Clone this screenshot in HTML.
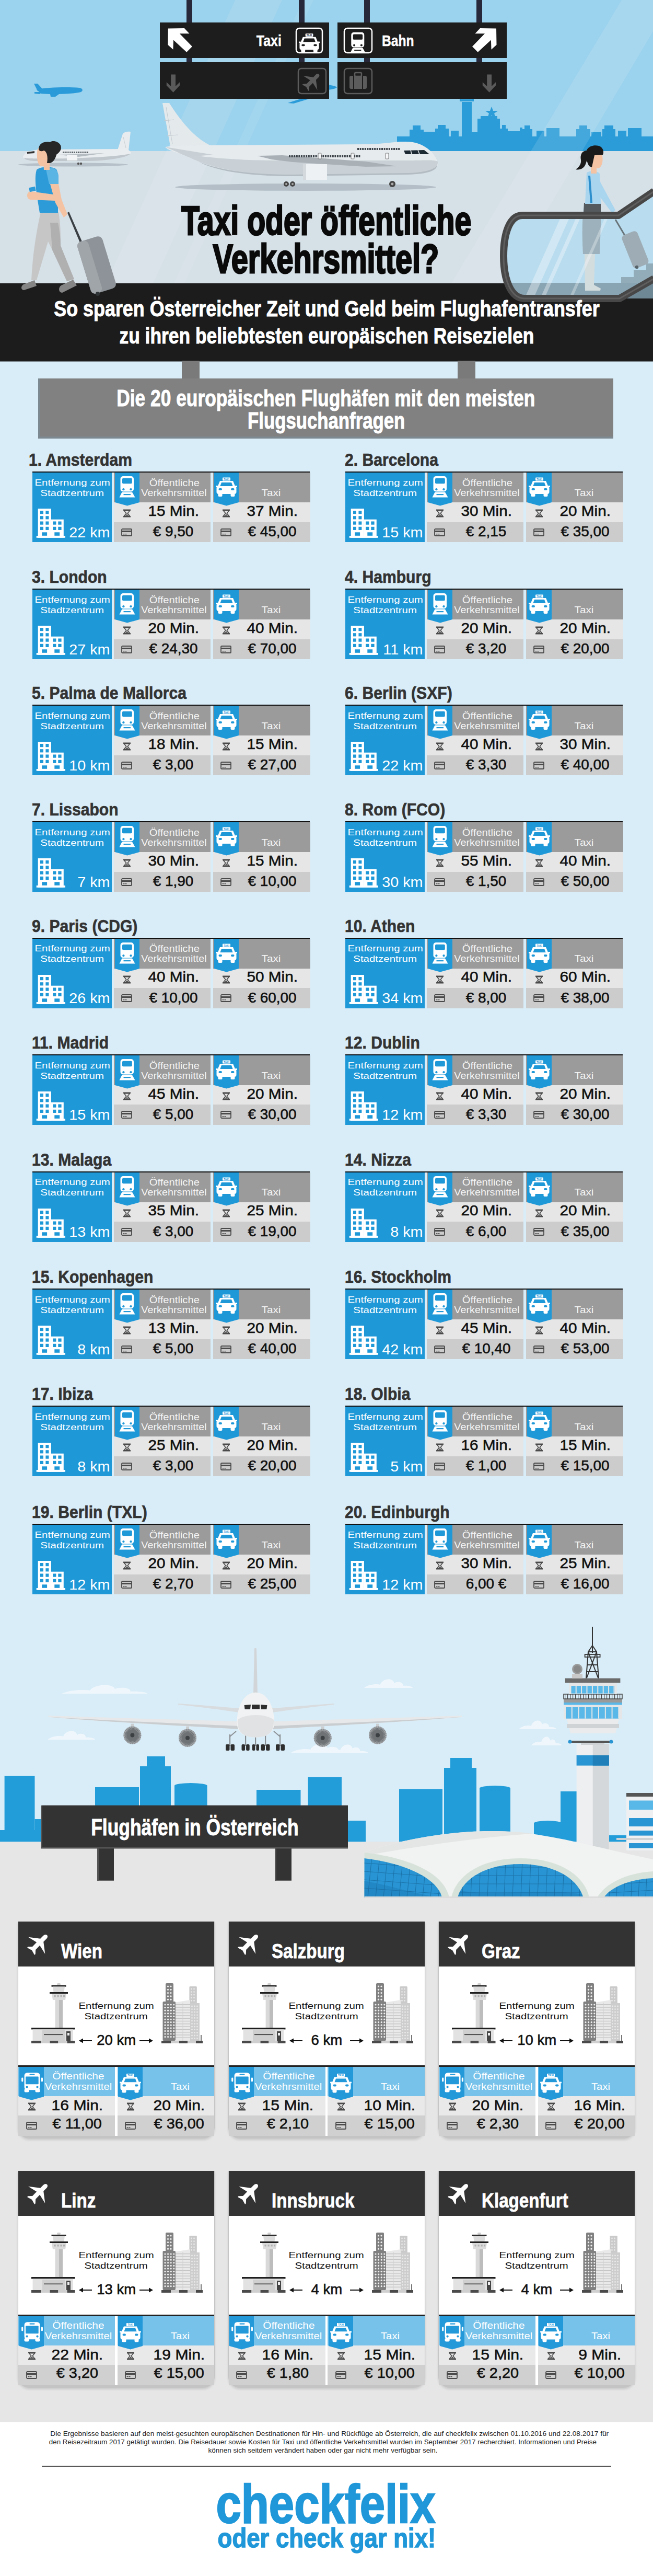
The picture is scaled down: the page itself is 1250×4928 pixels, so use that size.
<!DOCTYPE html><html lang='de'><head><meta charset='utf-8'><title>Taxi oder öffentliche Verkehrsmittel?</title><style>
html,body{margin:0;padding:0}
body{width:1250px;background:#fff;font-family:'Liberation Sans', Arial, Helvetica, sans-serif}
#pg{position:relative;width:1250px;height:4928px;overflow:hidden}
.t{position:absolute;white-space:nowrap;line-height:1}
.r{position:absolute}
.s{position:absolute;overflow:visible}
</style></head><body><div id='pg'>
<div class=r style="left:0.0px;top:0.0px;width:1250.0px;height:3530.0px;background:#d9edf8;"></div>
<div class=r style="left:0.0px;top:3524.0px;width:1250.0px;height:1100.0px;background:#e6e6e6;"></div>
<div class=r style="left:0.0px;top:4624.0px;width:1250.0px;height:304.0px;background:#ffffff;"></div>
<svg class=s style="left:0.0px;top:0.0px;" width="1250" height="690" viewBox="0 0 1250 690"><rect x='0' y='0' width='1250' height='290' fill='#9bd2ed'/><rect x='760' y='261' width='490' height='29' fill='#2b9cd8'/><rect x='784' y='248' width='27' height='13' fill='#2b9cd8'/><rect x='790' y='240' width='15' height='8' fill='#2b9cd8'/><rect x='811' y='252' width='22' height='9' fill='#2b9cd8'/><rect x='833' y='246' width='26' height='15' fill='#2b9cd8'/><rect x='838' y='239' width='15' height='7' fill='#2b9cd8'/><rect x='863' y='250' width='15' height='11' fill='#2b9cd8'/><rect x='884' y='195' width='19' height='66' fill='#2b9cd8'/><rect x='903' y='253' width='12' height='8' fill='#2b9cd8'/><rect x='914' y='227' width='43' height='34' fill='#2b9cd8'/><rect x='957' y='246' width='15' height='15' fill='#2b9cd8'/><rect x='961' y='239' width='7' height='7' fill='#2b9cd8'/><rect x='972' y='251' width='23' height='10' fill='#2b9cd8'/><rect x='995' y='244' width='5' height='17' fill='#2b9cd8'/><rect x='1000' y='247' width='19' height='14' fill='#2b9cd8'/><rect x='1004' y='240' width='11' height='7' fill='#2b9cd8'/><rect x='1027' y='250' width='15' height='11' fill='#2b9cd8'/><rect x='1046' y='245' width='25' height='16' fill='#2b9cd8'/><rect x='1103' y='247' width='27' height='14' fill='#2b9cd8'/><rect x='1109' y='240' width='15' height='7' fill='#2b9cd8'/><rect x='1132' y='253' width='19' height='8' fill='#2b9cd8'/><rect x='1153' y='247' width='25' height='14' fill='#2b9cd8'/><rect x='1157' y='240' width='17' height='7' fill='#2b9cd8'/><rect x='1183' y='250' width='16' height='11' fill='#2b9cd8'/><rect x='1202' y='245' width='26' height='16' fill='#2b9cd8'/><rect x='880' y='190' width='27' height='4' fill='#2b9cd8'/><rect x='880' y='186' width='3' height='6' fill='#2b9cd8'/><rect x='904' y='186' width='3' height='6' fill='#2b9cd8'/><polygon points='941,204 944,212 953,212 946,217 949,226 941,221 933,226 936,217 929,212 938,212' fill='#2b9cd8'/><rect x='920' y='222' width='32' height='6' fill='#2b9cd8'/><path d='M600 161 C620 161 638 162 645 167 C640 172 620 173 600 173 Z' fill='#2a9ad8'/><path d='M551 197 L585 186 L602 186 L562 198 Z' fill='#2a9ad8'/><rect x='0' y='289' width='1250' height='260' fill='#d6e0e7'/><polygon points='200,549 290,549 540,0 450,0' fill='#ffffff' opacity='0.10'/><polygon points='330,549 350,549 600,0 580,0' fill='#ffffff' opacity='0.08'/><polygon points='860,549 960,549 1250,60 1250,0 1190,0' fill='#ffffff' opacity='0.12'/><g fill='#2a9ad8'><path d='M70 171 C90 167 130 166 152 168 C158 169 160 173 155 176 C140 180 100 181 78 179 Z'/><path d='M65 160 L72 160 L83 172 L72 174 Z'/><path d='M95 175 L120 175 L106 185 L97 185 Z'/><path d='M66 176 L80 176 L76 180 L66 179 Z'/></g><ellipse cx='140' cy='315' rx='105' ry='3.5' fill='#b5c0c8'/><path d='M225 287 L235 256 C238 252 244 251 250 252 L246 288 Z' fill='#e8ecee'/><path d='M236 262 L241 283' stroke='#c9cfd3' stroke-width='1'/><path d='M44 300 C46 292 58 287 78 286 L236 285 C246 285 252 290 250 294 C246 300 220 303 180 304 L70 306 C54 306 44 304 44 300 Z' fill='#e9edf0'/><path d='M46 302 C60 305 200 304 250 294 C244 301 210 307 170 308 L72 308 C58 308 48 306 46 302 Z' fill='#c1c8cd'/><path d='M112 296 L200 293 L150 300 Z' fill='#b4bcc2'/><rect x='128' y='296' width='20' height='11' fill='#f2f4f5'/><path d='M52 291 L66 289 L66 293 L52 294 Z' fill='#333'/><circle cx='150' cy='313' r='2.2' fill='#555'/><circle cx='155' cy='313' r='2.2' fill='#555'/><rect x='120.0' y='290' width='2.2' height='2.5' fill='#4a5258'/><rect x='123.6' y='290' width='2.2' height='2.5' fill='#4a5258'/><rect x='127.2' y='290' width='2.2' height='2.5' fill='#4a5258'/><rect x='130.8' y='290' width='2.2' height='2.5' fill='#4a5258'/><rect x='134.4' y='290' width='2.2' height='2.5' fill='#4a5258'/><rect x='138.0' y='290' width='2.2' height='2.5' fill='#4a5258'/><rect x='141.6' y='290' width='2.2' height='2.5' fill='#4a5258'/><rect x='145.2' y='290' width='2.2' height='2.5' fill='#4a5258'/><rect x='148.8' y='290' width='2.2' height='2.5' fill='#4a5258'/><rect x='152.4' y='290' width='2.2' height='2.5' fill='#4a5258'/><rect x='156.0' y='290' width='2.2' height='2.5' fill='#4a5258'/><rect x='159.6' y='290' width='2.2' height='2.5' fill='#4a5258'/><rect x='163.2' y='290' width='2.2' height='2.5' fill='#4a5258'/><rect x='166.8' y='290' width='2.2' height='2.5' fill='#4a5258'/><ellipse cx='585' cy='358' rx='250' ry='7' fill='#b3bec6'/><path d='M311 197 L324 197 C345 230 370 262 402 278 L326 280 Z' fill='#e4e9ec'/><path d='M318 205 L330 275 M314 231 L333 229 M319 260 L340 258' stroke='#c4ccd1' stroke-width='1' fill='none'/><path d='M316 281 C330 279 360 278 400 278 L700 276 C740 276 760 268 790 272 C815 276 835 295 838 312 C839 325 820 332 780 333 L560 336 C470 336 400 320 360 300 C340 292 322 288 316 281 Z' fill='#e6ebee'/><path d='M340 292 C380 300 440 306 520 307 L780 307 C810 307 830 305 838 309 C839 325 820 332 780 333 L560 336 C470 336 400 320 360 300 Z' fill='#c9d1d6'/><path d='M380 309 C420 326 480 334 560 334 L780 331 C815 330 832 324 837 316 C836 326 820 333 780 334 L560 337 C470 337 410 326 380 309 Z' fill='#b3bcc2'/><path d='M316 281 L408 296 L360 300 Z' fill='#c9d0d5'/><path d='M492 298 L540 297 L700 309 L760 318 L700 319 L560 310 L520 305 Z' fill='#a9b1b7'/><rect x='580' y='314' width='46' height='30' fill='#eef1f3'/><rect x='580' y='314' width='6' height='30' fill='#d3d9dd'/><path d='M773 288 L812 287 L822 295 L776 295 Z' fill='#1e2a33'/><path d='M786 287 L788 295 M800 287 L803 295' stroke='#e6ebee' stroke-width='1.5'/><circle cx='548' cy='352' r='5' fill='#444'/><circle cx='560' cy='352' r='5' fill='#444'/><circle cx='751' cy='352' r='6' fill='#444'/><circle cx='548' cy='352' r='2' fill='#aaa'/><circle cx='560' cy='352' r='2' fill='#aaa'/><circle cx='751' cy='352' r='2.4' fill='#aaa'/><rect x='553.0' y='297' width='3' height='4' fill='#3a4248'/><rect x='557.6' y='297' width='3' height='4' fill='#3a4248'/><rect x='562.2' y='297' width='3' height='4' fill='#3a4248'/><rect x='566.8' y='297' width='3' height='4' fill='#3a4248'/><rect x='571.4' y='297' width='3' height='4' fill='#3a4248'/><rect x='576.0' y='297' width='3' height='4' fill='#3a4248'/><rect x='580.6' y='297' width='3' height='4' fill='#3a4248'/><rect x='585.2' y='297' width='3' height='4' fill='#3a4248'/><rect x='589.8' y='297' width='3' height='4' fill='#3a4248'/><rect x='594.4' y='297' width='3' height='4' fill='#3a4248'/><rect x='599.0' y='297' width='3' height='4' fill='#3a4248'/><rect x='603.6' y='297' width='3' height='4' fill='#3a4248'/><rect x='608.2' y='297' width='3' height='4' fill='#3a4248'/><rect x='612.8' y='297' width='3' height='4' fill='#3a4248'/><rect x='617.4' y='297' width='3' height='4' fill='#3a4248'/><rect x='622.0' y='297' width='3' height='4' fill='#3a4248'/><rect x='626.6' y='297' width='3' height='4' fill='#3a4248'/><rect x='631.2' y='297' width='3' height='4' fill='#3a4248'/><rect x='635.8' y='297' width='3' height='4' fill='#3a4248'/><rect x='640.4' y='297' width='3' height='4' fill='#3a4248'/><rect x='645.0' y='297' width='3' height='4' fill='#3a4248'/><rect x='649.6' y='297' width='3' height='4' fill='#3a4248'/><rect x='654.2' y='297' width='3' height='4' fill='#3a4248'/><rect x='658.8' y='297' width='3' height='4' fill='#3a4248'/><rect x='663.4' y='297' width='3' height='4' fill='#3a4248'/><rect x='668.0' y='297' width='3' height='4' fill='#3a4248'/><rect x='672.6' y='297' width='3' height='4' fill='#3a4248'/><rect x='677.2' y='297' width='3' height='4' fill='#3a4248'/><rect x='681.8' y='297' width='3' height='4' fill='#3a4248'/><rect x='686.4' y='297' width='3' height='4' fill='#3a4248'/><rect x='684.0' y='283' width='3' height='4' fill='#3a4248'/><rect x='688.6' y='283' width='3' height='4' fill='#3a4248'/><rect x='693.2' y='283' width='3' height='4' fill='#3a4248'/><rect x='697.8' y='283' width='3' height='4' fill='#3a4248'/><rect x='702.4' y='283' width='3' height='4' fill='#3a4248'/><rect x='707.0' y='283' width='3' height='4' fill='#3a4248'/><rect x='711.6' y='283' width='3' height='4' fill='#3a4248'/><rect x='716.2' y='283' width='3' height='4' fill='#3a4248'/><rect x='720.8' y='283' width='3' height='4' fill='#3a4248'/><rect x='725.4' y='283' width='3' height='4' fill='#3a4248'/><rect x='730.0' y='283' width='3' height='4' fill='#3a4248'/><rect x='734.6' y='283' width='3' height='4' fill='#3a4248'/><rect x='739.2' y='283' width='3' height='4' fill='#3a4248'/><rect x='743.8' y='283' width='3' height='4' fill='#3a4248'/><rect x='748.4' y='283' width='3' height='4' fill='#3a4248'/><rect x='753.0' y='283' width='3' height='4' fill='#3a4248'/><rect x='757.6' y='283' width='3' height='4' fill='#3a4248'/><rect x='762.2' y='283' width='3' height='4' fill='#3a4248'/><rect x='609' y='293' width='6' height='11' rx='1' fill='#f5f7f8' stroke='#555' stroke-width='0.8'/><rect x='672' y='293' width='6' height='11' rx='1' fill='#f5f7f8' stroke='#555' stroke-width='0.8'/><rect x='738' y='293' width='6' height='11' rx='1' fill='#f5f7f8' stroke='#555' stroke-width='0.8'/><rect x='357' y='0' width='11' height='121' fill='#27283a'/><rect x='572' y='0' width='11' height='121' fill='#27283a'/><rect x='697' y='0' width='11' height='121' fill='#27283a'/><rect x='912' y='0' width='11' height='121' fill='#27283a'/><rect x='306' y='43' width='324' height='68' fill='#1d1d1d'/><rect x='306' y='119' width='324' height='70' fill='#1d1d1d'/><rect x='646' y='43' width='324' height='68' fill='#1d1d1d'/><rect x='646' y='119' width='324' height='70' fill='#1d1d1d'/><polygon points='321.8,54.6 352.9,54.1 362.5,64.3 343.8,64.3 367.9,88.9 357.2,99.7 332.0,76.6 331.4,94.8 321.3,85.7' fill='#fff'/><polygon points='950.0,54.6 919.0,54.1 909.4,64.3 928.0,64.3 904.0,88.9 914.7,99.7 939.9,76.6 940.5,94.8 950.5,85.7' fill='#fff'/><polygon points='327.2,142.6 336.0,142.6 336.0,165.0 344.0,157.2 344.0,163.5 331.6,176.7 318.8,163.5 318.8,157.2 327.2,165.0' fill='#5a5a5a'/><polygon points='932.2,142.6 941.0,142.6 941.0,165.0 949.0,157.2 949.0,163.5 936.6,176.7 923.8,163.5 923.8,157.2 932.2,165.0' fill='#5a5a5a'/><rect x='567' y='54' width='50' height='47' rx='6' fill='none' stroke='#fff' stroke-width='2.5'/><g transform='translate(569 55) scale(0.98)'><rect x='16' y='9.5' width='15' height='6' rx='1' fill='#fff'/><text x='23.5' y='14.6' font-size='4.8' font-weight='700' text-anchor='middle' fill='#1d1d1d' font-family="Liberation Sans">TAXI</text><path d='M11 16 H36 L40.5 27 H6.5 Z' fill='#fff'/><path d='M14 19 H33 L35.6 26 H11.4 Z' fill='#1d1d1d'/><rect x='4.5' y='26' width='38' height='15' rx='4' fill='#fff'/><rect x='7.5' y='39' width='8' height='7' rx='2' fill='#fff'/><rect x='31.5' y='39' width='8' height='7' rx='2' fill='#fff'/><rect x='8.5' y='30' width='6.5' height='4' rx='2' fill='#1d1d1d'/><rect x='32' y='30' width='6.5' height='4' rx='2' fill='#1d1d1d'/><rect x='3' y='25' width='4' height='3' rx='1' fill='#fff'/><rect x='40' y='25' width='4' height='3' rx='1' fill='#fff'/></g><rect x='659' y='54' width='53' height='47' rx='6' fill='none' stroke='#fff' stroke-width='2.5'/><g transform='translate(662 55) scale(0.98)'><rect x='10.5' y='7' width='25.5' height='29.5' rx='5' fill='#fff'/><rect x='14' y='10.8' width='18.8' height='10.5' rx='2' fill='#1d1d1d'/><circle cx='16.4' cy='32.2' r='2.1' fill='#1d1d1d'/><circle cx='30.5' cy='32.2' r='2.1' fill='#1d1d1d'/><polygon points='13.5,37.5 33,37.5 38.5,47.5 8.5,47.5' fill='#fff'/><rect x='16.5' y='41' width='13.5' height='2.2' fill='#1d1d1d'/></g><rect x='571' y='131' width='53' height='48' rx='6' fill='none' stroke='#5c5c5c' stroke-width='2.5'/><g transform='translate(597.5 155) rotate(45) scale(0.8)'><path d='M0,-23 C3,-23 4.5,-20 4.5,-17 L4.5,-8.5 L24,6.4 L4.5,2 L4.5,14 L10.5,20.5 L10.5,23 L0,20 L-10.5,23 L-10.5,20.5 L-4.5,14 L-4.5,2 L-24,6.4 L-4.5,-8.5 L-4.5,-17 C-4.5,-20 -3,-23 0,-23 Z' fill='#5c5c5c'/></g><rect x='659' y='131' width='53' height='48' rx='6' fill='none' stroke='#5c5c5c' stroke-width='2.5'/><rect x='669' y='145' width='33' height='25' rx='3' fill='#5c5c5c'/><rect x='679' y='139' width='13' height='7' rx='2' fill='none' stroke='#5c5c5c' stroke-width='2.5'/><rect x='676' y='145' width='2' height='25' fill='#1d1d1d'/><rect x='693' y='145' width='2' height='25' fill='#1d1d1d'/><rect x='0' y='542' width='1250' height='149.5' fill='#1c1c1c'/><path d='M129 407 L132 405 L157 462 L153 464 Z' fill='#3a3f44'/><g transform='rotate(-17 185 507)'><rect x='160' y='455' width='50' height='104' rx='9' fill='#8d9398'/><rect x='160' y='455' width='22' height='104' rx='9' fill='#a0a5a9'/></g><circle cx='187' cy='562' r='4' fill='#2f3437'/><path d='M78 405 L112 405 C116 430 116 445 116 470 L140 534 L128 538 L100 478 L92 462 L70 536 L60 536 C62 500 66 460 78 405 Z' fill='#c6c6c6'/><path d='M96 426 L111 426 C114 440 116 455 116 470 L142 534 L128 538 L100 478 Z' fill='#b0b0b0'/><path d='M45 544 L66 536 L70 547 L46 555 C40 555 39 548 45 544 Z' fill='#858585'/><path d='M117 546 L140 535 L147 546 L119 560 C112 560 111 550 117 546 Z' fill='#858585'/><path d='M70 325 C78 318 100 318 108 324 C114 334 112 370 111 407 L76 407 C72 380 64 345 70 325 Z' fill='#2d9bd8'/><path d='M88 324 C100 318 110 322 112 336 L112 352 L94 352 Z' fill='#5ab4e4'/><path d='M96 352 L112 352 L118 382 L129 410 L122 416 L106 388 Z' fill='#f4c3a3'/><path d='M58 366 L102 372 L106 384 L58 382 C50 380 50 368 58 366 Z' fill='#f4c3a3'/><rect x='56' y='358' width='12' height='8' fill='#2d9bd8' transform='rotate(-12 62 362)'/><path d='M83 308 L95 308 L95 325 L84 325 Z' fill='#f4c3a3'/><path d='M71 292 C71 282 78 278 86 278 L94 300 C94 312 88 318 80 318 C74 318 70 308 71 292 Z' fill='#f4c3a3'/><path d='M74 286 C74 274 84 270 96 272 C100 268 112 270 116 278 C120 288 110 294 108 296 C106 304 102 310 96 312 L90 312 C92 300 90 290 84 288 C80 290 76 290 74 286 Z' fill='#262626'/><path d='M1250 366 L1184 412 L1000 412 C976 412 964 445 964 490 C964 535 978 571 1004 571 L1186 571 L1250 534 Z' fill='#b9dcee'/><path d='M968 541 L1250 541 L1250 571 L992 571 Z' fill='#6f8896'/><path d='M1189 541 L1189 530 L1213 530 L1213 517 L1237 517 L1237 504 L1250 504 L1250 541 Z' fill='#7d939f'/><path d='M1119 486 L1139 486 L1137 545 L1150 552 L1149 556 L1120 556 Z' fill='#e2ddd6'/><path d='M1118 388 L1150 388 L1150 430 L1148 486 L1116 486 C1114 450 1114 420 1118 388 Z' fill='#8e9aa2'/><path d='M1118 388 L1150 388 L1150 407 L1118 407 Z' fill='#555a5e'/><path d='M1123 331 C1128 326 1142 326 1148 332 L1150 390 L1120 390 Z' fill='#a9d5ef'/><path d='M1126 336 L1130 336 L1134 388 L1130 388 Z' fill='#2d8fcc'/><path d='M1134 338 C1140 336 1146 340 1150 350 L1178 402 L1172 408 L1142 368 Z' fill='#a9d5ef'/><path d='M1131 320 L1142 320 L1142 332 L1131 332 Z' fill='#f4c3a3'/><path d='M1131 294 L1152 294 C1155 304 1154 318 1146 322 L1132 322 Z' fill='#f4c3a3'/><path d='M1122 296 C1120 282 1134 276 1146 279 C1154 281 1157 290 1154 296 L1138 297 C1136 306 1134 314 1133 320 L1128 318 C1124 312 1122 304 1122 296 Z' fill='#1a1a1a'/><path d='M1124 288 C1114 288 1110 296 1112 306 C1113 314 1108 320 1102 324 C1110 326 1118 322 1121 314 C1124 306 1126 298 1126 292 Z' fill='#1a1a1a'/><path d='M1178 420 L1197 452' stroke='#3d3d3d' stroke-width='3'/><g transform='rotate(-22 1215 478)'><rect x='1200' y='444' width='32' height='68' rx='7' fill='#8e9397'/></g><circle cx='1219' cy='511' r='3.2' fill='#222'/><path d='M1250 366 L1184 412 L1000 412 C976 412 964 445 964 490 C964 535 978 571 1004 571 L1186 571 L1250 534 Z' fill='#b9dcee' opacity='0.35'/><polygon points='1005,569 1075,412 1092,412 1022,569' fill='#ffffff' opacity='0.35'/><polygon points='1035,569 1105,412 1113,412 1043,569' fill='#ffffff' opacity='0.35'/><polygon points='1090,569 1160,412 1166,412 1096,569' fill='#ffffff' opacity='0.3'/><path d='M1252 366 L1184 412 L1000 412 C976 412 964 445 964 490 C964 535 978 571 1004 571 L1186 571 L1252 533' fill='none' stroke='#474747' stroke-width='14' stroke-linejoin='round'/><path d='M1252 366 L1184 412 L1000 412 C976 412 964 445 964 490 C964 535 978 571 1004 571 L1186 571 L1252 533' fill='none' stroke='#5f5f5f' stroke-width='3' stroke-linejoin='round'/></svg>
<div class=t style="left:-2461.5px;width:3000px;text-align:right;top:62.6px;font-size:30px;font-weight:700;color:#fff;-webkit-text-stroke:0.5px #fff;"><span style="display:inline-block;transform:scaleX(0.83);transform-origin:right;">Taxi</span></div>
<div class=t style="left:731.0px;top:62.6px;font-size:30px;font-weight:700;color:#fff;-webkit-text-stroke:0.5px #fff;"><span style="display:inline-block;transform:scaleX(0.82);transform-origin:left;">Bahn</span></div>
<div class=t style="left:-875.5px;width:3000px;text-align:center;top:383.8px;font-size:77px;font-weight:700;color:#0a0a0a;-webkit-text-stroke:3px #0a0a0a;"><span style="display:inline-block;transform:scaleX(0.743);transform-origin:center;">Taxi oder öffentliche</span></div>
<div class=t style="left:-876.0px;width:3000px;text-align:center;top:457.3px;font-size:77px;font-weight:700;color:#0a0a0a;-webkit-text-stroke:3px #0a0a0a;"><span style="display:inline-block;transform:scaleX(0.749);transform-origin:center;">Verkehrsmittel?</span></div>
<div class=t style="left:-875.0px;width:3000px;text-align:center;top:570.4px;font-size:42px;font-weight:700;color:#fff;-webkit-text-stroke:1px #fff;"><span style="display:inline-block;transform:scaleX(0.854);transform-origin:center;">So sparen Österreicher Zeit und Geld beim Flughafentransfer</span></div>
<div class=t style="left:-875.0px;width:3000px;text-align:center;top:622.4px;font-size:42px;font-weight:700;color:#fff;-webkit-text-stroke:1px #fff;"><span style="display:inline-block;transform:scaleX(0.842);transform-origin:center;">zu ihren beliebtesten europäischen Reisezielen</span></div>
<div class=r style="left:348.0px;top:690.0px;width:34.0px;height:34.0px;background:#7a7a7a;"></div>
<div class=r style="left:876.0px;top:690.0px;width:34.0px;height:34.0px;background:#7a7a7a;"></div>
<div class=r style="left:73.0px;top:724.0px;width:1101.0px;height:115.0px;background:#7d8990;"></div>
<div class=r style="left:77.0px;top:724.0px;width:1097.0px;height:111.0px;background:#818181;"></div>
<div class=t style="left:-876.0px;width:3000px;text-align:center;top:739.8px;font-size:44px;font-weight:700;color:#fff;-webkit-text-stroke:1px #fff;"><span style="display:inline-block;transform:scaleX(0.803);transform-origin:center;">Die 20 europäischen Flughäfen mit den meisten</span></div>
<div class=t style="left:-875.0px;width:3000px;text-align:center;top:782.8px;font-size:44px;font-weight:700;color:#fff;-webkit-text-stroke:1px #fff;"><span style="display:inline-block;transform:scaleX(0.79);transform-origin:center;">Flugsuchanfragen</span></div>
<div class=t style="left:55.0px;top:862.2px;font-size:34px;font-weight:700;color:#333;-webkit-text-stroke:0.7px #333;"><span style="display:inline-block;transform:scaleX(0.885);transform-origin:left;">1. Amsterdam</span></div>
<div class=r style="left:62.0px;top:902.0px;width:531.0px;height:2.0px;background:#111;"></div>
<div class=r style="left:62.0px;top:904.0px;width:152.0px;height:133.0px;background:#1f98d8;"></div>
<div class=t style="left:-1361.5px;width:3000px;text-align:center;top:914.9px;font-size:17.2px;font-weight:400;color:#fff;"><span style="display:inline-block;transform:scaleX(1.19);transform-origin:center;">Entfernung zum</span></div>
<div class=t style="left:-1361.5px;width:3000px;text-align:center;top:934.9px;font-size:17.2px;font-weight:400;color:#fff;"><span style="display:inline-block;transform:scaleX(1.19);transform-origin:center;">Stadtzentrum</span></div>
<svg class=s style="left:62.0px;top:965.0px;" width="70" height="70" viewBox="0 0 70 70"><rect x='10.7' y='8' width='25.2' height='55.8' fill='#fff'/><rect x='35.9' y='28.7' width='23.9' height='35' fill='#fff'/><rect x='7.7' y='60' width='55.3' height='3.8' fill='#fff'/><rect x='15' y='12' width='6' height='6.2' fill='#1f98d8'/><rect x='25.4' y='12' width='6' height='6.2' fill='#1f98d8'/><rect x='15' y='22.2' width='6' height='6.2' fill='#1f98d8'/><rect x='25.4' y='22.2' width='6' height='6.2' fill='#1f98d8'/><rect x='15' y='32.5' width='6' height='6.2' fill='#1f98d8'/><rect x='25.4' y='32.5' width='6' height='6.2' fill='#1f98d8'/><rect x='15' y='42.8' width='6' height='6.2' fill='#1f98d8'/><rect x='25.4' y='42.8' width='6' height='6.2' fill='#1f98d8'/><rect x='39.1' y='32.5' width='6.3' height='6.2' fill='#1f98d8'/><rect x='49.3' y='32.5' width='6.3' height='6.2' fill='#1f98d8'/><rect x='39.1' y='42.8' width='6.3' height='6.2' fill='#1f98d8'/><rect x='49.3' y='42.8' width='6.3' height='6.2' fill='#1f98d8'/><rect x='18.2' y='53.3' width='9.9' height='6.5' fill='#1f98d8'/><rect x='42.3' y='53.3' width='9.9' height='6.5' fill='#1f98d8'/></svg>
<div class=t style="left:-2789.0px;width:3000px;text-align:right;top:1005.6px;font-size:27px;font-weight:400;color:#fff;"><span style="display:inline-block;transform:scaleX(1.066);transform-origin:right;">22 km</span></div>
<div class=r style="left:217.8px;top:904.0px;width:185.0px;height:57.0px;background:#9b9b9b;"></div>
<div class=r style="left:217.8px;top:961.0px;width:185.0px;height:37.5px;background:#e6e6e6;"></div>
<div class=r style="left:217.8px;top:998.5px;width:185.0px;height:38.5px;background:#cccccc;"></div>
<svg class=s style="left:219.8px;top:904.0px;" width="47" height="64" viewBox="0 0 47 64"><polygon points='0,0 47,0 47,57 23.5,63.6 0,57' fill='#1f98d8'/><rect x='10.5' y='7' width='25.5' height='29.5' rx='5' fill='#fff'/><rect x='14' y='10.8' width='18.8' height='10.5' rx='2' fill='#1f98d8'/><circle cx='16.4' cy='32.2' r='2.1' fill='#1f98d8'/><circle cx='30.5' cy='32.2' r='2.1' fill='#1f98d8'/><polygon points='13.5,37.5 33,37.5 38.5,47.5 8.5,47.5' fill='#fff'/><rect x='16.5' y='41' width='13.5' height='2.2' fill='#1f98d8'/></svg>
<div class=t style="left:-1166.5px;width:3000px;text-align:center;top:914.8px;font-size:18px;font-weight:400;color:#f4f4f4;"><span style="display:inline-block;transform:scaleX(1.12);transform-origin:center;">Öffentliche</span></div>
<div class=t style="left:-1166.5px;width:3000px;text-align:center;top:933.8px;font-size:18px;font-weight:400;color:#f4f4f4;"><span style="display:inline-block;transform:scaleX(1.1);transform-origin:center;">Verkehrsmittel</span></div>
<svg class=s style="left:235.3px;top:974.0px;" width="16" height="16" viewBox="0 0 16 16"><rect x='1' y='0.5' width='14' height='2.2' fill='#4a4a4a'/><rect x='1' y='13.3' width='14' height='2.2' fill='#4a4a4a'/><path d='M2.5 2.7 H13.5 L9.2 8 L13.5 13.3 H2.5 L6.8 8 Z' fill='none' stroke='#4a4a4a' stroke-width='1.6'/><path d='M5 12.4 L8 9.6 L11 12.4 Z' fill='#4a4a4a'/></svg>
<svg class=s style="left:232.3px;top:1010.5px;" width="21" height="15" viewBox="0 0 21 15"><rect x='1' y='1' width='19' height='13' rx='1.6' fill='none' stroke='#4a4a4a' stroke-width='1.8'/><rect x='1' y='4' width='19' height='3' fill='#4a4a4a'/><rect x='3.5' y='10' width='3' height='1.4' fill='#4a4a4a'/><rect x='7.5' y='10' width='3' height='1.4' fill='#4a4a4a'/></svg>
<div class=t style="left:-1168.0px;width:3000px;text-align:center;top:964.9px;font-size:27px;font-weight:400;color:#111;-webkit-text-stroke:0.6px #111;"><span style="display:inline-block;transform:scaleX(1.1);transform-origin:center;">15 Min.</span></div>
<div class=t style="left:-1168.0px;width:3000px;text-align:center;top:1004.1px;font-size:27px;font-weight:400;color:#111;-webkit-text-stroke:0.6px #111;"><span style="display:inline-block;transform:scaleX(1.034);transform-origin:center;">€ 9,50</span></div>
<div class=r style="left:407.5px;top:904.0px;width:186.0px;height:57.0px;background:#9b9b9b;"></div>
<div class=r style="left:407.5px;top:961.0px;width:186.0px;height:37.5px;background:#e6e6e6;"></div>
<div class=r style="left:407.5px;top:998.5px;width:186.0px;height:38.5px;background:#cccccc;"></div>
<svg class=s style="left:409.5px;top:904.0px;" width="47" height="64" viewBox="0 0 47 64"><polygon points='0,0 47,0 47,57 23.5,63.6 0,57' fill='#1f98d8'/><rect x='16' y='9.5' width='15' height='6' rx='1' fill='#fff'/><text x='23.5' y='14.6' font-size='4.8' font-weight='700' text-anchor='middle' fill='#1f98d8' font-family="Liberation Sans">TAXI</text><path d='M11 16 H36 L40.5 27 H6.5 Z' fill='#fff'/><path d='M14 19 H33 L35.6 26 H11.4 Z' fill='#1f98d8'/><rect x='4.5' y='26' width='38' height='15' rx='4' fill='#fff'/><rect x='7.5' y='39' width='8' height='7' rx='2' fill='#fff'/><rect x='31.5' y='39' width='8' height='7' rx='2' fill='#fff'/><rect x='8.5' y='30' width='6.5' height='4' rx='2' fill='#1f98d8'/><rect x='32' y='30' width='6.5' height='4' rx='2' fill='#1f98d8'/><rect x='3' y='25' width='4' height='3' rx='1' fill='#fff'/><rect x='40' y='25' width='4' height='3' rx='1' fill='#fff'/></svg>
<div class=t style="left:-980.5px;width:3000px;text-align:center;top:933.8px;font-size:18px;font-weight:400;color:#f4f4f4;"><span style="display:inline-block;transform:scaleX(1.15);transform-origin:center;">Taxi</span></div>
<svg class=s style="left:425.0px;top:974.0px;" width="16" height="16" viewBox="0 0 16 16"><rect x='1' y='0.5' width='14' height='2.2' fill='#4a4a4a'/><rect x='1' y='13.3' width='14' height='2.2' fill='#4a4a4a'/><path d='M2.5 2.7 H13.5 L9.2 8 L13.5 13.3 H2.5 L6.8 8 Z' fill='none' stroke='#4a4a4a' stroke-width='1.6'/><path d='M5 12.4 L8 9.6 L11 12.4 Z' fill='#4a4a4a'/></svg>
<svg class=s style="left:422.0px;top:1010.5px;" width="21" height="15" viewBox="0 0 21 15"><rect x='1' y='1' width='19' height='13' rx='1.6' fill='none' stroke='#4a4a4a' stroke-width='1.8'/><rect x='1' y='4' width='19' height='3' fill='#4a4a4a'/><rect x='3.5' y='10' width='3' height='1.4' fill='#4a4a4a'/><rect x='7.5' y='10' width='3' height='1.4' fill='#4a4a4a'/></svg>
<div class=t style="left:-979.0px;width:3000px;text-align:center;top:964.9px;font-size:27px;font-weight:400;color:#111;-webkit-text-stroke:0.6px #111;"><span style="display:inline-block;transform:scaleX(1.1);transform-origin:center;">37 Min.</span></div>
<div class=t style="left:-979.0px;width:3000px;text-align:center;top:1004.1px;font-size:27px;font-weight:400;color:#111;-webkit-text-stroke:0.6px #111;"><span style="display:inline-block;transform:scaleX(1.034);transform-origin:center;">€ 45,00</span></div>
<div class=t style="left:660.0px;top:862.2px;font-size:34px;font-weight:700;color:#333;-webkit-text-stroke:0.7px #333;"><span style="display:inline-block;transform:scaleX(0.885);transform-origin:left;">2. Barcelona</span></div>
<div class=r style="left:661.0px;top:902.0px;width:531.0px;height:2.0px;background:#111;"></div>
<div class=r style="left:661.0px;top:904.0px;width:152.0px;height:133.0px;background:#1f98d8;"></div>
<div class=t style="left:-762.5px;width:3000px;text-align:center;top:914.9px;font-size:17.2px;font-weight:400;color:#fff;"><span style="display:inline-block;transform:scaleX(1.19);transform-origin:center;">Entfernung zum</span></div>
<div class=t style="left:-762.5px;width:3000px;text-align:center;top:934.9px;font-size:17.2px;font-weight:400;color:#fff;"><span style="display:inline-block;transform:scaleX(1.19);transform-origin:center;">Stadtzentrum</span></div>
<svg class=s style="left:661.0px;top:965.0px;" width="70" height="70" viewBox="0 0 70 70"><rect x='10.7' y='8' width='25.2' height='55.8' fill='#fff'/><rect x='35.9' y='28.7' width='23.9' height='35' fill='#fff'/><rect x='7.7' y='60' width='55.3' height='3.8' fill='#fff'/><rect x='15' y='12' width='6' height='6.2' fill='#1f98d8'/><rect x='25.4' y='12' width='6' height='6.2' fill='#1f98d8'/><rect x='15' y='22.2' width='6' height='6.2' fill='#1f98d8'/><rect x='25.4' y='22.2' width='6' height='6.2' fill='#1f98d8'/><rect x='15' y='32.5' width='6' height='6.2' fill='#1f98d8'/><rect x='25.4' y='32.5' width='6' height='6.2' fill='#1f98d8'/><rect x='15' y='42.8' width='6' height='6.2' fill='#1f98d8'/><rect x='25.4' y='42.8' width='6' height='6.2' fill='#1f98d8'/><rect x='39.1' y='32.5' width='6.3' height='6.2' fill='#1f98d8'/><rect x='49.3' y='32.5' width='6.3' height='6.2' fill='#1f98d8'/><rect x='39.1' y='42.8' width='6.3' height='6.2' fill='#1f98d8'/><rect x='49.3' y='42.8' width='6.3' height='6.2' fill='#1f98d8'/><rect x='18.2' y='53.3' width='9.9' height='6.5' fill='#1f98d8'/><rect x='42.3' y='53.3' width='9.9' height='6.5' fill='#1f98d8'/></svg>
<div class=t style="left:-2190.0px;width:3000px;text-align:right;top:1005.6px;font-size:27px;font-weight:400;color:#fff;"><span style="display:inline-block;transform:scaleX(1.066);transform-origin:right;">15 km</span></div>
<div class=r style="left:816.8px;top:904.0px;width:185.0px;height:57.0px;background:#9b9b9b;"></div>
<div class=r style="left:816.8px;top:961.0px;width:185.0px;height:37.5px;background:#e6e6e6;"></div>
<div class=r style="left:816.8px;top:998.5px;width:185.0px;height:38.5px;background:#cccccc;"></div>
<svg class=s style="left:818.8px;top:904.0px;" width="47" height="64" viewBox="0 0 47 64"><polygon points='0,0 47,0 47,57 23.5,63.6 0,57' fill='#1f98d8'/><rect x='10.5' y='7' width='25.5' height='29.5' rx='5' fill='#fff'/><rect x='14' y='10.8' width='18.8' height='10.5' rx='2' fill='#1f98d8'/><circle cx='16.4' cy='32.2' r='2.1' fill='#1f98d8'/><circle cx='30.5' cy='32.2' r='2.1' fill='#1f98d8'/><polygon points='13.5,37.5 33,37.5 38.5,47.5 8.5,47.5' fill='#fff'/><rect x='16.5' y='41' width='13.5' height='2.2' fill='#1f98d8'/></svg>
<div class=t style="left:-567.5px;width:3000px;text-align:center;top:914.8px;font-size:18px;font-weight:400;color:#f4f4f4;"><span style="display:inline-block;transform:scaleX(1.12);transform-origin:center;">Öffentliche</span></div>
<div class=t style="left:-567.5px;width:3000px;text-align:center;top:933.8px;font-size:18px;font-weight:400;color:#f4f4f4;"><span style="display:inline-block;transform:scaleX(1.1);transform-origin:center;">Verkehrsmittel</span></div>
<svg class=s style="left:834.3px;top:974.0px;" width="16" height="16" viewBox="0 0 16 16"><rect x='1' y='0.5' width='14' height='2.2' fill='#4a4a4a'/><rect x='1' y='13.3' width='14' height='2.2' fill='#4a4a4a'/><path d='M2.5 2.7 H13.5 L9.2 8 L13.5 13.3 H2.5 L6.8 8 Z' fill='none' stroke='#4a4a4a' stroke-width='1.6'/><path d='M5 12.4 L8 9.6 L11 12.4 Z' fill='#4a4a4a'/></svg>
<svg class=s style="left:831.3px;top:1010.5px;" width="21" height="15" viewBox="0 0 21 15"><rect x='1' y='1' width='19' height='13' rx='1.6' fill='none' stroke='#4a4a4a' stroke-width='1.8'/><rect x='1' y='4' width='19' height='3' fill='#4a4a4a'/><rect x='3.5' y='10' width='3' height='1.4' fill='#4a4a4a'/><rect x='7.5' y='10' width='3' height='1.4' fill='#4a4a4a'/></svg>
<div class=t style="left:-569.0px;width:3000px;text-align:center;top:964.9px;font-size:27px;font-weight:400;color:#111;-webkit-text-stroke:0.6px #111;"><span style="display:inline-block;transform:scaleX(1.1);transform-origin:center;">30 Min.</span></div>
<div class=t style="left:-569.0px;width:3000px;text-align:center;top:1004.1px;font-size:27px;font-weight:400;color:#111;-webkit-text-stroke:0.6px #111;"><span style="display:inline-block;transform:scaleX(1.034);transform-origin:center;">€ 2,15</span></div>
<div class=r style="left:1006.5px;top:904.0px;width:186.0px;height:57.0px;background:#9b9b9b;"></div>
<div class=r style="left:1006.5px;top:961.0px;width:186.0px;height:37.5px;background:#e6e6e6;"></div>
<div class=r style="left:1006.5px;top:998.5px;width:186.0px;height:38.5px;background:#cccccc;"></div>
<svg class=s style="left:1008.5px;top:904.0px;" width="47" height="64" viewBox="0 0 47 64"><polygon points='0,0 47,0 47,57 23.5,63.6 0,57' fill='#1f98d8'/><rect x='16' y='9.5' width='15' height='6' rx='1' fill='#fff'/><text x='23.5' y='14.6' font-size='4.8' font-weight='700' text-anchor='middle' fill='#1f98d8' font-family="Liberation Sans">TAXI</text><path d='M11 16 H36 L40.5 27 H6.5 Z' fill='#fff'/><path d='M14 19 H33 L35.6 26 H11.4 Z' fill='#1f98d8'/><rect x='4.5' y='26' width='38' height='15' rx='4' fill='#fff'/><rect x='7.5' y='39' width='8' height='7' rx='2' fill='#fff'/><rect x='31.5' y='39' width='8' height='7' rx='2' fill='#fff'/><rect x='8.5' y='30' width='6.5' height='4' rx='2' fill='#1f98d8'/><rect x='32' y='30' width='6.5' height='4' rx='2' fill='#1f98d8'/><rect x='3' y='25' width='4' height='3' rx='1' fill='#fff'/><rect x='40' y='25' width='4' height='3' rx='1' fill='#fff'/></svg>
<div class=t style="left:-381.5px;width:3000px;text-align:center;top:933.8px;font-size:18px;font-weight:400;color:#f4f4f4;"><span style="display:inline-block;transform:scaleX(1.15);transform-origin:center;">Taxi</span></div>
<svg class=s style="left:1024.0px;top:974.0px;" width="16" height="16" viewBox="0 0 16 16"><rect x='1' y='0.5' width='14' height='2.2' fill='#4a4a4a'/><rect x='1' y='13.3' width='14' height='2.2' fill='#4a4a4a'/><path d='M2.5 2.7 H13.5 L9.2 8 L13.5 13.3 H2.5 L6.8 8 Z' fill='none' stroke='#4a4a4a' stroke-width='1.6'/><path d='M5 12.4 L8 9.6 L11 12.4 Z' fill='#4a4a4a'/></svg>
<svg class=s style="left:1021.0px;top:1010.5px;" width="21" height="15" viewBox="0 0 21 15"><rect x='1' y='1' width='19' height='13' rx='1.6' fill='none' stroke='#4a4a4a' stroke-width='1.8'/><rect x='1' y='4' width='19' height='3' fill='#4a4a4a'/><rect x='3.5' y='10' width='3' height='1.4' fill='#4a4a4a'/><rect x='7.5' y='10' width='3' height='1.4' fill='#4a4a4a'/></svg>
<div class=t style="left:-380.0px;width:3000px;text-align:center;top:964.9px;font-size:27px;font-weight:400;color:#111;-webkit-text-stroke:0.6px #111;"><span style="display:inline-block;transform:scaleX(1.1);transform-origin:center;">20 Min.</span></div>
<div class=t style="left:-380.0px;width:3000px;text-align:center;top:1004.1px;font-size:27px;font-weight:400;color:#111;-webkit-text-stroke:0.6px #111;"><span style="display:inline-block;transform:scaleX(1.034);transform-origin:center;">€ 35,00</span></div>
<div class=t style="left:61.0px;top:1086.2px;font-size:34px;font-weight:700;color:#333;-webkit-text-stroke:0.7px #333;"><span style="display:inline-block;transform:scaleX(0.885);transform-origin:left;">3. London</span></div>
<div class=r style="left:62.0px;top:1126.0px;width:531.0px;height:2.0px;background:#111;"></div>
<div class=r style="left:62.0px;top:1128.0px;width:152.0px;height:133.0px;background:#1f98d8;"></div>
<div class=t style="left:-1361.5px;width:3000px;text-align:center;top:1138.9px;font-size:17.2px;font-weight:400;color:#fff;"><span style="display:inline-block;transform:scaleX(1.19);transform-origin:center;">Entfernung zum</span></div>
<div class=t style="left:-1361.5px;width:3000px;text-align:center;top:1158.9px;font-size:17.2px;font-weight:400;color:#fff;"><span style="display:inline-block;transform:scaleX(1.19);transform-origin:center;">Stadtzentrum</span></div>
<svg class=s style="left:62.0px;top:1189.0px;" width="70" height="70" viewBox="0 0 70 70"><rect x='10.7' y='8' width='25.2' height='55.8' fill='#fff'/><rect x='35.9' y='28.7' width='23.9' height='35' fill='#fff'/><rect x='7.7' y='60' width='55.3' height='3.8' fill='#fff'/><rect x='15' y='12' width='6' height='6.2' fill='#1f98d8'/><rect x='25.4' y='12' width='6' height='6.2' fill='#1f98d8'/><rect x='15' y='22.2' width='6' height='6.2' fill='#1f98d8'/><rect x='25.4' y='22.2' width='6' height='6.2' fill='#1f98d8'/><rect x='15' y='32.5' width='6' height='6.2' fill='#1f98d8'/><rect x='25.4' y='32.5' width='6' height='6.2' fill='#1f98d8'/><rect x='15' y='42.8' width='6' height='6.2' fill='#1f98d8'/><rect x='25.4' y='42.8' width='6' height='6.2' fill='#1f98d8'/><rect x='39.1' y='32.5' width='6.3' height='6.2' fill='#1f98d8'/><rect x='49.3' y='32.5' width='6.3' height='6.2' fill='#1f98d8'/><rect x='39.1' y='42.8' width='6.3' height='6.2' fill='#1f98d8'/><rect x='49.3' y='42.8' width='6.3' height='6.2' fill='#1f98d8'/><rect x='18.2' y='53.3' width='9.9' height='6.5' fill='#1f98d8'/><rect x='42.3' y='53.3' width='9.9' height='6.5' fill='#1f98d8'/></svg>
<div class=t style="left:-2789.0px;width:3000px;text-align:right;top:1229.6px;font-size:27px;font-weight:400;color:#fff;"><span style="display:inline-block;transform:scaleX(1.066);transform-origin:right;">27 km</span></div>
<div class=r style="left:217.8px;top:1128.0px;width:185.0px;height:57.0px;background:#9b9b9b;"></div>
<div class=r style="left:217.8px;top:1185.0px;width:185.0px;height:37.5px;background:#e6e6e6;"></div>
<div class=r style="left:217.8px;top:1222.5px;width:185.0px;height:38.5px;background:#cccccc;"></div>
<svg class=s style="left:219.8px;top:1128.0px;" width="47" height="64" viewBox="0 0 47 64"><polygon points='0,0 47,0 47,57 23.5,63.6 0,57' fill='#1f98d8'/><rect x='10.5' y='7' width='25.5' height='29.5' rx='5' fill='#fff'/><rect x='14' y='10.8' width='18.8' height='10.5' rx='2' fill='#1f98d8'/><circle cx='16.4' cy='32.2' r='2.1' fill='#1f98d8'/><circle cx='30.5' cy='32.2' r='2.1' fill='#1f98d8'/><polygon points='13.5,37.5 33,37.5 38.5,47.5 8.5,47.5' fill='#fff'/><rect x='16.5' y='41' width='13.5' height='2.2' fill='#1f98d8'/></svg>
<div class=t style="left:-1166.5px;width:3000px;text-align:center;top:1138.8px;font-size:18px;font-weight:400;color:#f4f4f4;"><span style="display:inline-block;transform:scaleX(1.12);transform-origin:center;">Öffentliche</span></div>
<div class=t style="left:-1166.5px;width:3000px;text-align:center;top:1157.8px;font-size:18px;font-weight:400;color:#f4f4f4;"><span style="display:inline-block;transform:scaleX(1.1);transform-origin:center;">Verkehrsmittel</span></div>
<svg class=s style="left:235.3px;top:1198.0px;" width="16" height="16" viewBox="0 0 16 16"><rect x='1' y='0.5' width='14' height='2.2' fill='#4a4a4a'/><rect x='1' y='13.3' width='14' height='2.2' fill='#4a4a4a'/><path d='M2.5 2.7 H13.5 L9.2 8 L13.5 13.3 H2.5 L6.8 8 Z' fill='none' stroke='#4a4a4a' stroke-width='1.6'/><path d='M5 12.4 L8 9.6 L11 12.4 Z' fill='#4a4a4a'/></svg>
<svg class=s style="left:232.3px;top:1234.5px;" width="21" height="15" viewBox="0 0 21 15"><rect x='1' y='1' width='19' height='13' rx='1.6' fill='none' stroke='#4a4a4a' stroke-width='1.8'/><rect x='1' y='4' width='19' height='3' fill='#4a4a4a'/><rect x='3.5' y='10' width='3' height='1.4' fill='#4a4a4a'/><rect x='7.5' y='10' width='3' height='1.4' fill='#4a4a4a'/></svg>
<div class=t style="left:-1168.0px;width:3000px;text-align:center;top:1188.9px;font-size:27px;font-weight:400;color:#111;-webkit-text-stroke:0.6px #111;"><span style="display:inline-block;transform:scaleX(1.1);transform-origin:center;">20 Min.</span></div>
<div class=t style="left:-1168.0px;width:3000px;text-align:center;top:1228.1px;font-size:27px;font-weight:400;color:#111;-webkit-text-stroke:0.6px #111;"><span style="display:inline-block;transform:scaleX(1.034);transform-origin:center;">€ 24,30</span></div>
<div class=r style="left:407.5px;top:1128.0px;width:186.0px;height:57.0px;background:#9b9b9b;"></div>
<div class=r style="left:407.5px;top:1185.0px;width:186.0px;height:37.5px;background:#e6e6e6;"></div>
<div class=r style="left:407.5px;top:1222.5px;width:186.0px;height:38.5px;background:#cccccc;"></div>
<svg class=s style="left:409.5px;top:1128.0px;" width="47" height="64" viewBox="0 0 47 64"><polygon points='0,0 47,0 47,57 23.5,63.6 0,57' fill='#1f98d8'/><rect x='16' y='9.5' width='15' height='6' rx='1' fill='#fff'/><text x='23.5' y='14.6' font-size='4.8' font-weight='700' text-anchor='middle' fill='#1f98d8' font-family="Liberation Sans">TAXI</text><path d='M11 16 H36 L40.5 27 H6.5 Z' fill='#fff'/><path d='M14 19 H33 L35.6 26 H11.4 Z' fill='#1f98d8'/><rect x='4.5' y='26' width='38' height='15' rx='4' fill='#fff'/><rect x='7.5' y='39' width='8' height='7' rx='2' fill='#fff'/><rect x='31.5' y='39' width='8' height='7' rx='2' fill='#fff'/><rect x='8.5' y='30' width='6.5' height='4' rx='2' fill='#1f98d8'/><rect x='32' y='30' width='6.5' height='4' rx='2' fill='#1f98d8'/><rect x='3' y='25' width='4' height='3' rx='1' fill='#fff'/><rect x='40' y='25' width='4' height='3' rx='1' fill='#fff'/></svg>
<div class=t style="left:-980.5px;width:3000px;text-align:center;top:1157.8px;font-size:18px;font-weight:400;color:#f4f4f4;"><span style="display:inline-block;transform:scaleX(1.15);transform-origin:center;">Taxi</span></div>
<svg class=s style="left:425.0px;top:1198.0px;" width="16" height="16" viewBox="0 0 16 16"><rect x='1' y='0.5' width='14' height='2.2' fill='#4a4a4a'/><rect x='1' y='13.3' width='14' height='2.2' fill='#4a4a4a'/><path d='M2.5 2.7 H13.5 L9.2 8 L13.5 13.3 H2.5 L6.8 8 Z' fill='none' stroke='#4a4a4a' stroke-width='1.6'/><path d='M5 12.4 L8 9.6 L11 12.4 Z' fill='#4a4a4a'/></svg>
<svg class=s style="left:422.0px;top:1234.5px;" width="21" height="15" viewBox="0 0 21 15"><rect x='1' y='1' width='19' height='13' rx='1.6' fill='none' stroke='#4a4a4a' stroke-width='1.8'/><rect x='1' y='4' width='19' height='3' fill='#4a4a4a'/><rect x='3.5' y='10' width='3' height='1.4' fill='#4a4a4a'/><rect x='7.5' y='10' width='3' height='1.4' fill='#4a4a4a'/></svg>
<div class=t style="left:-979.0px;width:3000px;text-align:center;top:1188.9px;font-size:27px;font-weight:400;color:#111;-webkit-text-stroke:0.6px #111;"><span style="display:inline-block;transform:scaleX(1.1);transform-origin:center;">40 Min.</span></div>
<div class=t style="left:-979.0px;width:3000px;text-align:center;top:1228.1px;font-size:27px;font-weight:400;color:#111;-webkit-text-stroke:0.6px #111;"><span style="display:inline-block;transform:scaleX(1.034);transform-origin:center;">€ 70,00</span></div>
<div class=t style="left:660.0px;top:1086.2px;font-size:34px;font-weight:700;color:#333;-webkit-text-stroke:0.7px #333;"><span style="display:inline-block;transform:scaleX(0.885);transform-origin:left;">4. Hamburg</span></div>
<div class=r style="left:661.0px;top:1126.0px;width:531.0px;height:2.0px;background:#111;"></div>
<div class=r style="left:661.0px;top:1128.0px;width:152.0px;height:133.0px;background:#1f98d8;"></div>
<div class=t style="left:-762.5px;width:3000px;text-align:center;top:1138.9px;font-size:17.2px;font-weight:400;color:#fff;"><span style="display:inline-block;transform:scaleX(1.19);transform-origin:center;">Entfernung zum</span></div>
<div class=t style="left:-762.5px;width:3000px;text-align:center;top:1158.9px;font-size:17.2px;font-weight:400;color:#fff;"><span style="display:inline-block;transform:scaleX(1.19);transform-origin:center;">Stadtzentrum</span></div>
<svg class=s style="left:661.0px;top:1189.0px;" width="70" height="70" viewBox="0 0 70 70"><rect x='10.7' y='8' width='25.2' height='55.8' fill='#fff'/><rect x='35.9' y='28.7' width='23.9' height='35' fill='#fff'/><rect x='7.7' y='60' width='55.3' height='3.8' fill='#fff'/><rect x='15' y='12' width='6' height='6.2' fill='#1f98d8'/><rect x='25.4' y='12' width='6' height='6.2' fill='#1f98d8'/><rect x='15' y='22.2' width='6' height='6.2' fill='#1f98d8'/><rect x='25.4' y='22.2' width='6' height='6.2' fill='#1f98d8'/><rect x='15' y='32.5' width='6' height='6.2' fill='#1f98d8'/><rect x='25.4' y='32.5' width='6' height='6.2' fill='#1f98d8'/><rect x='15' y='42.8' width='6' height='6.2' fill='#1f98d8'/><rect x='25.4' y='42.8' width='6' height='6.2' fill='#1f98d8'/><rect x='39.1' y='32.5' width='6.3' height='6.2' fill='#1f98d8'/><rect x='49.3' y='32.5' width='6.3' height='6.2' fill='#1f98d8'/><rect x='39.1' y='42.8' width='6.3' height='6.2' fill='#1f98d8'/><rect x='49.3' y='42.8' width='6.3' height='6.2' fill='#1f98d8'/><rect x='18.2' y='53.3' width='9.9' height='6.5' fill='#1f98d8'/><rect x='42.3' y='53.3' width='9.9' height='6.5' fill='#1f98d8'/></svg>
<div class=t style="left:-2190.0px;width:3000px;text-align:right;top:1229.6px;font-size:27px;font-weight:400;color:#fff;"><span style="display:inline-block;transform:scaleX(1.066);transform-origin:right;">11 km</span></div>
<div class=r style="left:816.8px;top:1128.0px;width:185.0px;height:57.0px;background:#9b9b9b;"></div>
<div class=r style="left:816.8px;top:1185.0px;width:185.0px;height:37.5px;background:#e6e6e6;"></div>
<div class=r style="left:816.8px;top:1222.5px;width:185.0px;height:38.5px;background:#cccccc;"></div>
<svg class=s style="left:818.8px;top:1128.0px;" width="47" height="64" viewBox="0 0 47 64"><polygon points='0,0 47,0 47,57 23.5,63.6 0,57' fill='#1f98d8'/><rect x='10.5' y='7' width='25.5' height='29.5' rx='5' fill='#fff'/><rect x='14' y='10.8' width='18.8' height='10.5' rx='2' fill='#1f98d8'/><circle cx='16.4' cy='32.2' r='2.1' fill='#1f98d8'/><circle cx='30.5' cy='32.2' r='2.1' fill='#1f98d8'/><polygon points='13.5,37.5 33,37.5 38.5,47.5 8.5,47.5' fill='#fff'/><rect x='16.5' y='41' width='13.5' height='2.2' fill='#1f98d8'/></svg>
<div class=t style="left:-567.5px;width:3000px;text-align:center;top:1138.8px;font-size:18px;font-weight:400;color:#f4f4f4;"><span style="display:inline-block;transform:scaleX(1.12);transform-origin:center;">Öffentliche</span></div>
<div class=t style="left:-567.5px;width:3000px;text-align:center;top:1157.8px;font-size:18px;font-weight:400;color:#f4f4f4;"><span style="display:inline-block;transform:scaleX(1.1);transform-origin:center;">Verkehrsmittel</span></div>
<svg class=s style="left:834.3px;top:1198.0px;" width="16" height="16" viewBox="0 0 16 16"><rect x='1' y='0.5' width='14' height='2.2' fill='#4a4a4a'/><rect x='1' y='13.3' width='14' height='2.2' fill='#4a4a4a'/><path d='M2.5 2.7 H13.5 L9.2 8 L13.5 13.3 H2.5 L6.8 8 Z' fill='none' stroke='#4a4a4a' stroke-width='1.6'/><path d='M5 12.4 L8 9.6 L11 12.4 Z' fill='#4a4a4a'/></svg>
<svg class=s style="left:831.3px;top:1234.5px;" width="21" height="15" viewBox="0 0 21 15"><rect x='1' y='1' width='19' height='13' rx='1.6' fill='none' stroke='#4a4a4a' stroke-width='1.8'/><rect x='1' y='4' width='19' height='3' fill='#4a4a4a'/><rect x='3.5' y='10' width='3' height='1.4' fill='#4a4a4a'/><rect x='7.5' y='10' width='3' height='1.4' fill='#4a4a4a'/></svg>
<div class=t style="left:-569.0px;width:3000px;text-align:center;top:1188.9px;font-size:27px;font-weight:400;color:#111;-webkit-text-stroke:0.6px #111;"><span style="display:inline-block;transform:scaleX(1.1);transform-origin:center;">20 Min.</span></div>
<div class=t style="left:-569.0px;width:3000px;text-align:center;top:1228.1px;font-size:27px;font-weight:400;color:#111;-webkit-text-stroke:0.6px #111;"><span style="display:inline-block;transform:scaleX(1.034);transform-origin:center;">€ 3,20</span></div>
<div class=r style="left:1006.5px;top:1128.0px;width:186.0px;height:57.0px;background:#9b9b9b;"></div>
<div class=r style="left:1006.5px;top:1185.0px;width:186.0px;height:37.5px;background:#e6e6e6;"></div>
<div class=r style="left:1006.5px;top:1222.5px;width:186.0px;height:38.5px;background:#cccccc;"></div>
<svg class=s style="left:1008.5px;top:1128.0px;" width="47" height="64" viewBox="0 0 47 64"><polygon points='0,0 47,0 47,57 23.5,63.6 0,57' fill='#1f98d8'/><rect x='16' y='9.5' width='15' height='6' rx='1' fill='#fff'/><text x='23.5' y='14.6' font-size='4.8' font-weight='700' text-anchor='middle' fill='#1f98d8' font-family="Liberation Sans">TAXI</text><path d='M11 16 H36 L40.5 27 H6.5 Z' fill='#fff'/><path d='M14 19 H33 L35.6 26 H11.4 Z' fill='#1f98d8'/><rect x='4.5' y='26' width='38' height='15' rx='4' fill='#fff'/><rect x='7.5' y='39' width='8' height='7' rx='2' fill='#fff'/><rect x='31.5' y='39' width='8' height='7' rx='2' fill='#fff'/><rect x='8.5' y='30' width='6.5' height='4' rx='2' fill='#1f98d8'/><rect x='32' y='30' width='6.5' height='4' rx='2' fill='#1f98d8'/><rect x='3' y='25' width='4' height='3' rx='1' fill='#fff'/><rect x='40' y='25' width='4' height='3' rx='1' fill='#fff'/></svg>
<div class=t style="left:-381.5px;width:3000px;text-align:center;top:1157.8px;font-size:18px;font-weight:400;color:#f4f4f4;"><span style="display:inline-block;transform:scaleX(1.15);transform-origin:center;">Taxi</span></div>
<svg class=s style="left:1024.0px;top:1198.0px;" width="16" height="16" viewBox="0 0 16 16"><rect x='1' y='0.5' width='14' height='2.2' fill='#4a4a4a'/><rect x='1' y='13.3' width='14' height='2.2' fill='#4a4a4a'/><path d='M2.5 2.7 H13.5 L9.2 8 L13.5 13.3 H2.5 L6.8 8 Z' fill='none' stroke='#4a4a4a' stroke-width='1.6'/><path d='M5 12.4 L8 9.6 L11 12.4 Z' fill='#4a4a4a'/></svg>
<svg class=s style="left:1021.0px;top:1234.5px;" width="21" height="15" viewBox="0 0 21 15"><rect x='1' y='1' width='19' height='13' rx='1.6' fill='none' stroke='#4a4a4a' stroke-width='1.8'/><rect x='1' y='4' width='19' height='3' fill='#4a4a4a'/><rect x='3.5' y='10' width='3' height='1.4' fill='#4a4a4a'/><rect x='7.5' y='10' width='3' height='1.4' fill='#4a4a4a'/></svg>
<div class=t style="left:-380.0px;width:3000px;text-align:center;top:1188.9px;font-size:27px;font-weight:400;color:#111;-webkit-text-stroke:0.6px #111;"><span style="display:inline-block;transform:scaleX(1.1);transform-origin:center;">20 Min.</span></div>
<div class=t style="left:-380.0px;width:3000px;text-align:center;top:1228.1px;font-size:27px;font-weight:400;color:#111;-webkit-text-stroke:0.6px #111;"><span style="display:inline-block;transform:scaleX(1.034);transform-origin:center;">€ 20,00</span></div>
<div class=t style="left:61.0px;top:1308.2px;font-size:34px;font-weight:700;color:#333;-webkit-text-stroke:0.7px #333;"><span style="display:inline-block;transform:scaleX(0.885);transform-origin:left;">5. Palma de Mallorca</span></div>
<div class=r style="left:62.0px;top:1348.0px;width:531.0px;height:2.0px;background:#111;"></div>
<div class=r style="left:62.0px;top:1350.0px;width:152.0px;height:133.0px;background:#1f98d8;"></div>
<div class=t style="left:-1361.5px;width:3000px;text-align:center;top:1360.9px;font-size:17.2px;font-weight:400;color:#fff;"><span style="display:inline-block;transform:scaleX(1.19);transform-origin:center;">Entfernung zum</span></div>
<div class=t style="left:-1361.5px;width:3000px;text-align:center;top:1380.9px;font-size:17.2px;font-weight:400;color:#fff;"><span style="display:inline-block;transform:scaleX(1.19);transform-origin:center;">Stadtzentrum</span></div>
<svg class=s style="left:62.0px;top:1411.0px;" width="70" height="70" viewBox="0 0 70 70"><rect x='10.7' y='8' width='25.2' height='55.8' fill='#fff'/><rect x='35.9' y='28.7' width='23.9' height='35' fill='#fff'/><rect x='7.7' y='60' width='55.3' height='3.8' fill='#fff'/><rect x='15' y='12' width='6' height='6.2' fill='#1f98d8'/><rect x='25.4' y='12' width='6' height='6.2' fill='#1f98d8'/><rect x='15' y='22.2' width='6' height='6.2' fill='#1f98d8'/><rect x='25.4' y='22.2' width='6' height='6.2' fill='#1f98d8'/><rect x='15' y='32.5' width='6' height='6.2' fill='#1f98d8'/><rect x='25.4' y='32.5' width='6' height='6.2' fill='#1f98d8'/><rect x='15' y='42.8' width='6' height='6.2' fill='#1f98d8'/><rect x='25.4' y='42.8' width='6' height='6.2' fill='#1f98d8'/><rect x='39.1' y='32.5' width='6.3' height='6.2' fill='#1f98d8'/><rect x='49.3' y='32.5' width='6.3' height='6.2' fill='#1f98d8'/><rect x='39.1' y='42.8' width='6.3' height='6.2' fill='#1f98d8'/><rect x='49.3' y='42.8' width='6.3' height='6.2' fill='#1f98d8'/><rect x='18.2' y='53.3' width='9.9' height='6.5' fill='#1f98d8'/><rect x='42.3' y='53.3' width='9.9' height='6.5' fill='#1f98d8'/></svg>
<div class=t style="left:-2789.0px;width:3000px;text-align:right;top:1451.6px;font-size:27px;font-weight:400;color:#fff;"><span style="display:inline-block;transform:scaleX(1.066);transform-origin:right;">10 km</span></div>
<div class=r style="left:217.8px;top:1350.0px;width:185.0px;height:57.0px;background:#9b9b9b;"></div>
<div class=r style="left:217.8px;top:1407.0px;width:185.0px;height:37.5px;background:#e6e6e6;"></div>
<div class=r style="left:217.8px;top:1444.5px;width:185.0px;height:38.5px;background:#cccccc;"></div>
<svg class=s style="left:219.8px;top:1350.0px;" width="47" height="64" viewBox="0 0 47 64"><polygon points='0,0 47,0 47,57 23.5,63.6 0,57' fill='#1f98d8'/><rect x='10.5' y='7' width='25.5' height='29.5' rx='5' fill='#fff'/><rect x='14' y='10.8' width='18.8' height='10.5' rx='2' fill='#1f98d8'/><circle cx='16.4' cy='32.2' r='2.1' fill='#1f98d8'/><circle cx='30.5' cy='32.2' r='2.1' fill='#1f98d8'/><polygon points='13.5,37.5 33,37.5 38.5,47.5 8.5,47.5' fill='#fff'/><rect x='16.5' y='41' width='13.5' height='2.2' fill='#1f98d8'/></svg>
<div class=t style="left:-1166.5px;width:3000px;text-align:center;top:1360.8px;font-size:18px;font-weight:400;color:#f4f4f4;"><span style="display:inline-block;transform:scaleX(1.12);transform-origin:center;">Öffentliche</span></div>
<div class=t style="left:-1166.5px;width:3000px;text-align:center;top:1379.8px;font-size:18px;font-weight:400;color:#f4f4f4;"><span style="display:inline-block;transform:scaleX(1.1);transform-origin:center;">Verkehrsmittel</span></div>
<svg class=s style="left:235.3px;top:1420.0px;" width="16" height="16" viewBox="0 0 16 16"><rect x='1' y='0.5' width='14' height='2.2' fill='#4a4a4a'/><rect x='1' y='13.3' width='14' height='2.2' fill='#4a4a4a'/><path d='M2.5 2.7 H13.5 L9.2 8 L13.5 13.3 H2.5 L6.8 8 Z' fill='none' stroke='#4a4a4a' stroke-width='1.6'/><path d='M5 12.4 L8 9.6 L11 12.4 Z' fill='#4a4a4a'/></svg>
<svg class=s style="left:232.3px;top:1456.5px;" width="21" height="15" viewBox="0 0 21 15"><rect x='1' y='1' width='19' height='13' rx='1.6' fill='none' stroke='#4a4a4a' stroke-width='1.8'/><rect x='1' y='4' width='19' height='3' fill='#4a4a4a'/><rect x='3.5' y='10' width='3' height='1.4' fill='#4a4a4a'/><rect x='7.5' y='10' width='3' height='1.4' fill='#4a4a4a'/></svg>
<div class=t style="left:-1168.0px;width:3000px;text-align:center;top:1410.9px;font-size:27px;font-weight:400;color:#111;-webkit-text-stroke:0.6px #111;"><span style="display:inline-block;transform:scaleX(1.1);transform-origin:center;">18 Min.</span></div>
<div class=t style="left:-1168.0px;width:3000px;text-align:center;top:1450.1px;font-size:27px;font-weight:400;color:#111;-webkit-text-stroke:0.6px #111;"><span style="display:inline-block;transform:scaleX(1.034);transform-origin:center;">€ 3,00</span></div>
<div class=r style="left:407.5px;top:1350.0px;width:186.0px;height:57.0px;background:#9b9b9b;"></div>
<div class=r style="left:407.5px;top:1407.0px;width:186.0px;height:37.5px;background:#e6e6e6;"></div>
<div class=r style="left:407.5px;top:1444.5px;width:186.0px;height:38.5px;background:#cccccc;"></div>
<svg class=s style="left:409.5px;top:1350.0px;" width="47" height="64" viewBox="0 0 47 64"><polygon points='0,0 47,0 47,57 23.5,63.6 0,57' fill='#1f98d8'/><rect x='16' y='9.5' width='15' height='6' rx='1' fill='#fff'/><text x='23.5' y='14.6' font-size='4.8' font-weight='700' text-anchor='middle' fill='#1f98d8' font-family="Liberation Sans">TAXI</text><path d='M11 16 H36 L40.5 27 H6.5 Z' fill='#fff'/><path d='M14 19 H33 L35.6 26 H11.4 Z' fill='#1f98d8'/><rect x='4.5' y='26' width='38' height='15' rx='4' fill='#fff'/><rect x='7.5' y='39' width='8' height='7' rx='2' fill='#fff'/><rect x='31.5' y='39' width='8' height='7' rx='2' fill='#fff'/><rect x='8.5' y='30' width='6.5' height='4' rx='2' fill='#1f98d8'/><rect x='32' y='30' width='6.5' height='4' rx='2' fill='#1f98d8'/><rect x='3' y='25' width='4' height='3' rx='1' fill='#fff'/><rect x='40' y='25' width='4' height='3' rx='1' fill='#fff'/></svg>
<div class=t style="left:-980.5px;width:3000px;text-align:center;top:1379.8px;font-size:18px;font-weight:400;color:#f4f4f4;"><span style="display:inline-block;transform:scaleX(1.15);transform-origin:center;">Taxi</span></div>
<svg class=s style="left:425.0px;top:1420.0px;" width="16" height="16" viewBox="0 0 16 16"><rect x='1' y='0.5' width='14' height='2.2' fill='#4a4a4a'/><rect x='1' y='13.3' width='14' height='2.2' fill='#4a4a4a'/><path d='M2.5 2.7 H13.5 L9.2 8 L13.5 13.3 H2.5 L6.8 8 Z' fill='none' stroke='#4a4a4a' stroke-width='1.6'/><path d='M5 12.4 L8 9.6 L11 12.4 Z' fill='#4a4a4a'/></svg>
<svg class=s style="left:422.0px;top:1456.5px;" width="21" height="15" viewBox="0 0 21 15"><rect x='1' y='1' width='19' height='13' rx='1.6' fill='none' stroke='#4a4a4a' stroke-width='1.8'/><rect x='1' y='4' width='19' height='3' fill='#4a4a4a'/><rect x='3.5' y='10' width='3' height='1.4' fill='#4a4a4a'/><rect x='7.5' y='10' width='3' height='1.4' fill='#4a4a4a'/></svg>
<div class=t style="left:-979.0px;width:3000px;text-align:center;top:1410.9px;font-size:27px;font-weight:400;color:#111;-webkit-text-stroke:0.6px #111;"><span style="display:inline-block;transform:scaleX(1.1);transform-origin:center;">15 Min.</span></div>
<div class=t style="left:-979.0px;width:3000px;text-align:center;top:1450.1px;font-size:27px;font-weight:400;color:#111;-webkit-text-stroke:0.6px #111;"><span style="display:inline-block;transform:scaleX(1.034);transform-origin:center;">€ 27,00</span></div>
<div class=t style="left:660.0px;top:1308.2px;font-size:34px;font-weight:700;color:#333;-webkit-text-stroke:0.7px #333;"><span style="display:inline-block;transform:scaleX(0.885);transform-origin:left;">6. Berlin (SXF)</span></div>
<div class=r style="left:661.0px;top:1348.0px;width:531.0px;height:2.0px;background:#111;"></div>
<div class=r style="left:661.0px;top:1350.0px;width:152.0px;height:133.0px;background:#1f98d8;"></div>
<div class=t style="left:-762.5px;width:3000px;text-align:center;top:1360.9px;font-size:17.2px;font-weight:400;color:#fff;"><span style="display:inline-block;transform:scaleX(1.19);transform-origin:center;">Entfernung zum</span></div>
<div class=t style="left:-762.5px;width:3000px;text-align:center;top:1380.9px;font-size:17.2px;font-weight:400;color:#fff;"><span style="display:inline-block;transform:scaleX(1.19);transform-origin:center;">Stadtzentrum</span></div>
<svg class=s style="left:661.0px;top:1411.0px;" width="70" height="70" viewBox="0 0 70 70"><rect x='10.7' y='8' width='25.2' height='55.8' fill='#fff'/><rect x='35.9' y='28.7' width='23.9' height='35' fill='#fff'/><rect x='7.7' y='60' width='55.3' height='3.8' fill='#fff'/><rect x='15' y='12' width='6' height='6.2' fill='#1f98d8'/><rect x='25.4' y='12' width='6' height='6.2' fill='#1f98d8'/><rect x='15' y='22.2' width='6' height='6.2' fill='#1f98d8'/><rect x='25.4' y='22.2' width='6' height='6.2' fill='#1f98d8'/><rect x='15' y='32.5' width='6' height='6.2' fill='#1f98d8'/><rect x='25.4' y='32.5' width='6' height='6.2' fill='#1f98d8'/><rect x='15' y='42.8' width='6' height='6.2' fill='#1f98d8'/><rect x='25.4' y='42.8' width='6' height='6.2' fill='#1f98d8'/><rect x='39.1' y='32.5' width='6.3' height='6.2' fill='#1f98d8'/><rect x='49.3' y='32.5' width='6.3' height='6.2' fill='#1f98d8'/><rect x='39.1' y='42.8' width='6.3' height='6.2' fill='#1f98d8'/><rect x='49.3' y='42.8' width='6.3' height='6.2' fill='#1f98d8'/><rect x='18.2' y='53.3' width='9.9' height='6.5' fill='#1f98d8'/><rect x='42.3' y='53.3' width='9.9' height='6.5' fill='#1f98d8'/></svg>
<div class=t style="left:-2190.0px;width:3000px;text-align:right;top:1451.6px;font-size:27px;font-weight:400;color:#fff;"><span style="display:inline-block;transform:scaleX(1.066);transform-origin:right;">22 km</span></div>
<div class=r style="left:816.8px;top:1350.0px;width:185.0px;height:57.0px;background:#9b9b9b;"></div>
<div class=r style="left:816.8px;top:1407.0px;width:185.0px;height:37.5px;background:#e6e6e6;"></div>
<div class=r style="left:816.8px;top:1444.5px;width:185.0px;height:38.5px;background:#cccccc;"></div>
<svg class=s style="left:818.8px;top:1350.0px;" width="47" height="64" viewBox="0 0 47 64"><polygon points='0,0 47,0 47,57 23.5,63.6 0,57' fill='#1f98d8'/><rect x='10.5' y='7' width='25.5' height='29.5' rx='5' fill='#fff'/><rect x='14' y='10.8' width='18.8' height='10.5' rx='2' fill='#1f98d8'/><circle cx='16.4' cy='32.2' r='2.1' fill='#1f98d8'/><circle cx='30.5' cy='32.2' r='2.1' fill='#1f98d8'/><polygon points='13.5,37.5 33,37.5 38.5,47.5 8.5,47.5' fill='#fff'/><rect x='16.5' y='41' width='13.5' height='2.2' fill='#1f98d8'/></svg>
<div class=t style="left:-567.5px;width:3000px;text-align:center;top:1360.8px;font-size:18px;font-weight:400;color:#f4f4f4;"><span style="display:inline-block;transform:scaleX(1.12);transform-origin:center;">Öffentliche</span></div>
<div class=t style="left:-567.5px;width:3000px;text-align:center;top:1379.8px;font-size:18px;font-weight:400;color:#f4f4f4;"><span style="display:inline-block;transform:scaleX(1.1);transform-origin:center;">Verkehrsmittel</span></div>
<svg class=s style="left:834.3px;top:1420.0px;" width="16" height="16" viewBox="0 0 16 16"><rect x='1' y='0.5' width='14' height='2.2' fill='#4a4a4a'/><rect x='1' y='13.3' width='14' height='2.2' fill='#4a4a4a'/><path d='M2.5 2.7 H13.5 L9.2 8 L13.5 13.3 H2.5 L6.8 8 Z' fill='none' stroke='#4a4a4a' stroke-width='1.6'/><path d='M5 12.4 L8 9.6 L11 12.4 Z' fill='#4a4a4a'/></svg>
<svg class=s style="left:831.3px;top:1456.5px;" width="21" height="15" viewBox="0 0 21 15"><rect x='1' y='1' width='19' height='13' rx='1.6' fill='none' stroke='#4a4a4a' stroke-width='1.8'/><rect x='1' y='4' width='19' height='3' fill='#4a4a4a'/><rect x='3.5' y='10' width='3' height='1.4' fill='#4a4a4a'/><rect x='7.5' y='10' width='3' height='1.4' fill='#4a4a4a'/></svg>
<div class=t style="left:-569.0px;width:3000px;text-align:center;top:1410.9px;font-size:27px;font-weight:400;color:#111;-webkit-text-stroke:0.6px #111;"><span style="display:inline-block;transform:scaleX(1.1);transform-origin:center;">40 Min.</span></div>
<div class=t style="left:-569.0px;width:3000px;text-align:center;top:1450.1px;font-size:27px;font-weight:400;color:#111;-webkit-text-stroke:0.6px #111;"><span style="display:inline-block;transform:scaleX(1.034);transform-origin:center;">€ 3,30</span></div>
<div class=r style="left:1006.5px;top:1350.0px;width:186.0px;height:57.0px;background:#9b9b9b;"></div>
<div class=r style="left:1006.5px;top:1407.0px;width:186.0px;height:37.5px;background:#e6e6e6;"></div>
<div class=r style="left:1006.5px;top:1444.5px;width:186.0px;height:38.5px;background:#cccccc;"></div>
<svg class=s style="left:1008.5px;top:1350.0px;" width="47" height="64" viewBox="0 0 47 64"><polygon points='0,0 47,0 47,57 23.5,63.6 0,57' fill='#1f98d8'/><rect x='16' y='9.5' width='15' height='6' rx='1' fill='#fff'/><text x='23.5' y='14.6' font-size='4.8' font-weight='700' text-anchor='middle' fill='#1f98d8' font-family="Liberation Sans">TAXI</text><path d='M11 16 H36 L40.5 27 H6.5 Z' fill='#fff'/><path d='M14 19 H33 L35.6 26 H11.4 Z' fill='#1f98d8'/><rect x='4.5' y='26' width='38' height='15' rx='4' fill='#fff'/><rect x='7.5' y='39' width='8' height='7' rx='2' fill='#fff'/><rect x='31.5' y='39' width='8' height='7' rx='2' fill='#fff'/><rect x='8.5' y='30' width='6.5' height='4' rx='2' fill='#1f98d8'/><rect x='32' y='30' width='6.5' height='4' rx='2' fill='#1f98d8'/><rect x='3' y='25' width='4' height='3' rx='1' fill='#fff'/><rect x='40' y='25' width='4' height='3' rx='1' fill='#fff'/></svg>
<div class=t style="left:-381.5px;width:3000px;text-align:center;top:1379.8px;font-size:18px;font-weight:400;color:#f4f4f4;"><span style="display:inline-block;transform:scaleX(1.15);transform-origin:center;">Taxi</span></div>
<svg class=s style="left:1024.0px;top:1420.0px;" width="16" height="16" viewBox="0 0 16 16"><rect x='1' y='0.5' width='14' height='2.2' fill='#4a4a4a'/><rect x='1' y='13.3' width='14' height='2.2' fill='#4a4a4a'/><path d='M2.5 2.7 H13.5 L9.2 8 L13.5 13.3 H2.5 L6.8 8 Z' fill='none' stroke='#4a4a4a' stroke-width='1.6'/><path d='M5 12.4 L8 9.6 L11 12.4 Z' fill='#4a4a4a'/></svg>
<svg class=s style="left:1021.0px;top:1456.5px;" width="21" height="15" viewBox="0 0 21 15"><rect x='1' y='1' width='19' height='13' rx='1.6' fill='none' stroke='#4a4a4a' stroke-width='1.8'/><rect x='1' y='4' width='19' height='3' fill='#4a4a4a'/><rect x='3.5' y='10' width='3' height='1.4' fill='#4a4a4a'/><rect x='7.5' y='10' width='3' height='1.4' fill='#4a4a4a'/></svg>
<div class=t style="left:-380.0px;width:3000px;text-align:center;top:1410.9px;font-size:27px;font-weight:400;color:#111;-webkit-text-stroke:0.6px #111;"><span style="display:inline-block;transform:scaleX(1.1);transform-origin:center;">30 Min.</span></div>
<div class=t style="left:-380.0px;width:3000px;text-align:center;top:1450.1px;font-size:27px;font-weight:400;color:#111;-webkit-text-stroke:0.6px #111;"><span style="display:inline-block;transform:scaleX(1.034);transform-origin:center;">€ 40,00</span></div>
<div class=t style="left:61.0px;top:1531.2px;font-size:34px;font-weight:700;color:#333;-webkit-text-stroke:0.7px #333;"><span style="display:inline-block;transform:scaleX(0.885);transform-origin:left;">7. Lissabon</span></div>
<div class=r style="left:62.0px;top:1571.0px;width:531.0px;height:2.0px;background:#111;"></div>
<div class=r style="left:62.0px;top:1573.0px;width:152.0px;height:133.0px;background:#1f98d8;"></div>
<div class=t style="left:-1361.5px;width:3000px;text-align:center;top:1583.9px;font-size:17.2px;font-weight:400;color:#fff;"><span style="display:inline-block;transform:scaleX(1.19);transform-origin:center;">Entfernung zum</span></div>
<div class=t style="left:-1361.5px;width:3000px;text-align:center;top:1603.9px;font-size:17.2px;font-weight:400;color:#fff;"><span style="display:inline-block;transform:scaleX(1.19);transform-origin:center;">Stadtzentrum</span></div>
<svg class=s style="left:62.0px;top:1634.0px;" width="70" height="70" viewBox="0 0 70 70"><rect x='10.7' y='8' width='25.2' height='55.8' fill='#fff'/><rect x='35.9' y='28.7' width='23.9' height='35' fill='#fff'/><rect x='7.7' y='60' width='55.3' height='3.8' fill='#fff'/><rect x='15' y='12' width='6' height='6.2' fill='#1f98d8'/><rect x='25.4' y='12' width='6' height='6.2' fill='#1f98d8'/><rect x='15' y='22.2' width='6' height='6.2' fill='#1f98d8'/><rect x='25.4' y='22.2' width='6' height='6.2' fill='#1f98d8'/><rect x='15' y='32.5' width='6' height='6.2' fill='#1f98d8'/><rect x='25.4' y='32.5' width='6' height='6.2' fill='#1f98d8'/><rect x='15' y='42.8' width='6' height='6.2' fill='#1f98d8'/><rect x='25.4' y='42.8' width='6' height='6.2' fill='#1f98d8'/><rect x='39.1' y='32.5' width='6.3' height='6.2' fill='#1f98d8'/><rect x='49.3' y='32.5' width='6.3' height='6.2' fill='#1f98d8'/><rect x='39.1' y='42.8' width='6.3' height='6.2' fill='#1f98d8'/><rect x='49.3' y='42.8' width='6.3' height='6.2' fill='#1f98d8'/><rect x='18.2' y='53.3' width='9.9' height='6.5' fill='#1f98d8'/><rect x='42.3' y='53.3' width='9.9' height='6.5' fill='#1f98d8'/></svg>
<div class=t style="left:-2789.0px;width:3000px;text-align:right;top:1674.6px;font-size:27px;font-weight:400;color:#fff;"><span style="display:inline-block;transform:scaleX(1.066);transform-origin:right;">7 km</span></div>
<div class=r style="left:217.8px;top:1573.0px;width:185.0px;height:57.0px;background:#9b9b9b;"></div>
<div class=r style="left:217.8px;top:1630.0px;width:185.0px;height:37.5px;background:#e6e6e6;"></div>
<div class=r style="left:217.8px;top:1667.5px;width:185.0px;height:38.5px;background:#cccccc;"></div>
<svg class=s style="left:219.8px;top:1573.0px;" width="47" height="64" viewBox="0 0 47 64"><polygon points='0,0 47,0 47,57 23.5,63.6 0,57' fill='#1f98d8'/><rect x='10.5' y='7' width='25.5' height='29.5' rx='5' fill='#fff'/><rect x='14' y='10.8' width='18.8' height='10.5' rx='2' fill='#1f98d8'/><circle cx='16.4' cy='32.2' r='2.1' fill='#1f98d8'/><circle cx='30.5' cy='32.2' r='2.1' fill='#1f98d8'/><polygon points='13.5,37.5 33,37.5 38.5,47.5 8.5,47.5' fill='#fff'/><rect x='16.5' y='41' width='13.5' height='2.2' fill='#1f98d8'/></svg>
<div class=t style="left:-1166.5px;width:3000px;text-align:center;top:1583.8px;font-size:18px;font-weight:400;color:#f4f4f4;"><span style="display:inline-block;transform:scaleX(1.12);transform-origin:center;">Öffentliche</span></div>
<div class=t style="left:-1166.5px;width:3000px;text-align:center;top:1602.8px;font-size:18px;font-weight:400;color:#f4f4f4;"><span style="display:inline-block;transform:scaleX(1.1);transform-origin:center;">Verkehrsmittel</span></div>
<svg class=s style="left:235.3px;top:1643.0px;" width="16" height="16" viewBox="0 0 16 16"><rect x='1' y='0.5' width='14' height='2.2' fill='#4a4a4a'/><rect x='1' y='13.3' width='14' height='2.2' fill='#4a4a4a'/><path d='M2.5 2.7 H13.5 L9.2 8 L13.5 13.3 H2.5 L6.8 8 Z' fill='none' stroke='#4a4a4a' stroke-width='1.6'/><path d='M5 12.4 L8 9.6 L11 12.4 Z' fill='#4a4a4a'/></svg>
<svg class=s style="left:232.3px;top:1679.5px;" width="21" height="15" viewBox="0 0 21 15"><rect x='1' y='1' width='19' height='13' rx='1.6' fill='none' stroke='#4a4a4a' stroke-width='1.8'/><rect x='1' y='4' width='19' height='3' fill='#4a4a4a'/><rect x='3.5' y='10' width='3' height='1.4' fill='#4a4a4a'/><rect x='7.5' y='10' width='3' height='1.4' fill='#4a4a4a'/></svg>
<div class=t style="left:-1168.0px;width:3000px;text-align:center;top:1633.9px;font-size:27px;font-weight:400;color:#111;-webkit-text-stroke:0.6px #111;"><span style="display:inline-block;transform:scaleX(1.1);transform-origin:center;">30 Min.</span></div>
<div class=t style="left:-1168.0px;width:3000px;text-align:center;top:1673.1px;font-size:27px;font-weight:400;color:#111;-webkit-text-stroke:0.6px #111;"><span style="display:inline-block;transform:scaleX(1.034);transform-origin:center;">€ 1,90</span></div>
<div class=r style="left:407.5px;top:1573.0px;width:186.0px;height:57.0px;background:#9b9b9b;"></div>
<div class=r style="left:407.5px;top:1630.0px;width:186.0px;height:37.5px;background:#e6e6e6;"></div>
<div class=r style="left:407.5px;top:1667.5px;width:186.0px;height:38.5px;background:#cccccc;"></div>
<svg class=s style="left:409.5px;top:1573.0px;" width="47" height="64" viewBox="0 0 47 64"><polygon points='0,0 47,0 47,57 23.5,63.6 0,57' fill='#1f98d8'/><rect x='16' y='9.5' width='15' height='6' rx='1' fill='#fff'/><text x='23.5' y='14.6' font-size='4.8' font-weight='700' text-anchor='middle' fill='#1f98d8' font-family="Liberation Sans">TAXI</text><path d='M11 16 H36 L40.5 27 H6.5 Z' fill='#fff'/><path d='M14 19 H33 L35.6 26 H11.4 Z' fill='#1f98d8'/><rect x='4.5' y='26' width='38' height='15' rx='4' fill='#fff'/><rect x='7.5' y='39' width='8' height='7' rx='2' fill='#fff'/><rect x='31.5' y='39' width='8' height='7' rx='2' fill='#fff'/><rect x='8.5' y='30' width='6.5' height='4' rx='2' fill='#1f98d8'/><rect x='32' y='30' width='6.5' height='4' rx='2' fill='#1f98d8'/><rect x='3' y='25' width='4' height='3' rx='1' fill='#fff'/><rect x='40' y='25' width='4' height='3' rx='1' fill='#fff'/></svg>
<div class=t style="left:-980.5px;width:3000px;text-align:center;top:1602.8px;font-size:18px;font-weight:400;color:#f4f4f4;"><span style="display:inline-block;transform:scaleX(1.15);transform-origin:center;">Taxi</span></div>
<svg class=s style="left:425.0px;top:1643.0px;" width="16" height="16" viewBox="0 0 16 16"><rect x='1' y='0.5' width='14' height='2.2' fill='#4a4a4a'/><rect x='1' y='13.3' width='14' height='2.2' fill='#4a4a4a'/><path d='M2.5 2.7 H13.5 L9.2 8 L13.5 13.3 H2.5 L6.8 8 Z' fill='none' stroke='#4a4a4a' stroke-width='1.6'/><path d='M5 12.4 L8 9.6 L11 12.4 Z' fill='#4a4a4a'/></svg>
<svg class=s style="left:422.0px;top:1679.5px;" width="21" height="15" viewBox="0 0 21 15"><rect x='1' y='1' width='19' height='13' rx='1.6' fill='none' stroke='#4a4a4a' stroke-width='1.8'/><rect x='1' y='4' width='19' height='3' fill='#4a4a4a'/><rect x='3.5' y='10' width='3' height='1.4' fill='#4a4a4a'/><rect x='7.5' y='10' width='3' height='1.4' fill='#4a4a4a'/></svg>
<div class=t style="left:-979.0px;width:3000px;text-align:center;top:1633.9px;font-size:27px;font-weight:400;color:#111;-webkit-text-stroke:0.6px #111;"><span style="display:inline-block;transform:scaleX(1.1);transform-origin:center;">15 Min.</span></div>
<div class=t style="left:-979.0px;width:3000px;text-align:center;top:1673.1px;font-size:27px;font-weight:400;color:#111;-webkit-text-stroke:0.6px #111;"><span style="display:inline-block;transform:scaleX(1.034);transform-origin:center;">€ 10,00</span></div>
<div class=t style="left:660.0px;top:1531.2px;font-size:34px;font-weight:700;color:#333;-webkit-text-stroke:0.7px #333;"><span style="display:inline-block;transform:scaleX(0.885);transform-origin:left;">8. Rom (FCO)</span></div>
<div class=r style="left:661.0px;top:1571.0px;width:531.0px;height:2.0px;background:#111;"></div>
<div class=r style="left:661.0px;top:1573.0px;width:152.0px;height:133.0px;background:#1f98d8;"></div>
<div class=t style="left:-762.5px;width:3000px;text-align:center;top:1583.9px;font-size:17.2px;font-weight:400;color:#fff;"><span style="display:inline-block;transform:scaleX(1.19);transform-origin:center;">Entfernung zum</span></div>
<div class=t style="left:-762.5px;width:3000px;text-align:center;top:1603.9px;font-size:17.2px;font-weight:400;color:#fff;"><span style="display:inline-block;transform:scaleX(1.19);transform-origin:center;">Stadtzentrum</span></div>
<svg class=s style="left:661.0px;top:1634.0px;" width="70" height="70" viewBox="0 0 70 70"><rect x='10.7' y='8' width='25.2' height='55.8' fill='#fff'/><rect x='35.9' y='28.7' width='23.9' height='35' fill='#fff'/><rect x='7.7' y='60' width='55.3' height='3.8' fill='#fff'/><rect x='15' y='12' width='6' height='6.2' fill='#1f98d8'/><rect x='25.4' y='12' width='6' height='6.2' fill='#1f98d8'/><rect x='15' y='22.2' width='6' height='6.2' fill='#1f98d8'/><rect x='25.4' y='22.2' width='6' height='6.2' fill='#1f98d8'/><rect x='15' y='32.5' width='6' height='6.2' fill='#1f98d8'/><rect x='25.4' y='32.5' width='6' height='6.2' fill='#1f98d8'/><rect x='15' y='42.8' width='6' height='6.2' fill='#1f98d8'/><rect x='25.4' y='42.8' width='6' height='6.2' fill='#1f98d8'/><rect x='39.1' y='32.5' width='6.3' height='6.2' fill='#1f98d8'/><rect x='49.3' y='32.5' width='6.3' height='6.2' fill='#1f98d8'/><rect x='39.1' y='42.8' width='6.3' height='6.2' fill='#1f98d8'/><rect x='49.3' y='42.8' width='6.3' height='6.2' fill='#1f98d8'/><rect x='18.2' y='53.3' width='9.9' height='6.5' fill='#1f98d8'/><rect x='42.3' y='53.3' width='9.9' height='6.5' fill='#1f98d8'/></svg>
<div class=t style="left:-2190.0px;width:3000px;text-align:right;top:1674.6px;font-size:27px;font-weight:400;color:#fff;"><span style="display:inline-block;transform:scaleX(1.066);transform-origin:right;">30 km</span></div>
<div class=r style="left:816.8px;top:1573.0px;width:185.0px;height:57.0px;background:#9b9b9b;"></div>
<div class=r style="left:816.8px;top:1630.0px;width:185.0px;height:37.5px;background:#e6e6e6;"></div>
<div class=r style="left:816.8px;top:1667.5px;width:185.0px;height:38.5px;background:#cccccc;"></div>
<svg class=s style="left:818.8px;top:1573.0px;" width="47" height="64" viewBox="0 0 47 64"><polygon points='0,0 47,0 47,57 23.5,63.6 0,57' fill='#1f98d8'/><rect x='10.5' y='7' width='25.5' height='29.5' rx='5' fill='#fff'/><rect x='14' y='10.8' width='18.8' height='10.5' rx='2' fill='#1f98d8'/><circle cx='16.4' cy='32.2' r='2.1' fill='#1f98d8'/><circle cx='30.5' cy='32.2' r='2.1' fill='#1f98d8'/><polygon points='13.5,37.5 33,37.5 38.5,47.5 8.5,47.5' fill='#fff'/><rect x='16.5' y='41' width='13.5' height='2.2' fill='#1f98d8'/></svg>
<div class=t style="left:-567.5px;width:3000px;text-align:center;top:1583.8px;font-size:18px;font-weight:400;color:#f4f4f4;"><span style="display:inline-block;transform:scaleX(1.12);transform-origin:center;">Öffentliche</span></div>
<div class=t style="left:-567.5px;width:3000px;text-align:center;top:1602.8px;font-size:18px;font-weight:400;color:#f4f4f4;"><span style="display:inline-block;transform:scaleX(1.1);transform-origin:center;">Verkehrsmittel</span></div>
<svg class=s style="left:834.3px;top:1643.0px;" width="16" height="16" viewBox="0 0 16 16"><rect x='1' y='0.5' width='14' height='2.2' fill='#4a4a4a'/><rect x='1' y='13.3' width='14' height='2.2' fill='#4a4a4a'/><path d='M2.5 2.7 H13.5 L9.2 8 L13.5 13.3 H2.5 L6.8 8 Z' fill='none' stroke='#4a4a4a' stroke-width='1.6'/><path d='M5 12.4 L8 9.6 L11 12.4 Z' fill='#4a4a4a'/></svg>
<svg class=s style="left:831.3px;top:1679.5px;" width="21" height="15" viewBox="0 0 21 15"><rect x='1' y='1' width='19' height='13' rx='1.6' fill='none' stroke='#4a4a4a' stroke-width='1.8'/><rect x='1' y='4' width='19' height='3' fill='#4a4a4a'/><rect x='3.5' y='10' width='3' height='1.4' fill='#4a4a4a'/><rect x='7.5' y='10' width='3' height='1.4' fill='#4a4a4a'/></svg>
<div class=t style="left:-569.0px;width:3000px;text-align:center;top:1633.9px;font-size:27px;font-weight:400;color:#111;-webkit-text-stroke:0.6px #111;"><span style="display:inline-block;transform:scaleX(1.1);transform-origin:center;">55 Min.</span></div>
<div class=t style="left:-569.0px;width:3000px;text-align:center;top:1673.1px;font-size:27px;font-weight:400;color:#111;-webkit-text-stroke:0.6px #111;"><span style="display:inline-block;transform:scaleX(1.034);transform-origin:center;">€ 1,50</span></div>
<div class=r style="left:1006.5px;top:1573.0px;width:186.0px;height:57.0px;background:#9b9b9b;"></div>
<div class=r style="left:1006.5px;top:1630.0px;width:186.0px;height:37.5px;background:#e6e6e6;"></div>
<div class=r style="left:1006.5px;top:1667.5px;width:186.0px;height:38.5px;background:#cccccc;"></div>
<svg class=s style="left:1008.5px;top:1573.0px;" width="47" height="64" viewBox="0 0 47 64"><polygon points='0,0 47,0 47,57 23.5,63.6 0,57' fill='#1f98d8'/><rect x='16' y='9.5' width='15' height='6' rx='1' fill='#fff'/><text x='23.5' y='14.6' font-size='4.8' font-weight='700' text-anchor='middle' fill='#1f98d8' font-family="Liberation Sans">TAXI</text><path d='M11 16 H36 L40.5 27 H6.5 Z' fill='#fff'/><path d='M14 19 H33 L35.6 26 H11.4 Z' fill='#1f98d8'/><rect x='4.5' y='26' width='38' height='15' rx='4' fill='#fff'/><rect x='7.5' y='39' width='8' height='7' rx='2' fill='#fff'/><rect x='31.5' y='39' width='8' height='7' rx='2' fill='#fff'/><rect x='8.5' y='30' width='6.5' height='4' rx='2' fill='#1f98d8'/><rect x='32' y='30' width='6.5' height='4' rx='2' fill='#1f98d8'/><rect x='3' y='25' width='4' height='3' rx='1' fill='#fff'/><rect x='40' y='25' width='4' height='3' rx='1' fill='#fff'/></svg>
<div class=t style="left:-381.5px;width:3000px;text-align:center;top:1602.8px;font-size:18px;font-weight:400;color:#f4f4f4;"><span style="display:inline-block;transform:scaleX(1.15);transform-origin:center;">Taxi</span></div>
<svg class=s style="left:1024.0px;top:1643.0px;" width="16" height="16" viewBox="0 0 16 16"><rect x='1' y='0.5' width='14' height='2.2' fill='#4a4a4a'/><rect x='1' y='13.3' width='14' height='2.2' fill='#4a4a4a'/><path d='M2.5 2.7 H13.5 L9.2 8 L13.5 13.3 H2.5 L6.8 8 Z' fill='none' stroke='#4a4a4a' stroke-width='1.6'/><path d='M5 12.4 L8 9.6 L11 12.4 Z' fill='#4a4a4a'/></svg>
<svg class=s style="left:1021.0px;top:1679.5px;" width="21" height="15" viewBox="0 0 21 15"><rect x='1' y='1' width='19' height='13' rx='1.6' fill='none' stroke='#4a4a4a' stroke-width='1.8'/><rect x='1' y='4' width='19' height='3' fill='#4a4a4a'/><rect x='3.5' y='10' width='3' height='1.4' fill='#4a4a4a'/><rect x='7.5' y='10' width='3' height='1.4' fill='#4a4a4a'/></svg>
<div class=t style="left:-380.0px;width:3000px;text-align:center;top:1633.9px;font-size:27px;font-weight:400;color:#111;-webkit-text-stroke:0.6px #111;"><span style="display:inline-block;transform:scaleX(1.1);transform-origin:center;">40 Min.</span></div>
<div class=t style="left:-380.0px;width:3000px;text-align:center;top:1673.1px;font-size:27px;font-weight:400;color:#111;-webkit-text-stroke:0.6px #111;"><span style="display:inline-block;transform:scaleX(1.034);transform-origin:center;">€ 50,00</span></div>
<div class=t style="left:61.0px;top:1753.7px;font-size:34px;font-weight:700;color:#333;-webkit-text-stroke:0.7px #333;"><span style="display:inline-block;transform:scaleX(0.885);transform-origin:left;">9. Paris (CDG)</span></div>
<div class=r style="left:62.0px;top:1793.5px;width:531.0px;height:2.0px;background:#111;"></div>
<div class=r style="left:62.0px;top:1795.5px;width:152.0px;height:133.0px;background:#1f98d8;"></div>
<div class=t style="left:-1361.5px;width:3000px;text-align:center;top:1806.4px;font-size:17.2px;font-weight:400;color:#fff;"><span style="display:inline-block;transform:scaleX(1.19);transform-origin:center;">Entfernung zum</span></div>
<div class=t style="left:-1361.5px;width:3000px;text-align:center;top:1826.4px;font-size:17.2px;font-weight:400;color:#fff;"><span style="display:inline-block;transform:scaleX(1.19);transform-origin:center;">Stadtzentrum</span></div>
<svg class=s style="left:62.0px;top:1856.5px;" width="70" height="70" viewBox="0 0 70 70"><rect x='10.7' y='8' width='25.2' height='55.8' fill='#fff'/><rect x='35.9' y='28.7' width='23.9' height='35' fill='#fff'/><rect x='7.7' y='60' width='55.3' height='3.8' fill='#fff'/><rect x='15' y='12' width='6' height='6.2' fill='#1f98d8'/><rect x='25.4' y='12' width='6' height='6.2' fill='#1f98d8'/><rect x='15' y='22.2' width='6' height='6.2' fill='#1f98d8'/><rect x='25.4' y='22.2' width='6' height='6.2' fill='#1f98d8'/><rect x='15' y='32.5' width='6' height='6.2' fill='#1f98d8'/><rect x='25.4' y='32.5' width='6' height='6.2' fill='#1f98d8'/><rect x='15' y='42.8' width='6' height='6.2' fill='#1f98d8'/><rect x='25.4' y='42.8' width='6' height='6.2' fill='#1f98d8'/><rect x='39.1' y='32.5' width='6.3' height='6.2' fill='#1f98d8'/><rect x='49.3' y='32.5' width='6.3' height='6.2' fill='#1f98d8'/><rect x='39.1' y='42.8' width='6.3' height='6.2' fill='#1f98d8'/><rect x='49.3' y='42.8' width='6.3' height='6.2' fill='#1f98d8'/><rect x='18.2' y='53.3' width='9.9' height='6.5' fill='#1f98d8'/><rect x='42.3' y='53.3' width='9.9' height='6.5' fill='#1f98d8'/></svg>
<div class=t style="left:-2789.0px;width:3000px;text-align:right;top:1897.1px;font-size:27px;font-weight:400;color:#fff;"><span style="display:inline-block;transform:scaleX(1.066);transform-origin:right;">26 km</span></div>
<div class=r style="left:217.8px;top:1795.5px;width:185.0px;height:57.0px;background:#9b9b9b;"></div>
<div class=r style="left:217.8px;top:1852.5px;width:185.0px;height:37.5px;background:#e6e6e6;"></div>
<div class=r style="left:217.8px;top:1890.0px;width:185.0px;height:38.5px;background:#cccccc;"></div>
<svg class=s style="left:219.8px;top:1795.5px;" width="47" height="64" viewBox="0 0 47 64"><polygon points='0,0 47,0 47,57 23.5,63.6 0,57' fill='#1f98d8'/><rect x='10.5' y='7' width='25.5' height='29.5' rx='5' fill='#fff'/><rect x='14' y='10.8' width='18.8' height='10.5' rx='2' fill='#1f98d8'/><circle cx='16.4' cy='32.2' r='2.1' fill='#1f98d8'/><circle cx='30.5' cy='32.2' r='2.1' fill='#1f98d8'/><polygon points='13.5,37.5 33,37.5 38.5,47.5 8.5,47.5' fill='#fff'/><rect x='16.5' y='41' width='13.5' height='2.2' fill='#1f98d8'/></svg>
<div class=t style="left:-1166.5px;width:3000px;text-align:center;top:1806.3px;font-size:18px;font-weight:400;color:#f4f4f4;"><span style="display:inline-block;transform:scaleX(1.12);transform-origin:center;">Öffentliche</span></div>
<div class=t style="left:-1166.5px;width:3000px;text-align:center;top:1825.3px;font-size:18px;font-weight:400;color:#f4f4f4;"><span style="display:inline-block;transform:scaleX(1.1);transform-origin:center;">Verkehrsmittel</span></div>
<svg class=s style="left:235.3px;top:1865.5px;" width="16" height="16" viewBox="0 0 16 16"><rect x='1' y='0.5' width='14' height='2.2' fill='#4a4a4a'/><rect x='1' y='13.3' width='14' height='2.2' fill='#4a4a4a'/><path d='M2.5 2.7 H13.5 L9.2 8 L13.5 13.3 H2.5 L6.8 8 Z' fill='none' stroke='#4a4a4a' stroke-width='1.6'/><path d='M5 12.4 L8 9.6 L11 12.4 Z' fill='#4a4a4a'/></svg>
<svg class=s style="left:232.3px;top:1902.0px;" width="21" height="15" viewBox="0 0 21 15"><rect x='1' y='1' width='19' height='13' rx='1.6' fill='none' stroke='#4a4a4a' stroke-width='1.8'/><rect x='1' y='4' width='19' height='3' fill='#4a4a4a'/><rect x='3.5' y='10' width='3' height='1.4' fill='#4a4a4a'/><rect x='7.5' y='10' width='3' height='1.4' fill='#4a4a4a'/></svg>
<div class=t style="left:-1168.0px;width:3000px;text-align:center;top:1856.4px;font-size:27px;font-weight:400;color:#111;-webkit-text-stroke:0.6px #111;"><span style="display:inline-block;transform:scaleX(1.1);transform-origin:center;">40 Min.</span></div>
<div class=t style="left:-1168.0px;width:3000px;text-align:center;top:1895.6px;font-size:27px;font-weight:400;color:#111;-webkit-text-stroke:0.6px #111;"><span style="display:inline-block;transform:scaleX(1.034);transform-origin:center;">€ 10,00</span></div>
<div class=r style="left:407.5px;top:1795.5px;width:186.0px;height:57.0px;background:#9b9b9b;"></div>
<div class=r style="left:407.5px;top:1852.5px;width:186.0px;height:37.5px;background:#e6e6e6;"></div>
<div class=r style="left:407.5px;top:1890.0px;width:186.0px;height:38.5px;background:#cccccc;"></div>
<svg class=s style="left:409.5px;top:1795.5px;" width="47" height="64" viewBox="0 0 47 64"><polygon points='0,0 47,0 47,57 23.5,63.6 0,57' fill='#1f98d8'/><rect x='16' y='9.5' width='15' height='6' rx='1' fill='#fff'/><text x='23.5' y='14.6' font-size='4.8' font-weight='700' text-anchor='middle' fill='#1f98d8' font-family="Liberation Sans">TAXI</text><path d='M11 16 H36 L40.5 27 H6.5 Z' fill='#fff'/><path d='M14 19 H33 L35.6 26 H11.4 Z' fill='#1f98d8'/><rect x='4.5' y='26' width='38' height='15' rx='4' fill='#fff'/><rect x='7.5' y='39' width='8' height='7' rx='2' fill='#fff'/><rect x='31.5' y='39' width='8' height='7' rx='2' fill='#fff'/><rect x='8.5' y='30' width='6.5' height='4' rx='2' fill='#1f98d8'/><rect x='32' y='30' width='6.5' height='4' rx='2' fill='#1f98d8'/><rect x='3' y='25' width='4' height='3' rx='1' fill='#fff'/><rect x='40' y='25' width='4' height='3' rx='1' fill='#fff'/></svg>
<div class=t style="left:-980.5px;width:3000px;text-align:center;top:1825.3px;font-size:18px;font-weight:400;color:#f4f4f4;"><span style="display:inline-block;transform:scaleX(1.15);transform-origin:center;">Taxi</span></div>
<svg class=s style="left:425.0px;top:1865.5px;" width="16" height="16" viewBox="0 0 16 16"><rect x='1' y='0.5' width='14' height='2.2' fill='#4a4a4a'/><rect x='1' y='13.3' width='14' height='2.2' fill='#4a4a4a'/><path d='M2.5 2.7 H13.5 L9.2 8 L13.5 13.3 H2.5 L6.8 8 Z' fill='none' stroke='#4a4a4a' stroke-width='1.6'/><path d='M5 12.4 L8 9.6 L11 12.4 Z' fill='#4a4a4a'/></svg>
<svg class=s style="left:422.0px;top:1902.0px;" width="21" height="15" viewBox="0 0 21 15"><rect x='1' y='1' width='19' height='13' rx='1.6' fill='none' stroke='#4a4a4a' stroke-width='1.8'/><rect x='1' y='4' width='19' height='3' fill='#4a4a4a'/><rect x='3.5' y='10' width='3' height='1.4' fill='#4a4a4a'/><rect x='7.5' y='10' width='3' height='1.4' fill='#4a4a4a'/></svg>
<div class=t style="left:-979.0px;width:3000px;text-align:center;top:1856.4px;font-size:27px;font-weight:400;color:#111;-webkit-text-stroke:0.6px #111;"><span style="display:inline-block;transform:scaleX(1.1);transform-origin:center;">50 Min.</span></div>
<div class=t style="left:-979.0px;width:3000px;text-align:center;top:1895.6px;font-size:27px;font-weight:400;color:#111;-webkit-text-stroke:0.6px #111;"><span style="display:inline-block;transform:scaleX(1.034);transform-origin:center;">€ 60,00</span></div>
<div class=t style="left:660.0px;top:1753.7px;font-size:34px;font-weight:700;color:#333;-webkit-text-stroke:0.7px #333;"><span style="display:inline-block;transform:scaleX(0.885);transform-origin:left;">10. Athen</span></div>
<div class=r style="left:661.0px;top:1793.5px;width:531.0px;height:2.0px;background:#111;"></div>
<div class=r style="left:661.0px;top:1795.5px;width:152.0px;height:133.0px;background:#1f98d8;"></div>
<div class=t style="left:-762.5px;width:3000px;text-align:center;top:1806.4px;font-size:17.2px;font-weight:400;color:#fff;"><span style="display:inline-block;transform:scaleX(1.19);transform-origin:center;">Entfernung zum</span></div>
<div class=t style="left:-762.5px;width:3000px;text-align:center;top:1826.4px;font-size:17.2px;font-weight:400;color:#fff;"><span style="display:inline-block;transform:scaleX(1.19);transform-origin:center;">Stadtzentrum</span></div>
<svg class=s style="left:661.0px;top:1856.5px;" width="70" height="70" viewBox="0 0 70 70"><rect x='10.7' y='8' width='25.2' height='55.8' fill='#fff'/><rect x='35.9' y='28.7' width='23.9' height='35' fill='#fff'/><rect x='7.7' y='60' width='55.3' height='3.8' fill='#fff'/><rect x='15' y='12' width='6' height='6.2' fill='#1f98d8'/><rect x='25.4' y='12' width='6' height='6.2' fill='#1f98d8'/><rect x='15' y='22.2' width='6' height='6.2' fill='#1f98d8'/><rect x='25.4' y='22.2' width='6' height='6.2' fill='#1f98d8'/><rect x='15' y='32.5' width='6' height='6.2' fill='#1f98d8'/><rect x='25.4' y='32.5' width='6' height='6.2' fill='#1f98d8'/><rect x='15' y='42.8' width='6' height='6.2' fill='#1f98d8'/><rect x='25.4' y='42.8' width='6' height='6.2' fill='#1f98d8'/><rect x='39.1' y='32.5' width='6.3' height='6.2' fill='#1f98d8'/><rect x='49.3' y='32.5' width='6.3' height='6.2' fill='#1f98d8'/><rect x='39.1' y='42.8' width='6.3' height='6.2' fill='#1f98d8'/><rect x='49.3' y='42.8' width='6.3' height='6.2' fill='#1f98d8'/><rect x='18.2' y='53.3' width='9.9' height='6.5' fill='#1f98d8'/><rect x='42.3' y='53.3' width='9.9' height='6.5' fill='#1f98d8'/></svg>
<div class=t style="left:-2190.0px;width:3000px;text-align:right;top:1897.1px;font-size:27px;font-weight:400;color:#fff;"><span style="display:inline-block;transform:scaleX(1.066);transform-origin:right;">34 km</span></div>
<div class=r style="left:816.8px;top:1795.5px;width:185.0px;height:57.0px;background:#9b9b9b;"></div>
<div class=r style="left:816.8px;top:1852.5px;width:185.0px;height:37.5px;background:#e6e6e6;"></div>
<div class=r style="left:816.8px;top:1890.0px;width:185.0px;height:38.5px;background:#cccccc;"></div>
<svg class=s style="left:818.8px;top:1795.5px;" width="47" height="64" viewBox="0 0 47 64"><polygon points='0,0 47,0 47,57 23.5,63.6 0,57' fill='#1f98d8'/><rect x='10.5' y='7' width='25.5' height='29.5' rx='5' fill='#fff'/><rect x='14' y='10.8' width='18.8' height='10.5' rx='2' fill='#1f98d8'/><circle cx='16.4' cy='32.2' r='2.1' fill='#1f98d8'/><circle cx='30.5' cy='32.2' r='2.1' fill='#1f98d8'/><polygon points='13.5,37.5 33,37.5 38.5,47.5 8.5,47.5' fill='#fff'/><rect x='16.5' y='41' width='13.5' height='2.2' fill='#1f98d8'/></svg>
<div class=t style="left:-567.5px;width:3000px;text-align:center;top:1806.3px;font-size:18px;font-weight:400;color:#f4f4f4;"><span style="display:inline-block;transform:scaleX(1.12);transform-origin:center;">Öffentliche</span></div>
<div class=t style="left:-567.5px;width:3000px;text-align:center;top:1825.3px;font-size:18px;font-weight:400;color:#f4f4f4;"><span style="display:inline-block;transform:scaleX(1.1);transform-origin:center;">Verkehrsmittel</span></div>
<svg class=s style="left:834.3px;top:1865.5px;" width="16" height="16" viewBox="0 0 16 16"><rect x='1' y='0.5' width='14' height='2.2' fill='#4a4a4a'/><rect x='1' y='13.3' width='14' height='2.2' fill='#4a4a4a'/><path d='M2.5 2.7 H13.5 L9.2 8 L13.5 13.3 H2.5 L6.8 8 Z' fill='none' stroke='#4a4a4a' stroke-width='1.6'/><path d='M5 12.4 L8 9.6 L11 12.4 Z' fill='#4a4a4a'/></svg>
<svg class=s style="left:831.3px;top:1902.0px;" width="21" height="15" viewBox="0 0 21 15"><rect x='1' y='1' width='19' height='13' rx='1.6' fill='none' stroke='#4a4a4a' stroke-width='1.8'/><rect x='1' y='4' width='19' height='3' fill='#4a4a4a'/><rect x='3.5' y='10' width='3' height='1.4' fill='#4a4a4a'/><rect x='7.5' y='10' width='3' height='1.4' fill='#4a4a4a'/></svg>
<div class=t style="left:-569.0px;width:3000px;text-align:center;top:1856.4px;font-size:27px;font-weight:400;color:#111;-webkit-text-stroke:0.6px #111;"><span style="display:inline-block;transform:scaleX(1.1);transform-origin:center;">40 Min.</span></div>
<div class=t style="left:-569.0px;width:3000px;text-align:center;top:1895.6px;font-size:27px;font-weight:400;color:#111;-webkit-text-stroke:0.6px #111;"><span style="display:inline-block;transform:scaleX(1.034);transform-origin:center;">€ 8,00</span></div>
<div class=r style="left:1006.5px;top:1795.5px;width:186.0px;height:57.0px;background:#9b9b9b;"></div>
<div class=r style="left:1006.5px;top:1852.5px;width:186.0px;height:37.5px;background:#e6e6e6;"></div>
<div class=r style="left:1006.5px;top:1890.0px;width:186.0px;height:38.5px;background:#cccccc;"></div>
<svg class=s style="left:1008.5px;top:1795.5px;" width="47" height="64" viewBox="0 0 47 64"><polygon points='0,0 47,0 47,57 23.5,63.6 0,57' fill='#1f98d8'/><rect x='16' y='9.5' width='15' height='6' rx='1' fill='#fff'/><text x='23.5' y='14.6' font-size='4.8' font-weight='700' text-anchor='middle' fill='#1f98d8' font-family="Liberation Sans">TAXI</text><path d='M11 16 H36 L40.5 27 H6.5 Z' fill='#fff'/><path d='M14 19 H33 L35.6 26 H11.4 Z' fill='#1f98d8'/><rect x='4.5' y='26' width='38' height='15' rx='4' fill='#fff'/><rect x='7.5' y='39' width='8' height='7' rx='2' fill='#fff'/><rect x='31.5' y='39' width='8' height='7' rx='2' fill='#fff'/><rect x='8.5' y='30' width='6.5' height='4' rx='2' fill='#1f98d8'/><rect x='32' y='30' width='6.5' height='4' rx='2' fill='#1f98d8'/><rect x='3' y='25' width='4' height='3' rx='1' fill='#fff'/><rect x='40' y='25' width='4' height='3' rx='1' fill='#fff'/></svg>
<div class=t style="left:-381.5px;width:3000px;text-align:center;top:1825.3px;font-size:18px;font-weight:400;color:#f4f4f4;"><span style="display:inline-block;transform:scaleX(1.15);transform-origin:center;">Taxi</span></div>
<svg class=s style="left:1024.0px;top:1865.5px;" width="16" height="16" viewBox="0 0 16 16"><rect x='1' y='0.5' width='14' height='2.2' fill='#4a4a4a'/><rect x='1' y='13.3' width='14' height='2.2' fill='#4a4a4a'/><path d='M2.5 2.7 H13.5 L9.2 8 L13.5 13.3 H2.5 L6.8 8 Z' fill='none' stroke='#4a4a4a' stroke-width='1.6'/><path d='M5 12.4 L8 9.6 L11 12.4 Z' fill='#4a4a4a'/></svg>
<svg class=s style="left:1021.0px;top:1902.0px;" width="21" height="15" viewBox="0 0 21 15"><rect x='1' y='1' width='19' height='13' rx='1.6' fill='none' stroke='#4a4a4a' stroke-width='1.8'/><rect x='1' y='4' width='19' height='3' fill='#4a4a4a'/><rect x='3.5' y='10' width='3' height='1.4' fill='#4a4a4a'/><rect x='7.5' y='10' width='3' height='1.4' fill='#4a4a4a'/></svg>
<div class=t style="left:-380.0px;width:3000px;text-align:center;top:1856.4px;font-size:27px;font-weight:400;color:#111;-webkit-text-stroke:0.6px #111;"><span style="display:inline-block;transform:scaleX(1.1);transform-origin:center;">60 Min.</span></div>
<div class=t style="left:-380.0px;width:3000px;text-align:center;top:1895.6px;font-size:27px;font-weight:400;color:#111;-webkit-text-stroke:0.6px #111;"><span style="display:inline-block;transform:scaleX(1.034);transform-origin:center;">€ 38,00</span></div>
<div class=t style="left:61.0px;top:1976.9px;font-size:34px;font-weight:700;color:#333;-webkit-text-stroke:0.7px #333;"><span style="display:inline-block;transform:scaleX(0.885);transform-origin:left;">11. Madrid</span></div>
<div class=r style="left:62.0px;top:2016.7px;width:531.0px;height:2.0px;background:#111;"></div>
<div class=r style="left:62.0px;top:2018.7px;width:152.0px;height:133.0px;background:#1f98d8;"></div>
<div class=t style="left:-1361.5px;width:3000px;text-align:center;top:2029.6px;font-size:17.2px;font-weight:400;color:#fff;"><span style="display:inline-block;transform:scaleX(1.19);transform-origin:center;">Entfernung zum</span></div>
<div class=t style="left:-1361.5px;width:3000px;text-align:center;top:2049.6px;font-size:17.2px;font-weight:400;color:#fff;"><span style="display:inline-block;transform:scaleX(1.19);transform-origin:center;">Stadtzentrum</span></div>
<svg class=s style="left:62.0px;top:2079.7px;" width="70" height="70" viewBox="0 0 70 70"><rect x='10.7' y='8' width='25.2' height='55.8' fill='#fff'/><rect x='35.9' y='28.7' width='23.9' height='35' fill='#fff'/><rect x='7.7' y='60' width='55.3' height='3.8' fill='#fff'/><rect x='15' y='12' width='6' height='6.2' fill='#1f98d8'/><rect x='25.4' y='12' width='6' height='6.2' fill='#1f98d8'/><rect x='15' y='22.2' width='6' height='6.2' fill='#1f98d8'/><rect x='25.4' y='22.2' width='6' height='6.2' fill='#1f98d8'/><rect x='15' y='32.5' width='6' height='6.2' fill='#1f98d8'/><rect x='25.4' y='32.5' width='6' height='6.2' fill='#1f98d8'/><rect x='15' y='42.8' width='6' height='6.2' fill='#1f98d8'/><rect x='25.4' y='42.8' width='6' height='6.2' fill='#1f98d8'/><rect x='39.1' y='32.5' width='6.3' height='6.2' fill='#1f98d8'/><rect x='49.3' y='32.5' width='6.3' height='6.2' fill='#1f98d8'/><rect x='39.1' y='42.8' width='6.3' height='6.2' fill='#1f98d8'/><rect x='49.3' y='42.8' width='6.3' height='6.2' fill='#1f98d8'/><rect x='18.2' y='53.3' width='9.9' height='6.5' fill='#1f98d8'/><rect x='42.3' y='53.3' width='9.9' height='6.5' fill='#1f98d8'/></svg>
<div class=t style="left:-2789.0px;width:3000px;text-align:right;top:2120.3px;font-size:27px;font-weight:400;color:#fff;"><span style="display:inline-block;transform:scaleX(1.066);transform-origin:right;">15 km</span></div>
<div class=r style="left:217.8px;top:2018.7px;width:185.0px;height:57.0px;background:#9b9b9b;"></div>
<div class=r style="left:217.8px;top:2075.7px;width:185.0px;height:37.5px;background:#e6e6e6;"></div>
<div class=r style="left:217.8px;top:2113.2px;width:185.0px;height:38.5px;background:#cccccc;"></div>
<svg class=s style="left:219.8px;top:2018.7px;" width="47" height="64" viewBox="0 0 47 64"><polygon points='0,0 47,0 47,57 23.5,63.6 0,57' fill='#1f98d8'/><rect x='10.5' y='7' width='25.5' height='29.5' rx='5' fill='#fff'/><rect x='14' y='10.8' width='18.8' height='10.5' rx='2' fill='#1f98d8'/><circle cx='16.4' cy='32.2' r='2.1' fill='#1f98d8'/><circle cx='30.5' cy='32.2' r='2.1' fill='#1f98d8'/><polygon points='13.5,37.5 33,37.5 38.5,47.5 8.5,47.5' fill='#fff'/><rect x='16.5' y='41' width='13.5' height='2.2' fill='#1f98d8'/></svg>
<div class=t style="left:-1166.5px;width:3000px;text-align:center;top:2029.5px;font-size:18px;font-weight:400;color:#f4f4f4;"><span style="display:inline-block;transform:scaleX(1.12);transform-origin:center;">Öffentliche</span></div>
<div class=t style="left:-1166.5px;width:3000px;text-align:center;top:2048.5px;font-size:18px;font-weight:400;color:#f4f4f4;"><span style="display:inline-block;transform:scaleX(1.1);transform-origin:center;">Verkehrsmittel</span></div>
<svg class=s style="left:235.3px;top:2088.7px;" width="16" height="16" viewBox="0 0 16 16"><rect x='1' y='0.5' width='14' height='2.2' fill='#4a4a4a'/><rect x='1' y='13.3' width='14' height='2.2' fill='#4a4a4a'/><path d='M2.5 2.7 H13.5 L9.2 8 L13.5 13.3 H2.5 L6.8 8 Z' fill='none' stroke='#4a4a4a' stroke-width='1.6'/><path d='M5 12.4 L8 9.6 L11 12.4 Z' fill='#4a4a4a'/></svg>
<svg class=s style="left:232.3px;top:2125.2px;" width="21" height="15" viewBox="0 0 21 15"><rect x='1' y='1' width='19' height='13' rx='1.6' fill='none' stroke='#4a4a4a' stroke-width='1.8'/><rect x='1' y='4' width='19' height='3' fill='#4a4a4a'/><rect x='3.5' y='10' width='3' height='1.4' fill='#4a4a4a'/><rect x='7.5' y='10' width='3' height='1.4' fill='#4a4a4a'/></svg>
<div class=t style="left:-1168.0px;width:3000px;text-align:center;top:2079.6px;font-size:27px;font-weight:400;color:#111;-webkit-text-stroke:0.6px #111;"><span style="display:inline-block;transform:scaleX(1.1);transform-origin:center;">45 Min.</span></div>
<div class=t style="left:-1168.0px;width:3000px;text-align:center;top:2118.8px;font-size:27px;font-weight:400;color:#111;-webkit-text-stroke:0.6px #111;"><span style="display:inline-block;transform:scaleX(1.034);transform-origin:center;">€ 5,00</span></div>
<div class=r style="left:407.5px;top:2018.7px;width:186.0px;height:57.0px;background:#9b9b9b;"></div>
<div class=r style="left:407.5px;top:2075.7px;width:186.0px;height:37.5px;background:#e6e6e6;"></div>
<div class=r style="left:407.5px;top:2113.2px;width:186.0px;height:38.5px;background:#cccccc;"></div>
<svg class=s style="left:409.5px;top:2018.7px;" width="47" height="64" viewBox="0 0 47 64"><polygon points='0,0 47,0 47,57 23.5,63.6 0,57' fill='#1f98d8'/><rect x='16' y='9.5' width='15' height='6' rx='1' fill='#fff'/><text x='23.5' y='14.6' font-size='4.8' font-weight='700' text-anchor='middle' fill='#1f98d8' font-family="Liberation Sans">TAXI</text><path d='M11 16 H36 L40.5 27 H6.5 Z' fill='#fff'/><path d='M14 19 H33 L35.6 26 H11.4 Z' fill='#1f98d8'/><rect x='4.5' y='26' width='38' height='15' rx='4' fill='#fff'/><rect x='7.5' y='39' width='8' height='7' rx='2' fill='#fff'/><rect x='31.5' y='39' width='8' height='7' rx='2' fill='#fff'/><rect x='8.5' y='30' width='6.5' height='4' rx='2' fill='#1f98d8'/><rect x='32' y='30' width='6.5' height='4' rx='2' fill='#1f98d8'/><rect x='3' y='25' width='4' height='3' rx='1' fill='#fff'/><rect x='40' y='25' width='4' height='3' rx='1' fill='#fff'/></svg>
<div class=t style="left:-980.5px;width:3000px;text-align:center;top:2048.5px;font-size:18px;font-weight:400;color:#f4f4f4;"><span style="display:inline-block;transform:scaleX(1.15);transform-origin:center;">Taxi</span></div>
<svg class=s style="left:425.0px;top:2088.7px;" width="16" height="16" viewBox="0 0 16 16"><rect x='1' y='0.5' width='14' height='2.2' fill='#4a4a4a'/><rect x='1' y='13.3' width='14' height='2.2' fill='#4a4a4a'/><path d='M2.5 2.7 H13.5 L9.2 8 L13.5 13.3 H2.5 L6.8 8 Z' fill='none' stroke='#4a4a4a' stroke-width='1.6'/><path d='M5 12.4 L8 9.6 L11 12.4 Z' fill='#4a4a4a'/></svg>
<svg class=s style="left:422.0px;top:2125.2px;" width="21" height="15" viewBox="0 0 21 15"><rect x='1' y='1' width='19' height='13' rx='1.6' fill='none' stroke='#4a4a4a' stroke-width='1.8'/><rect x='1' y='4' width='19' height='3' fill='#4a4a4a'/><rect x='3.5' y='10' width='3' height='1.4' fill='#4a4a4a'/><rect x='7.5' y='10' width='3' height='1.4' fill='#4a4a4a'/></svg>
<div class=t style="left:-979.0px;width:3000px;text-align:center;top:2079.6px;font-size:27px;font-weight:400;color:#111;-webkit-text-stroke:0.6px #111;"><span style="display:inline-block;transform:scaleX(1.1);transform-origin:center;">20 Min.</span></div>
<div class=t style="left:-979.0px;width:3000px;text-align:center;top:2118.8px;font-size:27px;font-weight:400;color:#111;-webkit-text-stroke:0.6px #111;"><span style="display:inline-block;transform:scaleX(1.034);transform-origin:center;">€ 30,00</span></div>
<div class=t style="left:660.0px;top:1976.9px;font-size:34px;font-weight:700;color:#333;-webkit-text-stroke:0.7px #333;"><span style="display:inline-block;transform:scaleX(0.885);transform-origin:left;">12. Dublin</span></div>
<div class=r style="left:661.0px;top:2016.7px;width:531.0px;height:2.0px;background:#111;"></div>
<div class=r style="left:661.0px;top:2018.7px;width:152.0px;height:133.0px;background:#1f98d8;"></div>
<div class=t style="left:-762.5px;width:3000px;text-align:center;top:2029.6px;font-size:17.2px;font-weight:400;color:#fff;"><span style="display:inline-block;transform:scaleX(1.19);transform-origin:center;">Entfernung zum</span></div>
<div class=t style="left:-762.5px;width:3000px;text-align:center;top:2049.6px;font-size:17.2px;font-weight:400;color:#fff;"><span style="display:inline-block;transform:scaleX(1.19);transform-origin:center;">Stadtzentrum</span></div>
<svg class=s style="left:661.0px;top:2079.7px;" width="70" height="70" viewBox="0 0 70 70"><rect x='10.7' y='8' width='25.2' height='55.8' fill='#fff'/><rect x='35.9' y='28.7' width='23.9' height='35' fill='#fff'/><rect x='7.7' y='60' width='55.3' height='3.8' fill='#fff'/><rect x='15' y='12' width='6' height='6.2' fill='#1f98d8'/><rect x='25.4' y='12' width='6' height='6.2' fill='#1f98d8'/><rect x='15' y='22.2' width='6' height='6.2' fill='#1f98d8'/><rect x='25.4' y='22.2' width='6' height='6.2' fill='#1f98d8'/><rect x='15' y='32.5' width='6' height='6.2' fill='#1f98d8'/><rect x='25.4' y='32.5' width='6' height='6.2' fill='#1f98d8'/><rect x='15' y='42.8' width='6' height='6.2' fill='#1f98d8'/><rect x='25.4' y='42.8' width='6' height='6.2' fill='#1f98d8'/><rect x='39.1' y='32.5' width='6.3' height='6.2' fill='#1f98d8'/><rect x='49.3' y='32.5' width='6.3' height='6.2' fill='#1f98d8'/><rect x='39.1' y='42.8' width='6.3' height='6.2' fill='#1f98d8'/><rect x='49.3' y='42.8' width='6.3' height='6.2' fill='#1f98d8'/><rect x='18.2' y='53.3' width='9.9' height='6.5' fill='#1f98d8'/><rect x='42.3' y='53.3' width='9.9' height='6.5' fill='#1f98d8'/></svg>
<div class=t style="left:-2190.0px;width:3000px;text-align:right;top:2120.3px;font-size:27px;font-weight:400;color:#fff;"><span style="display:inline-block;transform:scaleX(1.066);transform-origin:right;">12 km</span></div>
<div class=r style="left:816.8px;top:2018.7px;width:185.0px;height:57.0px;background:#9b9b9b;"></div>
<div class=r style="left:816.8px;top:2075.7px;width:185.0px;height:37.5px;background:#e6e6e6;"></div>
<div class=r style="left:816.8px;top:2113.2px;width:185.0px;height:38.5px;background:#cccccc;"></div>
<svg class=s style="left:818.8px;top:2018.7px;" width="47" height="64" viewBox="0 0 47 64"><polygon points='0,0 47,0 47,57 23.5,63.6 0,57' fill='#1f98d8'/><rect x='10.5' y='7' width='25.5' height='29.5' rx='5' fill='#fff'/><rect x='14' y='10.8' width='18.8' height='10.5' rx='2' fill='#1f98d8'/><circle cx='16.4' cy='32.2' r='2.1' fill='#1f98d8'/><circle cx='30.5' cy='32.2' r='2.1' fill='#1f98d8'/><polygon points='13.5,37.5 33,37.5 38.5,47.5 8.5,47.5' fill='#fff'/><rect x='16.5' y='41' width='13.5' height='2.2' fill='#1f98d8'/></svg>
<div class=t style="left:-567.5px;width:3000px;text-align:center;top:2029.5px;font-size:18px;font-weight:400;color:#f4f4f4;"><span style="display:inline-block;transform:scaleX(1.12);transform-origin:center;">Öffentliche</span></div>
<div class=t style="left:-567.5px;width:3000px;text-align:center;top:2048.5px;font-size:18px;font-weight:400;color:#f4f4f4;"><span style="display:inline-block;transform:scaleX(1.1);transform-origin:center;">Verkehrsmittel</span></div>
<svg class=s style="left:834.3px;top:2088.7px;" width="16" height="16" viewBox="0 0 16 16"><rect x='1' y='0.5' width='14' height='2.2' fill='#4a4a4a'/><rect x='1' y='13.3' width='14' height='2.2' fill='#4a4a4a'/><path d='M2.5 2.7 H13.5 L9.2 8 L13.5 13.3 H2.5 L6.8 8 Z' fill='none' stroke='#4a4a4a' stroke-width='1.6'/><path d='M5 12.4 L8 9.6 L11 12.4 Z' fill='#4a4a4a'/></svg>
<svg class=s style="left:831.3px;top:2125.2px;" width="21" height="15" viewBox="0 0 21 15"><rect x='1' y='1' width='19' height='13' rx='1.6' fill='none' stroke='#4a4a4a' stroke-width='1.8'/><rect x='1' y='4' width='19' height='3' fill='#4a4a4a'/><rect x='3.5' y='10' width='3' height='1.4' fill='#4a4a4a'/><rect x='7.5' y='10' width='3' height='1.4' fill='#4a4a4a'/></svg>
<div class=t style="left:-569.0px;width:3000px;text-align:center;top:2079.6px;font-size:27px;font-weight:400;color:#111;-webkit-text-stroke:0.6px #111;"><span style="display:inline-block;transform:scaleX(1.1);transform-origin:center;">40 Min.</span></div>
<div class=t style="left:-569.0px;width:3000px;text-align:center;top:2118.8px;font-size:27px;font-weight:400;color:#111;-webkit-text-stroke:0.6px #111;"><span style="display:inline-block;transform:scaleX(1.034);transform-origin:center;">€ 3,30</span></div>
<div class=r style="left:1006.5px;top:2018.7px;width:186.0px;height:57.0px;background:#9b9b9b;"></div>
<div class=r style="left:1006.5px;top:2075.7px;width:186.0px;height:37.5px;background:#e6e6e6;"></div>
<div class=r style="left:1006.5px;top:2113.2px;width:186.0px;height:38.5px;background:#cccccc;"></div>
<svg class=s style="left:1008.5px;top:2018.7px;" width="47" height="64" viewBox="0 0 47 64"><polygon points='0,0 47,0 47,57 23.5,63.6 0,57' fill='#1f98d8'/><rect x='16' y='9.5' width='15' height='6' rx='1' fill='#fff'/><text x='23.5' y='14.6' font-size='4.8' font-weight='700' text-anchor='middle' fill='#1f98d8' font-family="Liberation Sans">TAXI</text><path d='M11 16 H36 L40.5 27 H6.5 Z' fill='#fff'/><path d='M14 19 H33 L35.6 26 H11.4 Z' fill='#1f98d8'/><rect x='4.5' y='26' width='38' height='15' rx='4' fill='#fff'/><rect x='7.5' y='39' width='8' height='7' rx='2' fill='#fff'/><rect x='31.5' y='39' width='8' height='7' rx='2' fill='#fff'/><rect x='8.5' y='30' width='6.5' height='4' rx='2' fill='#1f98d8'/><rect x='32' y='30' width='6.5' height='4' rx='2' fill='#1f98d8'/><rect x='3' y='25' width='4' height='3' rx='1' fill='#fff'/><rect x='40' y='25' width='4' height='3' rx='1' fill='#fff'/></svg>
<div class=t style="left:-381.5px;width:3000px;text-align:center;top:2048.5px;font-size:18px;font-weight:400;color:#f4f4f4;"><span style="display:inline-block;transform:scaleX(1.15);transform-origin:center;">Taxi</span></div>
<svg class=s style="left:1024.0px;top:2088.7px;" width="16" height="16" viewBox="0 0 16 16"><rect x='1' y='0.5' width='14' height='2.2' fill='#4a4a4a'/><rect x='1' y='13.3' width='14' height='2.2' fill='#4a4a4a'/><path d='M2.5 2.7 H13.5 L9.2 8 L13.5 13.3 H2.5 L6.8 8 Z' fill='none' stroke='#4a4a4a' stroke-width='1.6'/><path d='M5 12.4 L8 9.6 L11 12.4 Z' fill='#4a4a4a'/></svg>
<svg class=s style="left:1021.0px;top:2125.2px;" width="21" height="15" viewBox="0 0 21 15"><rect x='1' y='1' width='19' height='13' rx='1.6' fill='none' stroke='#4a4a4a' stroke-width='1.8'/><rect x='1' y='4' width='19' height='3' fill='#4a4a4a'/><rect x='3.5' y='10' width='3' height='1.4' fill='#4a4a4a'/><rect x='7.5' y='10' width='3' height='1.4' fill='#4a4a4a'/></svg>
<div class=t style="left:-380.0px;width:3000px;text-align:center;top:2079.6px;font-size:27px;font-weight:400;color:#111;-webkit-text-stroke:0.6px #111;"><span style="display:inline-block;transform:scaleX(1.1);transform-origin:center;">20 Min.</span></div>
<div class=t style="left:-380.0px;width:3000px;text-align:center;top:2118.8px;font-size:27px;font-weight:400;color:#111;-webkit-text-stroke:0.6px #111;"><span style="display:inline-block;transform:scaleX(1.034);transform-origin:center;">€ 30,00</span></div>
<div class=t style="left:61.0px;top:2200.7px;font-size:34px;font-weight:700;color:#333;-webkit-text-stroke:0.7px #333;"><span style="display:inline-block;transform:scaleX(0.885);transform-origin:left;">13. Malaga</span></div>
<div class=r style="left:62.0px;top:2240.5px;width:531.0px;height:2.0px;background:#111;"></div>
<div class=r style="left:62.0px;top:2242.5px;width:152.0px;height:133.0px;background:#1f98d8;"></div>
<div class=t style="left:-1361.5px;width:3000px;text-align:center;top:2253.4px;font-size:17.2px;font-weight:400;color:#fff;"><span style="display:inline-block;transform:scaleX(1.19);transform-origin:center;">Entfernung zum</span></div>
<div class=t style="left:-1361.5px;width:3000px;text-align:center;top:2273.4px;font-size:17.2px;font-weight:400;color:#fff;"><span style="display:inline-block;transform:scaleX(1.19);transform-origin:center;">Stadtzentrum</span></div>
<svg class=s style="left:62.0px;top:2303.5px;" width="70" height="70" viewBox="0 0 70 70"><rect x='10.7' y='8' width='25.2' height='55.8' fill='#fff'/><rect x='35.9' y='28.7' width='23.9' height='35' fill='#fff'/><rect x='7.7' y='60' width='55.3' height='3.8' fill='#fff'/><rect x='15' y='12' width='6' height='6.2' fill='#1f98d8'/><rect x='25.4' y='12' width='6' height='6.2' fill='#1f98d8'/><rect x='15' y='22.2' width='6' height='6.2' fill='#1f98d8'/><rect x='25.4' y='22.2' width='6' height='6.2' fill='#1f98d8'/><rect x='15' y='32.5' width='6' height='6.2' fill='#1f98d8'/><rect x='25.4' y='32.5' width='6' height='6.2' fill='#1f98d8'/><rect x='15' y='42.8' width='6' height='6.2' fill='#1f98d8'/><rect x='25.4' y='42.8' width='6' height='6.2' fill='#1f98d8'/><rect x='39.1' y='32.5' width='6.3' height='6.2' fill='#1f98d8'/><rect x='49.3' y='32.5' width='6.3' height='6.2' fill='#1f98d8'/><rect x='39.1' y='42.8' width='6.3' height='6.2' fill='#1f98d8'/><rect x='49.3' y='42.8' width='6.3' height='6.2' fill='#1f98d8'/><rect x='18.2' y='53.3' width='9.9' height='6.5' fill='#1f98d8'/><rect x='42.3' y='53.3' width='9.9' height='6.5' fill='#1f98d8'/></svg>
<div class=t style="left:-2789.0px;width:3000px;text-align:right;top:2344.1px;font-size:27px;font-weight:400;color:#fff;"><span style="display:inline-block;transform:scaleX(1.066);transform-origin:right;">13 km</span></div>
<div class=r style="left:217.8px;top:2242.5px;width:185.0px;height:57.0px;background:#9b9b9b;"></div>
<div class=r style="left:217.8px;top:2299.5px;width:185.0px;height:37.5px;background:#e6e6e6;"></div>
<div class=r style="left:217.8px;top:2337.0px;width:185.0px;height:38.5px;background:#cccccc;"></div>
<svg class=s style="left:219.8px;top:2242.5px;" width="47" height="64" viewBox="0 0 47 64"><polygon points='0,0 47,0 47,57 23.5,63.6 0,57' fill='#1f98d8'/><rect x='10.5' y='7' width='25.5' height='29.5' rx='5' fill='#fff'/><rect x='14' y='10.8' width='18.8' height='10.5' rx='2' fill='#1f98d8'/><circle cx='16.4' cy='32.2' r='2.1' fill='#1f98d8'/><circle cx='30.5' cy='32.2' r='2.1' fill='#1f98d8'/><polygon points='13.5,37.5 33,37.5 38.5,47.5 8.5,47.5' fill='#fff'/><rect x='16.5' y='41' width='13.5' height='2.2' fill='#1f98d8'/></svg>
<div class=t style="left:-1166.5px;width:3000px;text-align:center;top:2253.3px;font-size:18px;font-weight:400;color:#f4f4f4;"><span style="display:inline-block;transform:scaleX(1.12);transform-origin:center;">Öffentliche</span></div>
<div class=t style="left:-1166.5px;width:3000px;text-align:center;top:2272.3px;font-size:18px;font-weight:400;color:#f4f4f4;"><span style="display:inline-block;transform:scaleX(1.1);transform-origin:center;">Verkehrsmittel</span></div>
<svg class=s style="left:235.3px;top:2312.5px;" width="16" height="16" viewBox="0 0 16 16"><rect x='1' y='0.5' width='14' height='2.2' fill='#4a4a4a'/><rect x='1' y='13.3' width='14' height='2.2' fill='#4a4a4a'/><path d='M2.5 2.7 H13.5 L9.2 8 L13.5 13.3 H2.5 L6.8 8 Z' fill='none' stroke='#4a4a4a' stroke-width='1.6'/><path d='M5 12.4 L8 9.6 L11 12.4 Z' fill='#4a4a4a'/></svg>
<svg class=s style="left:232.3px;top:2349.0px;" width="21" height="15" viewBox="0 0 21 15"><rect x='1' y='1' width='19' height='13' rx='1.6' fill='none' stroke='#4a4a4a' stroke-width='1.8'/><rect x='1' y='4' width='19' height='3' fill='#4a4a4a'/><rect x='3.5' y='10' width='3' height='1.4' fill='#4a4a4a'/><rect x='7.5' y='10' width='3' height='1.4' fill='#4a4a4a'/></svg>
<div class=t style="left:-1168.0px;width:3000px;text-align:center;top:2303.4px;font-size:27px;font-weight:400;color:#111;-webkit-text-stroke:0.6px #111;"><span style="display:inline-block;transform:scaleX(1.1);transform-origin:center;">35 Min.</span></div>
<div class=t style="left:-1168.0px;width:3000px;text-align:center;top:2342.6px;font-size:27px;font-weight:400;color:#111;-webkit-text-stroke:0.6px #111;"><span style="display:inline-block;transform:scaleX(1.034);transform-origin:center;">€ 3,00</span></div>
<div class=r style="left:407.5px;top:2242.5px;width:186.0px;height:57.0px;background:#9b9b9b;"></div>
<div class=r style="left:407.5px;top:2299.5px;width:186.0px;height:37.5px;background:#e6e6e6;"></div>
<div class=r style="left:407.5px;top:2337.0px;width:186.0px;height:38.5px;background:#cccccc;"></div>
<svg class=s style="left:409.5px;top:2242.5px;" width="47" height="64" viewBox="0 0 47 64"><polygon points='0,0 47,0 47,57 23.5,63.6 0,57' fill='#1f98d8'/><rect x='16' y='9.5' width='15' height='6' rx='1' fill='#fff'/><text x='23.5' y='14.6' font-size='4.8' font-weight='700' text-anchor='middle' fill='#1f98d8' font-family="Liberation Sans">TAXI</text><path d='M11 16 H36 L40.5 27 H6.5 Z' fill='#fff'/><path d='M14 19 H33 L35.6 26 H11.4 Z' fill='#1f98d8'/><rect x='4.5' y='26' width='38' height='15' rx='4' fill='#fff'/><rect x='7.5' y='39' width='8' height='7' rx='2' fill='#fff'/><rect x='31.5' y='39' width='8' height='7' rx='2' fill='#fff'/><rect x='8.5' y='30' width='6.5' height='4' rx='2' fill='#1f98d8'/><rect x='32' y='30' width='6.5' height='4' rx='2' fill='#1f98d8'/><rect x='3' y='25' width='4' height='3' rx='1' fill='#fff'/><rect x='40' y='25' width='4' height='3' rx='1' fill='#fff'/></svg>
<div class=t style="left:-980.5px;width:3000px;text-align:center;top:2272.3px;font-size:18px;font-weight:400;color:#f4f4f4;"><span style="display:inline-block;transform:scaleX(1.15);transform-origin:center;">Taxi</span></div>
<svg class=s style="left:425.0px;top:2312.5px;" width="16" height="16" viewBox="0 0 16 16"><rect x='1' y='0.5' width='14' height='2.2' fill='#4a4a4a'/><rect x='1' y='13.3' width='14' height='2.2' fill='#4a4a4a'/><path d='M2.5 2.7 H13.5 L9.2 8 L13.5 13.3 H2.5 L6.8 8 Z' fill='none' stroke='#4a4a4a' stroke-width='1.6'/><path d='M5 12.4 L8 9.6 L11 12.4 Z' fill='#4a4a4a'/></svg>
<svg class=s style="left:422.0px;top:2349.0px;" width="21" height="15" viewBox="0 0 21 15"><rect x='1' y='1' width='19' height='13' rx='1.6' fill='none' stroke='#4a4a4a' stroke-width='1.8'/><rect x='1' y='4' width='19' height='3' fill='#4a4a4a'/><rect x='3.5' y='10' width='3' height='1.4' fill='#4a4a4a'/><rect x='7.5' y='10' width='3' height='1.4' fill='#4a4a4a'/></svg>
<div class=t style="left:-979.0px;width:3000px;text-align:center;top:2303.4px;font-size:27px;font-weight:400;color:#111;-webkit-text-stroke:0.6px #111;"><span style="display:inline-block;transform:scaleX(1.1);transform-origin:center;">25 Min.</span></div>
<div class=t style="left:-979.0px;width:3000px;text-align:center;top:2342.6px;font-size:27px;font-weight:400;color:#111;-webkit-text-stroke:0.6px #111;"><span style="display:inline-block;transform:scaleX(1.034);transform-origin:center;">€ 19,00</span></div>
<div class=t style="left:660.0px;top:2200.7px;font-size:34px;font-weight:700;color:#333;-webkit-text-stroke:0.7px #333;"><span style="display:inline-block;transform:scaleX(0.885);transform-origin:left;">14. Nizza</span></div>
<div class=r style="left:661.0px;top:2240.5px;width:531.0px;height:2.0px;background:#111;"></div>
<div class=r style="left:661.0px;top:2242.5px;width:152.0px;height:133.0px;background:#1f98d8;"></div>
<div class=t style="left:-762.5px;width:3000px;text-align:center;top:2253.4px;font-size:17.2px;font-weight:400;color:#fff;"><span style="display:inline-block;transform:scaleX(1.19);transform-origin:center;">Entfernung zum</span></div>
<div class=t style="left:-762.5px;width:3000px;text-align:center;top:2273.4px;font-size:17.2px;font-weight:400;color:#fff;"><span style="display:inline-block;transform:scaleX(1.19);transform-origin:center;">Stadtzentrum</span></div>
<svg class=s style="left:661.0px;top:2303.5px;" width="70" height="70" viewBox="0 0 70 70"><rect x='10.7' y='8' width='25.2' height='55.8' fill='#fff'/><rect x='35.9' y='28.7' width='23.9' height='35' fill='#fff'/><rect x='7.7' y='60' width='55.3' height='3.8' fill='#fff'/><rect x='15' y='12' width='6' height='6.2' fill='#1f98d8'/><rect x='25.4' y='12' width='6' height='6.2' fill='#1f98d8'/><rect x='15' y='22.2' width='6' height='6.2' fill='#1f98d8'/><rect x='25.4' y='22.2' width='6' height='6.2' fill='#1f98d8'/><rect x='15' y='32.5' width='6' height='6.2' fill='#1f98d8'/><rect x='25.4' y='32.5' width='6' height='6.2' fill='#1f98d8'/><rect x='15' y='42.8' width='6' height='6.2' fill='#1f98d8'/><rect x='25.4' y='42.8' width='6' height='6.2' fill='#1f98d8'/><rect x='39.1' y='32.5' width='6.3' height='6.2' fill='#1f98d8'/><rect x='49.3' y='32.5' width='6.3' height='6.2' fill='#1f98d8'/><rect x='39.1' y='42.8' width='6.3' height='6.2' fill='#1f98d8'/><rect x='49.3' y='42.8' width='6.3' height='6.2' fill='#1f98d8'/><rect x='18.2' y='53.3' width='9.9' height='6.5' fill='#1f98d8'/><rect x='42.3' y='53.3' width='9.9' height='6.5' fill='#1f98d8'/></svg>
<div class=t style="left:-2190.0px;width:3000px;text-align:right;top:2344.1px;font-size:27px;font-weight:400;color:#fff;"><span style="display:inline-block;transform:scaleX(1.066);transform-origin:right;">8 km</span></div>
<div class=r style="left:816.8px;top:2242.5px;width:185.0px;height:57.0px;background:#9b9b9b;"></div>
<div class=r style="left:816.8px;top:2299.5px;width:185.0px;height:37.5px;background:#e6e6e6;"></div>
<div class=r style="left:816.8px;top:2337.0px;width:185.0px;height:38.5px;background:#cccccc;"></div>
<svg class=s style="left:818.8px;top:2242.5px;" width="47" height="64" viewBox="0 0 47 64"><polygon points='0,0 47,0 47,57 23.5,63.6 0,57' fill='#1f98d8'/><rect x='10.5' y='7' width='25.5' height='29.5' rx='5' fill='#fff'/><rect x='14' y='10.8' width='18.8' height='10.5' rx='2' fill='#1f98d8'/><circle cx='16.4' cy='32.2' r='2.1' fill='#1f98d8'/><circle cx='30.5' cy='32.2' r='2.1' fill='#1f98d8'/><polygon points='13.5,37.5 33,37.5 38.5,47.5 8.5,47.5' fill='#fff'/><rect x='16.5' y='41' width='13.5' height='2.2' fill='#1f98d8'/></svg>
<div class=t style="left:-567.5px;width:3000px;text-align:center;top:2253.3px;font-size:18px;font-weight:400;color:#f4f4f4;"><span style="display:inline-block;transform:scaleX(1.12);transform-origin:center;">Öffentliche</span></div>
<div class=t style="left:-567.5px;width:3000px;text-align:center;top:2272.3px;font-size:18px;font-weight:400;color:#f4f4f4;"><span style="display:inline-block;transform:scaleX(1.1);transform-origin:center;">Verkehrsmittel</span></div>
<svg class=s style="left:834.3px;top:2312.5px;" width="16" height="16" viewBox="0 0 16 16"><rect x='1' y='0.5' width='14' height='2.2' fill='#4a4a4a'/><rect x='1' y='13.3' width='14' height='2.2' fill='#4a4a4a'/><path d='M2.5 2.7 H13.5 L9.2 8 L13.5 13.3 H2.5 L6.8 8 Z' fill='none' stroke='#4a4a4a' stroke-width='1.6'/><path d='M5 12.4 L8 9.6 L11 12.4 Z' fill='#4a4a4a'/></svg>
<svg class=s style="left:831.3px;top:2349.0px;" width="21" height="15" viewBox="0 0 21 15"><rect x='1' y='1' width='19' height='13' rx='1.6' fill='none' stroke='#4a4a4a' stroke-width='1.8'/><rect x='1' y='4' width='19' height='3' fill='#4a4a4a'/><rect x='3.5' y='10' width='3' height='1.4' fill='#4a4a4a'/><rect x='7.5' y='10' width='3' height='1.4' fill='#4a4a4a'/></svg>
<div class=t style="left:-569.0px;width:3000px;text-align:center;top:2303.4px;font-size:27px;font-weight:400;color:#111;-webkit-text-stroke:0.6px #111;"><span style="display:inline-block;transform:scaleX(1.1);transform-origin:center;">20 Min.</span></div>
<div class=t style="left:-569.0px;width:3000px;text-align:center;top:2342.6px;font-size:27px;font-weight:400;color:#111;-webkit-text-stroke:0.6px #111;"><span style="display:inline-block;transform:scaleX(1.034);transform-origin:center;">€ 6,00</span></div>
<div class=r style="left:1006.5px;top:2242.5px;width:186.0px;height:57.0px;background:#9b9b9b;"></div>
<div class=r style="left:1006.5px;top:2299.5px;width:186.0px;height:37.5px;background:#e6e6e6;"></div>
<div class=r style="left:1006.5px;top:2337.0px;width:186.0px;height:38.5px;background:#cccccc;"></div>
<svg class=s style="left:1008.5px;top:2242.5px;" width="47" height="64" viewBox="0 0 47 64"><polygon points='0,0 47,0 47,57 23.5,63.6 0,57' fill='#1f98d8'/><rect x='16' y='9.5' width='15' height='6' rx='1' fill='#fff'/><text x='23.5' y='14.6' font-size='4.8' font-weight='700' text-anchor='middle' fill='#1f98d8' font-family="Liberation Sans">TAXI</text><path d='M11 16 H36 L40.5 27 H6.5 Z' fill='#fff'/><path d='M14 19 H33 L35.6 26 H11.4 Z' fill='#1f98d8'/><rect x='4.5' y='26' width='38' height='15' rx='4' fill='#fff'/><rect x='7.5' y='39' width='8' height='7' rx='2' fill='#fff'/><rect x='31.5' y='39' width='8' height='7' rx='2' fill='#fff'/><rect x='8.5' y='30' width='6.5' height='4' rx='2' fill='#1f98d8'/><rect x='32' y='30' width='6.5' height='4' rx='2' fill='#1f98d8'/><rect x='3' y='25' width='4' height='3' rx='1' fill='#fff'/><rect x='40' y='25' width='4' height='3' rx='1' fill='#fff'/></svg>
<div class=t style="left:-381.5px;width:3000px;text-align:center;top:2272.3px;font-size:18px;font-weight:400;color:#f4f4f4;"><span style="display:inline-block;transform:scaleX(1.15);transform-origin:center;">Taxi</span></div>
<svg class=s style="left:1024.0px;top:2312.5px;" width="16" height="16" viewBox="0 0 16 16"><rect x='1' y='0.5' width='14' height='2.2' fill='#4a4a4a'/><rect x='1' y='13.3' width='14' height='2.2' fill='#4a4a4a'/><path d='M2.5 2.7 H13.5 L9.2 8 L13.5 13.3 H2.5 L6.8 8 Z' fill='none' stroke='#4a4a4a' stroke-width='1.6'/><path d='M5 12.4 L8 9.6 L11 12.4 Z' fill='#4a4a4a'/></svg>
<svg class=s style="left:1021.0px;top:2349.0px;" width="21" height="15" viewBox="0 0 21 15"><rect x='1' y='1' width='19' height='13' rx='1.6' fill='none' stroke='#4a4a4a' stroke-width='1.8'/><rect x='1' y='4' width='19' height='3' fill='#4a4a4a'/><rect x='3.5' y='10' width='3' height='1.4' fill='#4a4a4a'/><rect x='7.5' y='10' width='3' height='1.4' fill='#4a4a4a'/></svg>
<div class=t style="left:-380.0px;width:3000px;text-align:center;top:2303.4px;font-size:27px;font-weight:400;color:#111;-webkit-text-stroke:0.6px #111;"><span style="display:inline-block;transform:scaleX(1.1);transform-origin:center;">20 Min.</span></div>
<div class=t style="left:-380.0px;width:3000px;text-align:center;top:2342.6px;font-size:27px;font-weight:400;color:#111;-webkit-text-stroke:0.6px #111;"><span style="display:inline-block;transform:scaleX(1.034);transform-origin:center;">€ 35,00</span></div>
<div class=t style="left:61.0px;top:2425.4px;font-size:34px;font-weight:700;color:#333;-webkit-text-stroke:0.7px #333;"><span style="display:inline-block;transform:scaleX(0.885);transform-origin:left;">15. Kopenhagen</span></div>
<div class=r style="left:62.0px;top:2465.2px;width:531.0px;height:2.0px;background:#111;"></div>
<div class=r style="left:62.0px;top:2467.2px;width:152.0px;height:133.0px;background:#1f98d8;"></div>
<div class=t style="left:-1361.5px;width:3000px;text-align:center;top:2478.1px;font-size:17.2px;font-weight:400;color:#fff;"><span style="display:inline-block;transform:scaleX(1.19);transform-origin:center;">Entfernung zum</span></div>
<div class=t style="left:-1361.5px;width:3000px;text-align:center;top:2498.1px;font-size:17.2px;font-weight:400;color:#fff;"><span style="display:inline-block;transform:scaleX(1.19);transform-origin:center;">Stadtzentrum</span></div>
<svg class=s style="left:62.0px;top:2528.2px;" width="70" height="70" viewBox="0 0 70 70"><rect x='10.7' y='8' width='25.2' height='55.8' fill='#fff'/><rect x='35.9' y='28.7' width='23.9' height='35' fill='#fff'/><rect x='7.7' y='60' width='55.3' height='3.8' fill='#fff'/><rect x='15' y='12' width='6' height='6.2' fill='#1f98d8'/><rect x='25.4' y='12' width='6' height='6.2' fill='#1f98d8'/><rect x='15' y='22.2' width='6' height='6.2' fill='#1f98d8'/><rect x='25.4' y='22.2' width='6' height='6.2' fill='#1f98d8'/><rect x='15' y='32.5' width='6' height='6.2' fill='#1f98d8'/><rect x='25.4' y='32.5' width='6' height='6.2' fill='#1f98d8'/><rect x='15' y='42.8' width='6' height='6.2' fill='#1f98d8'/><rect x='25.4' y='42.8' width='6' height='6.2' fill='#1f98d8'/><rect x='39.1' y='32.5' width='6.3' height='6.2' fill='#1f98d8'/><rect x='49.3' y='32.5' width='6.3' height='6.2' fill='#1f98d8'/><rect x='39.1' y='42.8' width='6.3' height='6.2' fill='#1f98d8'/><rect x='49.3' y='42.8' width='6.3' height='6.2' fill='#1f98d8'/><rect x='18.2' y='53.3' width='9.9' height='6.5' fill='#1f98d8'/><rect x='42.3' y='53.3' width='9.9' height='6.5' fill='#1f98d8'/></svg>
<div class=t style="left:-2789.0px;width:3000px;text-align:right;top:2568.8px;font-size:27px;font-weight:400;color:#fff;"><span style="display:inline-block;transform:scaleX(1.066);transform-origin:right;">8 km</span></div>
<div class=r style="left:217.8px;top:2467.2px;width:185.0px;height:57.0px;background:#9b9b9b;"></div>
<div class=r style="left:217.8px;top:2524.2px;width:185.0px;height:37.5px;background:#e6e6e6;"></div>
<div class=r style="left:217.8px;top:2561.7px;width:185.0px;height:38.5px;background:#cccccc;"></div>
<svg class=s style="left:219.8px;top:2467.2px;" width="47" height="64" viewBox="0 0 47 64"><polygon points='0,0 47,0 47,57 23.5,63.6 0,57' fill='#1f98d8'/><rect x='10.5' y='7' width='25.5' height='29.5' rx='5' fill='#fff'/><rect x='14' y='10.8' width='18.8' height='10.5' rx='2' fill='#1f98d8'/><circle cx='16.4' cy='32.2' r='2.1' fill='#1f98d8'/><circle cx='30.5' cy='32.2' r='2.1' fill='#1f98d8'/><polygon points='13.5,37.5 33,37.5 38.5,47.5 8.5,47.5' fill='#fff'/><rect x='16.5' y='41' width='13.5' height='2.2' fill='#1f98d8'/></svg>
<div class=t style="left:-1166.5px;width:3000px;text-align:center;top:2478.0px;font-size:18px;font-weight:400;color:#f4f4f4;"><span style="display:inline-block;transform:scaleX(1.12);transform-origin:center;">Öffentliche</span></div>
<div class=t style="left:-1166.5px;width:3000px;text-align:center;top:2497.0px;font-size:18px;font-weight:400;color:#f4f4f4;"><span style="display:inline-block;transform:scaleX(1.1);transform-origin:center;">Verkehrsmittel</span></div>
<svg class=s style="left:235.3px;top:2537.2px;" width="16" height="16" viewBox="0 0 16 16"><rect x='1' y='0.5' width='14' height='2.2' fill='#4a4a4a'/><rect x='1' y='13.3' width='14' height='2.2' fill='#4a4a4a'/><path d='M2.5 2.7 H13.5 L9.2 8 L13.5 13.3 H2.5 L6.8 8 Z' fill='none' stroke='#4a4a4a' stroke-width='1.6'/><path d='M5 12.4 L8 9.6 L11 12.4 Z' fill='#4a4a4a'/></svg>
<svg class=s style="left:232.3px;top:2573.7px;" width="21" height="15" viewBox="0 0 21 15"><rect x='1' y='1' width='19' height='13' rx='1.6' fill='none' stroke='#4a4a4a' stroke-width='1.8'/><rect x='1' y='4' width='19' height='3' fill='#4a4a4a'/><rect x='3.5' y='10' width='3' height='1.4' fill='#4a4a4a'/><rect x='7.5' y='10' width='3' height='1.4' fill='#4a4a4a'/></svg>
<div class=t style="left:-1168.0px;width:3000px;text-align:center;top:2528.1px;font-size:27px;font-weight:400;color:#111;-webkit-text-stroke:0.6px #111;"><span style="display:inline-block;transform:scaleX(1.1);transform-origin:center;">13 Min.</span></div>
<div class=t style="left:-1168.0px;width:3000px;text-align:center;top:2567.3px;font-size:27px;font-weight:400;color:#111;-webkit-text-stroke:0.6px #111;"><span style="display:inline-block;transform:scaleX(1.034);transform-origin:center;">€ 5,00</span></div>
<div class=r style="left:407.5px;top:2467.2px;width:186.0px;height:57.0px;background:#9b9b9b;"></div>
<div class=r style="left:407.5px;top:2524.2px;width:186.0px;height:37.5px;background:#e6e6e6;"></div>
<div class=r style="left:407.5px;top:2561.7px;width:186.0px;height:38.5px;background:#cccccc;"></div>
<svg class=s style="left:409.5px;top:2467.2px;" width="47" height="64" viewBox="0 0 47 64"><polygon points='0,0 47,0 47,57 23.5,63.6 0,57' fill='#1f98d8'/><rect x='16' y='9.5' width='15' height='6' rx='1' fill='#fff'/><text x='23.5' y='14.6' font-size='4.8' font-weight='700' text-anchor='middle' fill='#1f98d8' font-family="Liberation Sans">TAXI</text><path d='M11 16 H36 L40.5 27 H6.5 Z' fill='#fff'/><path d='M14 19 H33 L35.6 26 H11.4 Z' fill='#1f98d8'/><rect x='4.5' y='26' width='38' height='15' rx='4' fill='#fff'/><rect x='7.5' y='39' width='8' height='7' rx='2' fill='#fff'/><rect x='31.5' y='39' width='8' height='7' rx='2' fill='#fff'/><rect x='8.5' y='30' width='6.5' height='4' rx='2' fill='#1f98d8'/><rect x='32' y='30' width='6.5' height='4' rx='2' fill='#1f98d8'/><rect x='3' y='25' width='4' height='3' rx='1' fill='#fff'/><rect x='40' y='25' width='4' height='3' rx='1' fill='#fff'/></svg>
<div class=t style="left:-980.5px;width:3000px;text-align:center;top:2497.0px;font-size:18px;font-weight:400;color:#f4f4f4;"><span style="display:inline-block;transform:scaleX(1.15);transform-origin:center;">Taxi</span></div>
<svg class=s style="left:425.0px;top:2537.2px;" width="16" height="16" viewBox="0 0 16 16"><rect x='1' y='0.5' width='14' height='2.2' fill='#4a4a4a'/><rect x='1' y='13.3' width='14' height='2.2' fill='#4a4a4a'/><path d='M2.5 2.7 H13.5 L9.2 8 L13.5 13.3 H2.5 L6.8 8 Z' fill='none' stroke='#4a4a4a' stroke-width='1.6'/><path d='M5 12.4 L8 9.6 L11 12.4 Z' fill='#4a4a4a'/></svg>
<svg class=s style="left:422.0px;top:2573.7px;" width="21" height="15" viewBox="0 0 21 15"><rect x='1' y='1' width='19' height='13' rx='1.6' fill='none' stroke='#4a4a4a' stroke-width='1.8'/><rect x='1' y='4' width='19' height='3' fill='#4a4a4a'/><rect x='3.5' y='10' width='3' height='1.4' fill='#4a4a4a'/><rect x='7.5' y='10' width='3' height='1.4' fill='#4a4a4a'/></svg>
<div class=t style="left:-979.0px;width:3000px;text-align:center;top:2528.1px;font-size:27px;font-weight:400;color:#111;-webkit-text-stroke:0.6px #111;"><span style="display:inline-block;transform:scaleX(1.1);transform-origin:center;">20 Min.</span></div>
<div class=t style="left:-979.0px;width:3000px;text-align:center;top:2567.3px;font-size:27px;font-weight:400;color:#111;-webkit-text-stroke:0.6px #111;"><span style="display:inline-block;transform:scaleX(1.034);transform-origin:center;">€ 40,00</span></div>
<div class=t style="left:660.0px;top:2425.4px;font-size:34px;font-weight:700;color:#333;-webkit-text-stroke:0.7px #333;"><span style="display:inline-block;transform:scaleX(0.885);transform-origin:left;">16. Stockholm</span></div>
<div class=r style="left:661.0px;top:2465.2px;width:531.0px;height:2.0px;background:#111;"></div>
<div class=r style="left:661.0px;top:2467.2px;width:152.0px;height:133.0px;background:#1f98d8;"></div>
<div class=t style="left:-762.5px;width:3000px;text-align:center;top:2478.1px;font-size:17.2px;font-weight:400;color:#fff;"><span style="display:inline-block;transform:scaleX(1.19);transform-origin:center;">Entfernung zum</span></div>
<div class=t style="left:-762.5px;width:3000px;text-align:center;top:2498.1px;font-size:17.2px;font-weight:400;color:#fff;"><span style="display:inline-block;transform:scaleX(1.19);transform-origin:center;">Stadtzentrum</span></div>
<svg class=s style="left:661.0px;top:2528.2px;" width="70" height="70" viewBox="0 0 70 70"><rect x='10.7' y='8' width='25.2' height='55.8' fill='#fff'/><rect x='35.9' y='28.7' width='23.9' height='35' fill='#fff'/><rect x='7.7' y='60' width='55.3' height='3.8' fill='#fff'/><rect x='15' y='12' width='6' height='6.2' fill='#1f98d8'/><rect x='25.4' y='12' width='6' height='6.2' fill='#1f98d8'/><rect x='15' y='22.2' width='6' height='6.2' fill='#1f98d8'/><rect x='25.4' y='22.2' width='6' height='6.2' fill='#1f98d8'/><rect x='15' y='32.5' width='6' height='6.2' fill='#1f98d8'/><rect x='25.4' y='32.5' width='6' height='6.2' fill='#1f98d8'/><rect x='15' y='42.8' width='6' height='6.2' fill='#1f98d8'/><rect x='25.4' y='42.8' width='6' height='6.2' fill='#1f98d8'/><rect x='39.1' y='32.5' width='6.3' height='6.2' fill='#1f98d8'/><rect x='49.3' y='32.5' width='6.3' height='6.2' fill='#1f98d8'/><rect x='39.1' y='42.8' width='6.3' height='6.2' fill='#1f98d8'/><rect x='49.3' y='42.8' width='6.3' height='6.2' fill='#1f98d8'/><rect x='18.2' y='53.3' width='9.9' height='6.5' fill='#1f98d8'/><rect x='42.3' y='53.3' width='9.9' height='6.5' fill='#1f98d8'/></svg>
<div class=t style="left:-2190.0px;width:3000px;text-align:right;top:2568.8px;font-size:27px;font-weight:400;color:#fff;"><span style="display:inline-block;transform:scaleX(1.066);transform-origin:right;">42 km</span></div>
<div class=r style="left:816.8px;top:2467.2px;width:185.0px;height:57.0px;background:#9b9b9b;"></div>
<div class=r style="left:816.8px;top:2524.2px;width:185.0px;height:37.5px;background:#e6e6e6;"></div>
<div class=r style="left:816.8px;top:2561.7px;width:185.0px;height:38.5px;background:#cccccc;"></div>
<svg class=s style="left:818.8px;top:2467.2px;" width="47" height="64" viewBox="0 0 47 64"><polygon points='0,0 47,0 47,57 23.5,63.6 0,57' fill='#1f98d8'/><rect x='10.5' y='7' width='25.5' height='29.5' rx='5' fill='#fff'/><rect x='14' y='10.8' width='18.8' height='10.5' rx='2' fill='#1f98d8'/><circle cx='16.4' cy='32.2' r='2.1' fill='#1f98d8'/><circle cx='30.5' cy='32.2' r='2.1' fill='#1f98d8'/><polygon points='13.5,37.5 33,37.5 38.5,47.5 8.5,47.5' fill='#fff'/><rect x='16.5' y='41' width='13.5' height='2.2' fill='#1f98d8'/></svg>
<div class=t style="left:-567.5px;width:3000px;text-align:center;top:2478.0px;font-size:18px;font-weight:400;color:#f4f4f4;"><span style="display:inline-block;transform:scaleX(1.12);transform-origin:center;">Öffentliche</span></div>
<div class=t style="left:-567.5px;width:3000px;text-align:center;top:2497.0px;font-size:18px;font-weight:400;color:#f4f4f4;"><span style="display:inline-block;transform:scaleX(1.1);transform-origin:center;">Verkehrsmittel</span></div>
<svg class=s style="left:834.3px;top:2537.2px;" width="16" height="16" viewBox="0 0 16 16"><rect x='1' y='0.5' width='14' height='2.2' fill='#4a4a4a'/><rect x='1' y='13.3' width='14' height='2.2' fill='#4a4a4a'/><path d='M2.5 2.7 H13.5 L9.2 8 L13.5 13.3 H2.5 L6.8 8 Z' fill='none' stroke='#4a4a4a' stroke-width='1.6'/><path d='M5 12.4 L8 9.6 L11 12.4 Z' fill='#4a4a4a'/></svg>
<svg class=s style="left:831.3px;top:2573.7px;" width="21" height="15" viewBox="0 0 21 15"><rect x='1' y='1' width='19' height='13' rx='1.6' fill='none' stroke='#4a4a4a' stroke-width='1.8'/><rect x='1' y='4' width='19' height='3' fill='#4a4a4a'/><rect x='3.5' y='10' width='3' height='1.4' fill='#4a4a4a'/><rect x='7.5' y='10' width='3' height='1.4' fill='#4a4a4a'/></svg>
<div class=t style="left:-569.0px;width:3000px;text-align:center;top:2528.1px;font-size:27px;font-weight:400;color:#111;-webkit-text-stroke:0.6px #111;"><span style="display:inline-block;transform:scaleX(1.1);transform-origin:center;">45 Min.</span></div>
<div class=t style="left:-569.0px;width:3000px;text-align:center;top:2567.3px;font-size:27px;font-weight:400;color:#111;-webkit-text-stroke:0.6px #111;"><span style="display:inline-block;transform:scaleX(1.034);transform-origin:center;">€ 10,40</span></div>
<div class=r style="left:1006.5px;top:2467.2px;width:186.0px;height:57.0px;background:#9b9b9b;"></div>
<div class=r style="left:1006.5px;top:2524.2px;width:186.0px;height:37.5px;background:#e6e6e6;"></div>
<div class=r style="left:1006.5px;top:2561.7px;width:186.0px;height:38.5px;background:#cccccc;"></div>
<svg class=s style="left:1008.5px;top:2467.2px;" width="47" height="64" viewBox="0 0 47 64"><polygon points='0,0 47,0 47,57 23.5,63.6 0,57' fill='#1f98d8'/><rect x='16' y='9.5' width='15' height='6' rx='1' fill='#fff'/><text x='23.5' y='14.6' font-size='4.8' font-weight='700' text-anchor='middle' fill='#1f98d8' font-family="Liberation Sans">TAXI</text><path d='M11 16 H36 L40.5 27 H6.5 Z' fill='#fff'/><path d='M14 19 H33 L35.6 26 H11.4 Z' fill='#1f98d8'/><rect x='4.5' y='26' width='38' height='15' rx='4' fill='#fff'/><rect x='7.5' y='39' width='8' height='7' rx='2' fill='#fff'/><rect x='31.5' y='39' width='8' height='7' rx='2' fill='#fff'/><rect x='8.5' y='30' width='6.5' height='4' rx='2' fill='#1f98d8'/><rect x='32' y='30' width='6.5' height='4' rx='2' fill='#1f98d8'/><rect x='3' y='25' width='4' height='3' rx='1' fill='#fff'/><rect x='40' y='25' width='4' height='3' rx='1' fill='#fff'/></svg>
<div class=t style="left:-381.5px;width:3000px;text-align:center;top:2497.0px;font-size:18px;font-weight:400;color:#f4f4f4;"><span style="display:inline-block;transform:scaleX(1.15);transform-origin:center;">Taxi</span></div>
<svg class=s style="left:1024.0px;top:2537.2px;" width="16" height="16" viewBox="0 0 16 16"><rect x='1' y='0.5' width='14' height='2.2' fill='#4a4a4a'/><rect x='1' y='13.3' width='14' height='2.2' fill='#4a4a4a'/><path d='M2.5 2.7 H13.5 L9.2 8 L13.5 13.3 H2.5 L6.8 8 Z' fill='none' stroke='#4a4a4a' stroke-width='1.6'/><path d='M5 12.4 L8 9.6 L11 12.4 Z' fill='#4a4a4a'/></svg>
<svg class=s style="left:1021.0px;top:2573.7px;" width="21" height="15" viewBox="0 0 21 15"><rect x='1' y='1' width='19' height='13' rx='1.6' fill='none' stroke='#4a4a4a' stroke-width='1.8'/><rect x='1' y='4' width='19' height='3' fill='#4a4a4a'/><rect x='3.5' y='10' width='3' height='1.4' fill='#4a4a4a'/><rect x='7.5' y='10' width='3' height='1.4' fill='#4a4a4a'/></svg>
<div class=t style="left:-380.0px;width:3000px;text-align:center;top:2528.1px;font-size:27px;font-weight:400;color:#111;-webkit-text-stroke:0.6px #111;"><span style="display:inline-block;transform:scaleX(1.1);transform-origin:center;">40 Min.</span></div>
<div class=t style="left:-380.0px;width:3000px;text-align:center;top:2567.3px;font-size:27px;font-weight:400;color:#111;-webkit-text-stroke:0.6px #111;"><span style="display:inline-block;transform:scaleX(1.034);transform-origin:center;">€ 53,00</span></div>
<div class=t style="left:61.0px;top:2649.2px;font-size:34px;font-weight:700;color:#333;-webkit-text-stroke:0.7px #333;"><span style="display:inline-block;transform:scaleX(0.885);transform-origin:left;">17. Ibiza</span></div>
<div class=r style="left:62.0px;top:2689.0px;width:531.0px;height:2.0px;background:#111;"></div>
<div class=r style="left:62.0px;top:2691.0px;width:152.0px;height:133.0px;background:#1f98d8;"></div>
<div class=t style="left:-1361.5px;width:3000px;text-align:center;top:2701.9px;font-size:17.2px;font-weight:400;color:#fff;"><span style="display:inline-block;transform:scaleX(1.19);transform-origin:center;">Entfernung zum</span></div>
<div class=t style="left:-1361.5px;width:3000px;text-align:center;top:2721.9px;font-size:17.2px;font-weight:400;color:#fff;"><span style="display:inline-block;transform:scaleX(1.19);transform-origin:center;">Stadtzentrum</span></div>
<svg class=s style="left:62.0px;top:2752.0px;" width="70" height="70" viewBox="0 0 70 70"><rect x='10.7' y='8' width='25.2' height='55.8' fill='#fff'/><rect x='35.9' y='28.7' width='23.9' height='35' fill='#fff'/><rect x='7.7' y='60' width='55.3' height='3.8' fill='#fff'/><rect x='15' y='12' width='6' height='6.2' fill='#1f98d8'/><rect x='25.4' y='12' width='6' height='6.2' fill='#1f98d8'/><rect x='15' y='22.2' width='6' height='6.2' fill='#1f98d8'/><rect x='25.4' y='22.2' width='6' height='6.2' fill='#1f98d8'/><rect x='15' y='32.5' width='6' height='6.2' fill='#1f98d8'/><rect x='25.4' y='32.5' width='6' height='6.2' fill='#1f98d8'/><rect x='15' y='42.8' width='6' height='6.2' fill='#1f98d8'/><rect x='25.4' y='42.8' width='6' height='6.2' fill='#1f98d8'/><rect x='39.1' y='32.5' width='6.3' height='6.2' fill='#1f98d8'/><rect x='49.3' y='32.5' width='6.3' height='6.2' fill='#1f98d8'/><rect x='39.1' y='42.8' width='6.3' height='6.2' fill='#1f98d8'/><rect x='49.3' y='42.8' width='6.3' height='6.2' fill='#1f98d8'/><rect x='18.2' y='53.3' width='9.9' height='6.5' fill='#1f98d8'/><rect x='42.3' y='53.3' width='9.9' height='6.5' fill='#1f98d8'/></svg>
<div class=t style="left:-2789.0px;width:3000px;text-align:right;top:2792.6px;font-size:27px;font-weight:400;color:#fff;"><span style="display:inline-block;transform:scaleX(1.066);transform-origin:right;">8 km</span></div>
<div class=r style="left:217.8px;top:2691.0px;width:185.0px;height:57.0px;background:#9b9b9b;"></div>
<div class=r style="left:217.8px;top:2748.0px;width:185.0px;height:37.5px;background:#e6e6e6;"></div>
<div class=r style="left:217.8px;top:2785.5px;width:185.0px;height:38.5px;background:#cccccc;"></div>
<svg class=s style="left:219.8px;top:2691.0px;" width="47" height="64" viewBox="0 0 47 64"><polygon points='0,0 47,0 47,57 23.5,63.6 0,57' fill='#1f98d8'/><rect x='10.5' y='7' width='25.5' height='29.5' rx='5' fill='#fff'/><rect x='14' y='10.8' width='18.8' height='10.5' rx='2' fill='#1f98d8'/><circle cx='16.4' cy='32.2' r='2.1' fill='#1f98d8'/><circle cx='30.5' cy='32.2' r='2.1' fill='#1f98d8'/><polygon points='13.5,37.5 33,37.5 38.5,47.5 8.5,47.5' fill='#fff'/><rect x='16.5' y='41' width='13.5' height='2.2' fill='#1f98d8'/></svg>
<div class=t style="left:-1166.5px;width:3000px;text-align:center;top:2701.8px;font-size:18px;font-weight:400;color:#f4f4f4;"><span style="display:inline-block;transform:scaleX(1.12);transform-origin:center;">Öffentliche</span></div>
<div class=t style="left:-1166.5px;width:3000px;text-align:center;top:2720.8px;font-size:18px;font-weight:400;color:#f4f4f4;"><span style="display:inline-block;transform:scaleX(1.1);transform-origin:center;">Verkehrsmittel</span></div>
<svg class=s style="left:235.3px;top:2761.0px;" width="16" height="16" viewBox="0 0 16 16"><rect x='1' y='0.5' width='14' height='2.2' fill='#4a4a4a'/><rect x='1' y='13.3' width='14' height='2.2' fill='#4a4a4a'/><path d='M2.5 2.7 H13.5 L9.2 8 L13.5 13.3 H2.5 L6.8 8 Z' fill='none' stroke='#4a4a4a' stroke-width='1.6'/><path d='M5 12.4 L8 9.6 L11 12.4 Z' fill='#4a4a4a'/></svg>
<svg class=s style="left:232.3px;top:2797.5px;" width="21" height="15" viewBox="0 0 21 15"><rect x='1' y='1' width='19' height='13' rx='1.6' fill='none' stroke='#4a4a4a' stroke-width='1.8'/><rect x='1' y='4' width='19' height='3' fill='#4a4a4a'/><rect x='3.5' y='10' width='3' height='1.4' fill='#4a4a4a'/><rect x='7.5' y='10' width='3' height='1.4' fill='#4a4a4a'/></svg>
<div class=t style="left:-1168.0px;width:3000px;text-align:center;top:2751.9px;font-size:27px;font-weight:400;color:#111;-webkit-text-stroke:0.6px #111;"><span style="display:inline-block;transform:scaleX(1.1);transform-origin:center;">25 Min.</span></div>
<div class=t style="left:-1168.0px;width:3000px;text-align:center;top:2791.1px;font-size:27px;font-weight:400;color:#111;-webkit-text-stroke:0.6px #111;"><span style="display:inline-block;transform:scaleX(1.034);transform-origin:center;">€ 3,00</span></div>
<div class=r style="left:407.5px;top:2691.0px;width:186.0px;height:57.0px;background:#9b9b9b;"></div>
<div class=r style="left:407.5px;top:2748.0px;width:186.0px;height:37.5px;background:#e6e6e6;"></div>
<div class=r style="left:407.5px;top:2785.5px;width:186.0px;height:38.5px;background:#cccccc;"></div>
<svg class=s style="left:409.5px;top:2691.0px;" width="47" height="64" viewBox="0 0 47 64"><polygon points='0,0 47,0 47,57 23.5,63.6 0,57' fill='#1f98d8'/><rect x='16' y='9.5' width='15' height='6' rx='1' fill='#fff'/><text x='23.5' y='14.6' font-size='4.8' font-weight='700' text-anchor='middle' fill='#1f98d8' font-family="Liberation Sans">TAXI</text><path d='M11 16 H36 L40.5 27 H6.5 Z' fill='#fff'/><path d='M14 19 H33 L35.6 26 H11.4 Z' fill='#1f98d8'/><rect x='4.5' y='26' width='38' height='15' rx='4' fill='#fff'/><rect x='7.5' y='39' width='8' height='7' rx='2' fill='#fff'/><rect x='31.5' y='39' width='8' height='7' rx='2' fill='#fff'/><rect x='8.5' y='30' width='6.5' height='4' rx='2' fill='#1f98d8'/><rect x='32' y='30' width='6.5' height='4' rx='2' fill='#1f98d8'/><rect x='3' y='25' width='4' height='3' rx='1' fill='#fff'/><rect x='40' y='25' width='4' height='3' rx='1' fill='#fff'/></svg>
<div class=t style="left:-980.5px;width:3000px;text-align:center;top:2720.8px;font-size:18px;font-weight:400;color:#f4f4f4;"><span style="display:inline-block;transform:scaleX(1.15);transform-origin:center;">Taxi</span></div>
<svg class=s style="left:425.0px;top:2761.0px;" width="16" height="16" viewBox="0 0 16 16"><rect x='1' y='0.5' width='14' height='2.2' fill='#4a4a4a'/><rect x='1' y='13.3' width='14' height='2.2' fill='#4a4a4a'/><path d='M2.5 2.7 H13.5 L9.2 8 L13.5 13.3 H2.5 L6.8 8 Z' fill='none' stroke='#4a4a4a' stroke-width='1.6'/><path d='M5 12.4 L8 9.6 L11 12.4 Z' fill='#4a4a4a'/></svg>
<svg class=s style="left:422.0px;top:2797.5px;" width="21" height="15" viewBox="0 0 21 15"><rect x='1' y='1' width='19' height='13' rx='1.6' fill='none' stroke='#4a4a4a' stroke-width='1.8'/><rect x='1' y='4' width='19' height='3' fill='#4a4a4a'/><rect x='3.5' y='10' width='3' height='1.4' fill='#4a4a4a'/><rect x='7.5' y='10' width='3' height='1.4' fill='#4a4a4a'/></svg>
<div class=t style="left:-979.0px;width:3000px;text-align:center;top:2751.9px;font-size:27px;font-weight:400;color:#111;-webkit-text-stroke:0.6px #111;"><span style="display:inline-block;transform:scaleX(1.1);transform-origin:center;">20 Min.</span></div>
<div class=t style="left:-979.0px;width:3000px;text-align:center;top:2791.1px;font-size:27px;font-weight:400;color:#111;-webkit-text-stroke:0.6px #111;"><span style="display:inline-block;transform:scaleX(1.034);transform-origin:center;">€ 20,00</span></div>
<div class=t style="left:660.0px;top:2649.2px;font-size:34px;font-weight:700;color:#333;-webkit-text-stroke:0.7px #333;"><span style="display:inline-block;transform:scaleX(0.885);transform-origin:left;">18. Olbia</span></div>
<div class=r style="left:661.0px;top:2689.0px;width:531.0px;height:2.0px;background:#111;"></div>
<div class=r style="left:661.0px;top:2691.0px;width:152.0px;height:133.0px;background:#1f98d8;"></div>
<div class=t style="left:-762.5px;width:3000px;text-align:center;top:2701.9px;font-size:17.2px;font-weight:400;color:#fff;"><span style="display:inline-block;transform:scaleX(1.19);transform-origin:center;">Entfernung zum</span></div>
<div class=t style="left:-762.5px;width:3000px;text-align:center;top:2721.9px;font-size:17.2px;font-weight:400;color:#fff;"><span style="display:inline-block;transform:scaleX(1.19);transform-origin:center;">Stadtzentrum</span></div>
<svg class=s style="left:661.0px;top:2752.0px;" width="70" height="70" viewBox="0 0 70 70"><rect x='10.7' y='8' width='25.2' height='55.8' fill='#fff'/><rect x='35.9' y='28.7' width='23.9' height='35' fill='#fff'/><rect x='7.7' y='60' width='55.3' height='3.8' fill='#fff'/><rect x='15' y='12' width='6' height='6.2' fill='#1f98d8'/><rect x='25.4' y='12' width='6' height='6.2' fill='#1f98d8'/><rect x='15' y='22.2' width='6' height='6.2' fill='#1f98d8'/><rect x='25.4' y='22.2' width='6' height='6.2' fill='#1f98d8'/><rect x='15' y='32.5' width='6' height='6.2' fill='#1f98d8'/><rect x='25.4' y='32.5' width='6' height='6.2' fill='#1f98d8'/><rect x='15' y='42.8' width='6' height='6.2' fill='#1f98d8'/><rect x='25.4' y='42.8' width='6' height='6.2' fill='#1f98d8'/><rect x='39.1' y='32.5' width='6.3' height='6.2' fill='#1f98d8'/><rect x='49.3' y='32.5' width='6.3' height='6.2' fill='#1f98d8'/><rect x='39.1' y='42.8' width='6.3' height='6.2' fill='#1f98d8'/><rect x='49.3' y='42.8' width='6.3' height='6.2' fill='#1f98d8'/><rect x='18.2' y='53.3' width='9.9' height='6.5' fill='#1f98d8'/><rect x='42.3' y='53.3' width='9.9' height='6.5' fill='#1f98d8'/></svg>
<div class=t style="left:-2190.0px;width:3000px;text-align:right;top:2792.6px;font-size:27px;font-weight:400;color:#fff;"><span style="display:inline-block;transform:scaleX(1.066);transform-origin:right;">5 km</span></div>
<div class=r style="left:816.8px;top:2691.0px;width:185.0px;height:57.0px;background:#9b9b9b;"></div>
<div class=r style="left:816.8px;top:2748.0px;width:185.0px;height:37.5px;background:#e6e6e6;"></div>
<div class=r style="left:816.8px;top:2785.5px;width:185.0px;height:38.5px;background:#cccccc;"></div>
<svg class=s style="left:818.8px;top:2691.0px;" width="47" height="64" viewBox="0 0 47 64"><polygon points='0,0 47,0 47,57 23.5,63.6 0,57' fill='#1f98d8'/><rect x='10.5' y='7' width='25.5' height='29.5' rx='5' fill='#fff'/><rect x='14' y='10.8' width='18.8' height='10.5' rx='2' fill='#1f98d8'/><circle cx='16.4' cy='32.2' r='2.1' fill='#1f98d8'/><circle cx='30.5' cy='32.2' r='2.1' fill='#1f98d8'/><polygon points='13.5,37.5 33,37.5 38.5,47.5 8.5,47.5' fill='#fff'/><rect x='16.5' y='41' width='13.5' height='2.2' fill='#1f98d8'/></svg>
<div class=t style="left:-567.5px;width:3000px;text-align:center;top:2701.8px;font-size:18px;font-weight:400;color:#f4f4f4;"><span style="display:inline-block;transform:scaleX(1.12);transform-origin:center;">Öffentliche</span></div>
<div class=t style="left:-567.5px;width:3000px;text-align:center;top:2720.8px;font-size:18px;font-weight:400;color:#f4f4f4;"><span style="display:inline-block;transform:scaleX(1.1);transform-origin:center;">Verkehrsmittel</span></div>
<svg class=s style="left:834.3px;top:2761.0px;" width="16" height="16" viewBox="0 0 16 16"><rect x='1' y='0.5' width='14' height='2.2' fill='#4a4a4a'/><rect x='1' y='13.3' width='14' height='2.2' fill='#4a4a4a'/><path d='M2.5 2.7 H13.5 L9.2 8 L13.5 13.3 H2.5 L6.8 8 Z' fill='none' stroke='#4a4a4a' stroke-width='1.6'/><path d='M5 12.4 L8 9.6 L11 12.4 Z' fill='#4a4a4a'/></svg>
<svg class=s style="left:831.3px;top:2797.5px;" width="21" height="15" viewBox="0 0 21 15"><rect x='1' y='1' width='19' height='13' rx='1.6' fill='none' stroke='#4a4a4a' stroke-width='1.8'/><rect x='1' y='4' width='19' height='3' fill='#4a4a4a'/><rect x='3.5' y='10' width='3' height='1.4' fill='#4a4a4a'/><rect x='7.5' y='10' width='3' height='1.4' fill='#4a4a4a'/></svg>
<div class=t style="left:-569.0px;width:3000px;text-align:center;top:2751.9px;font-size:27px;font-weight:400;color:#111;-webkit-text-stroke:0.6px #111;"><span style="display:inline-block;transform:scaleX(1.1);transform-origin:center;">16 Min.</span></div>
<div class=t style="left:-569.0px;width:3000px;text-align:center;top:2791.1px;font-size:27px;font-weight:400;color:#111;-webkit-text-stroke:0.6px #111;"><span style="display:inline-block;transform:scaleX(1.034);transform-origin:center;">€ 1,00</span></div>
<div class=r style="left:1006.5px;top:2691.0px;width:186.0px;height:57.0px;background:#9b9b9b;"></div>
<div class=r style="left:1006.5px;top:2748.0px;width:186.0px;height:37.5px;background:#e6e6e6;"></div>
<div class=r style="left:1006.5px;top:2785.5px;width:186.0px;height:38.5px;background:#cccccc;"></div>
<svg class=s style="left:1008.5px;top:2691.0px;" width="47" height="64" viewBox="0 0 47 64"><polygon points='0,0 47,0 47,57 23.5,63.6 0,57' fill='#1f98d8'/><rect x='16' y='9.5' width='15' height='6' rx='1' fill='#fff'/><text x='23.5' y='14.6' font-size='4.8' font-weight='700' text-anchor='middle' fill='#1f98d8' font-family="Liberation Sans">TAXI</text><path d='M11 16 H36 L40.5 27 H6.5 Z' fill='#fff'/><path d='M14 19 H33 L35.6 26 H11.4 Z' fill='#1f98d8'/><rect x='4.5' y='26' width='38' height='15' rx='4' fill='#fff'/><rect x='7.5' y='39' width='8' height='7' rx='2' fill='#fff'/><rect x='31.5' y='39' width='8' height='7' rx='2' fill='#fff'/><rect x='8.5' y='30' width='6.5' height='4' rx='2' fill='#1f98d8'/><rect x='32' y='30' width='6.5' height='4' rx='2' fill='#1f98d8'/><rect x='3' y='25' width='4' height='3' rx='1' fill='#fff'/><rect x='40' y='25' width='4' height='3' rx='1' fill='#fff'/></svg>
<div class=t style="left:-381.5px;width:3000px;text-align:center;top:2720.8px;font-size:18px;font-weight:400;color:#f4f4f4;"><span style="display:inline-block;transform:scaleX(1.15);transform-origin:center;">Taxi</span></div>
<svg class=s style="left:1024.0px;top:2761.0px;" width="16" height="16" viewBox="0 0 16 16"><rect x='1' y='0.5' width='14' height='2.2' fill='#4a4a4a'/><rect x='1' y='13.3' width='14' height='2.2' fill='#4a4a4a'/><path d='M2.5 2.7 H13.5 L9.2 8 L13.5 13.3 H2.5 L6.8 8 Z' fill='none' stroke='#4a4a4a' stroke-width='1.6'/><path d='M5 12.4 L8 9.6 L11 12.4 Z' fill='#4a4a4a'/></svg>
<svg class=s style="left:1021.0px;top:2797.5px;" width="21" height="15" viewBox="0 0 21 15"><rect x='1' y='1' width='19' height='13' rx='1.6' fill='none' stroke='#4a4a4a' stroke-width='1.8'/><rect x='1' y='4' width='19' height='3' fill='#4a4a4a'/><rect x='3.5' y='10' width='3' height='1.4' fill='#4a4a4a'/><rect x='7.5' y='10' width='3' height='1.4' fill='#4a4a4a'/></svg>
<div class=t style="left:-380.0px;width:3000px;text-align:center;top:2751.9px;font-size:27px;font-weight:400;color:#111;-webkit-text-stroke:0.6px #111;"><span style="display:inline-block;transform:scaleX(1.1);transform-origin:center;">15 Min.</span></div>
<div class=t style="left:-380.0px;width:3000px;text-align:center;top:2791.1px;font-size:27px;font-weight:400;color:#111;-webkit-text-stroke:0.6px #111;"><span style="display:inline-block;transform:scaleX(1.034);transform-origin:center;">€ 15,00</span></div>
<div class=t style="left:61.0px;top:2875.2px;font-size:34px;font-weight:700;color:#333;-webkit-text-stroke:0.7px #333;"><span style="display:inline-block;transform:scaleX(0.885);transform-origin:left;">19. Berlin (TXL)</span></div>
<div class=r style="left:62.0px;top:2915.0px;width:531.0px;height:2.0px;background:#111;"></div>
<div class=r style="left:62.0px;top:2917.0px;width:152.0px;height:133.0px;background:#1f98d8;"></div>
<div class=t style="left:-1361.5px;width:3000px;text-align:center;top:2927.9px;font-size:17.2px;font-weight:400;color:#fff;"><span style="display:inline-block;transform:scaleX(1.19);transform-origin:center;">Entfernung zum</span></div>
<div class=t style="left:-1361.5px;width:3000px;text-align:center;top:2947.9px;font-size:17.2px;font-weight:400;color:#fff;"><span style="display:inline-block;transform:scaleX(1.19);transform-origin:center;">Stadtzentrum</span></div>
<svg class=s style="left:62.0px;top:2978.0px;" width="70" height="70" viewBox="0 0 70 70"><rect x='10.7' y='8' width='25.2' height='55.8' fill='#fff'/><rect x='35.9' y='28.7' width='23.9' height='35' fill='#fff'/><rect x='7.7' y='60' width='55.3' height='3.8' fill='#fff'/><rect x='15' y='12' width='6' height='6.2' fill='#1f98d8'/><rect x='25.4' y='12' width='6' height='6.2' fill='#1f98d8'/><rect x='15' y='22.2' width='6' height='6.2' fill='#1f98d8'/><rect x='25.4' y='22.2' width='6' height='6.2' fill='#1f98d8'/><rect x='15' y='32.5' width='6' height='6.2' fill='#1f98d8'/><rect x='25.4' y='32.5' width='6' height='6.2' fill='#1f98d8'/><rect x='15' y='42.8' width='6' height='6.2' fill='#1f98d8'/><rect x='25.4' y='42.8' width='6' height='6.2' fill='#1f98d8'/><rect x='39.1' y='32.5' width='6.3' height='6.2' fill='#1f98d8'/><rect x='49.3' y='32.5' width='6.3' height='6.2' fill='#1f98d8'/><rect x='39.1' y='42.8' width='6.3' height='6.2' fill='#1f98d8'/><rect x='49.3' y='42.8' width='6.3' height='6.2' fill='#1f98d8'/><rect x='18.2' y='53.3' width='9.9' height='6.5' fill='#1f98d8'/><rect x='42.3' y='53.3' width='9.9' height='6.5' fill='#1f98d8'/></svg>
<div class=t style="left:-2789.0px;width:3000px;text-align:right;top:3018.6px;font-size:27px;font-weight:400;color:#fff;"><span style="display:inline-block;transform:scaleX(1.066);transform-origin:right;">12 km</span></div>
<div class=r style="left:217.8px;top:2917.0px;width:185.0px;height:57.0px;background:#9b9b9b;"></div>
<div class=r style="left:217.8px;top:2974.0px;width:185.0px;height:37.5px;background:#e6e6e6;"></div>
<div class=r style="left:217.8px;top:3011.5px;width:185.0px;height:38.5px;background:#cccccc;"></div>
<svg class=s style="left:219.8px;top:2917.0px;" width="47" height="64" viewBox="0 0 47 64"><polygon points='0,0 47,0 47,57 23.5,63.6 0,57' fill='#1f98d8'/><rect x='10.5' y='7' width='25.5' height='29.5' rx='5' fill='#fff'/><rect x='14' y='10.8' width='18.8' height='10.5' rx='2' fill='#1f98d8'/><circle cx='16.4' cy='32.2' r='2.1' fill='#1f98d8'/><circle cx='30.5' cy='32.2' r='2.1' fill='#1f98d8'/><polygon points='13.5,37.5 33,37.5 38.5,47.5 8.5,47.5' fill='#fff'/><rect x='16.5' y='41' width='13.5' height='2.2' fill='#1f98d8'/></svg>
<div class=t style="left:-1166.5px;width:3000px;text-align:center;top:2927.8px;font-size:18px;font-weight:400;color:#f4f4f4;"><span style="display:inline-block;transform:scaleX(1.12);transform-origin:center;">Öffentliche</span></div>
<div class=t style="left:-1166.5px;width:3000px;text-align:center;top:2946.8px;font-size:18px;font-weight:400;color:#f4f4f4;"><span style="display:inline-block;transform:scaleX(1.1);transform-origin:center;">Verkehrsmittel</span></div>
<svg class=s style="left:235.3px;top:2987.0px;" width="16" height="16" viewBox="0 0 16 16"><rect x='1' y='0.5' width='14' height='2.2' fill='#4a4a4a'/><rect x='1' y='13.3' width='14' height='2.2' fill='#4a4a4a'/><path d='M2.5 2.7 H13.5 L9.2 8 L13.5 13.3 H2.5 L6.8 8 Z' fill='none' stroke='#4a4a4a' stroke-width='1.6'/><path d='M5 12.4 L8 9.6 L11 12.4 Z' fill='#4a4a4a'/></svg>
<svg class=s style="left:232.3px;top:3023.5px;" width="21" height="15" viewBox="0 0 21 15"><rect x='1' y='1' width='19' height='13' rx='1.6' fill='none' stroke='#4a4a4a' stroke-width='1.8'/><rect x='1' y='4' width='19' height='3' fill='#4a4a4a'/><rect x='3.5' y='10' width='3' height='1.4' fill='#4a4a4a'/><rect x='7.5' y='10' width='3' height='1.4' fill='#4a4a4a'/></svg>
<div class=t style="left:-1168.0px;width:3000px;text-align:center;top:2977.9px;font-size:27px;font-weight:400;color:#111;-webkit-text-stroke:0.6px #111;"><span style="display:inline-block;transform:scaleX(1.1);transform-origin:center;">20 Min.</span></div>
<div class=t style="left:-1168.0px;width:3000px;text-align:center;top:3017.1px;font-size:27px;font-weight:400;color:#111;-webkit-text-stroke:0.6px #111;"><span style="display:inline-block;transform:scaleX(1.034);transform-origin:center;">€ 2,70</span></div>
<div class=r style="left:407.5px;top:2917.0px;width:186.0px;height:57.0px;background:#9b9b9b;"></div>
<div class=r style="left:407.5px;top:2974.0px;width:186.0px;height:37.5px;background:#e6e6e6;"></div>
<div class=r style="left:407.5px;top:3011.5px;width:186.0px;height:38.5px;background:#cccccc;"></div>
<svg class=s style="left:409.5px;top:2917.0px;" width="47" height="64" viewBox="0 0 47 64"><polygon points='0,0 47,0 47,57 23.5,63.6 0,57' fill='#1f98d8'/><rect x='16' y='9.5' width='15' height='6' rx='1' fill='#fff'/><text x='23.5' y='14.6' font-size='4.8' font-weight='700' text-anchor='middle' fill='#1f98d8' font-family="Liberation Sans">TAXI</text><path d='M11 16 H36 L40.5 27 H6.5 Z' fill='#fff'/><path d='M14 19 H33 L35.6 26 H11.4 Z' fill='#1f98d8'/><rect x='4.5' y='26' width='38' height='15' rx='4' fill='#fff'/><rect x='7.5' y='39' width='8' height='7' rx='2' fill='#fff'/><rect x='31.5' y='39' width='8' height='7' rx='2' fill='#fff'/><rect x='8.5' y='30' width='6.5' height='4' rx='2' fill='#1f98d8'/><rect x='32' y='30' width='6.5' height='4' rx='2' fill='#1f98d8'/><rect x='3' y='25' width='4' height='3' rx='1' fill='#fff'/><rect x='40' y='25' width='4' height='3' rx='1' fill='#fff'/></svg>
<div class=t style="left:-980.5px;width:3000px;text-align:center;top:2946.8px;font-size:18px;font-weight:400;color:#f4f4f4;"><span style="display:inline-block;transform:scaleX(1.15);transform-origin:center;">Taxi</span></div>
<svg class=s style="left:425.0px;top:2987.0px;" width="16" height="16" viewBox="0 0 16 16"><rect x='1' y='0.5' width='14' height='2.2' fill='#4a4a4a'/><rect x='1' y='13.3' width='14' height='2.2' fill='#4a4a4a'/><path d='M2.5 2.7 H13.5 L9.2 8 L13.5 13.3 H2.5 L6.8 8 Z' fill='none' stroke='#4a4a4a' stroke-width='1.6'/><path d='M5 12.4 L8 9.6 L11 12.4 Z' fill='#4a4a4a'/></svg>
<svg class=s style="left:422.0px;top:3023.5px;" width="21" height="15" viewBox="0 0 21 15"><rect x='1' y='1' width='19' height='13' rx='1.6' fill='none' stroke='#4a4a4a' stroke-width='1.8'/><rect x='1' y='4' width='19' height='3' fill='#4a4a4a'/><rect x='3.5' y='10' width='3' height='1.4' fill='#4a4a4a'/><rect x='7.5' y='10' width='3' height='1.4' fill='#4a4a4a'/></svg>
<div class=t style="left:-979.0px;width:3000px;text-align:center;top:2977.9px;font-size:27px;font-weight:400;color:#111;-webkit-text-stroke:0.6px #111;"><span style="display:inline-block;transform:scaleX(1.1);transform-origin:center;">20 Min.</span></div>
<div class=t style="left:-979.0px;width:3000px;text-align:center;top:3017.1px;font-size:27px;font-weight:400;color:#111;-webkit-text-stroke:0.6px #111;"><span style="display:inline-block;transform:scaleX(1.034);transform-origin:center;">€ 25,00</span></div>
<div class=t style="left:660.0px;top:2875.2px;font-size:34px;font-weight:700;color:#333;-webkit-text-stroke:0.7px #333;"><span style="display:inline-block;transform:scaleX(0.885);transform-origin:left;">20. Edinburgh</span></div>
<div class=r style="left:661.0px;top:2915.0px;width:531.0px;height:2.0px;background:#111;"></div>
<div class=r style="left:661.0px;top:2917.0px;width:152.0px;height:133.0px;background:#1f98d8;"></div>
<div class=t style="left:-762.5px;width:3000px;text-align:center;top:2927.9px;font-size:17.2px;font-weight:400;color:#fff;"><span style="display:inline-block;transform:scaleX(1.19);transform-origin:center;">Entfernung zum</span></div>
<div class=t style="left:-762.5px;width:3000px;text-align:center;top:2947.9px;font-size:17.2px;font-weight:400;color:#fff;"><span style="display:inline-block;transform:scaleX(1.19);transform-origin:center;">Stadtzentrum</span></div>
<svg class=s style="left:661.0px;top:2978.0px;" width="70" height="70" viewBox="0 0 70 70"><rect x='10.7' y='8' width='25.2' height='55.8' fill='#fff'/><rect x='35.9' y='28.7' width='23.9' height='35' fill='#fff'/><rect x='7.7' y='60' width='55.3' height='3.8' fill='#fff'/><rect x='15' y='12' width='6' height='6.2' fill='#1f98d8'/><rect x='25.4' y='12' width='6' height='6.2' fill='#1f98d8'/><rect x='15' y='22.2' width='6' height='6.2' fill='#1f98d8'/><rect x='25.4' y='22.2' width='6' height='6.2' fill='#1f98d8'/><rect x='15' y='32.5' width='6' height='6.2' fill='#1f98d8'/><rect x='25.4' y='32.5' width='6' height='6.2' fill='#1f98d8'/><rect x='15' y='42.8' width='6' height='6.2' fill='#1f98d8'/><rect x='25.4' y='42.8' width='6' height='6.2' fill='#1f98d8'/><rect x='39.1' y='32.5' width='6.3' height='6.2' fill='#1f98d8'/><rect x='49.3' y='32.5' width='6.3' height='6.2' fill='#1f98d8'/><rect x='39.1' y='42.8' width='6.3' height='6.2' fill='#1f98d8'/><rect x='49.3' y='42.8' width='6.3' height='6.2' fill='#1f98d8'/><rect x='18.2' y='53.3' width='9.9' height='6.5' fill='#1f98d8'/><rect x='42.3' y='53.3' width='9.9' height='6.5' fill='#1f98d8'/></svg>
<div class=t style="left:-2190.0px;width:3000px;text-align:right;top:3018.6px;font-size:27px;font-weight:400;color:#fff;"><span style="display:inline-block;transform:scaleX(1.066);transform-origin:right;">12 km</span></div>
<div class=r style="left:816.8px;top:2917.0px;width:185.0px;height:57.0px;background:#9b9b9b;"></div>
<div class=r style="left:816.8px;top:2974.0px;width:185.0px;height:37.5px;background:#e6e6e6;"></div>
<div class=r style="left:816.8px;top:3011.5px;width:185.0px;height:38.5px;background:#cccccc;"></div>
<svg class=s style="left:818.8px;top:2917.0px;" width="47" height="64" viewBox="0 0 47 64"><polygon points='0,0 47,0 47,57 23.5,63.6 0,57' fill='#1f98d8'/><rect x='10.5' y='7' width='25.5' height='29.5' rx='5' fill='#fff'/><rect x='14' y='10.8' width='18.8' height='10.5' rx='2' fill='#1f98d8'/><circle cx='16.4' cy='32.2' r='2.1' fill='#1f98d8'/><circle cx='30.5' cy='32.2' r='2.1' fill='#1f98d8'/><polygon points='13.5,37.5 33,37.5 38.5,47.5 8.5,47.5' fill='#fff'/><rect x='16.5' y='41' width='13.5' height='2.2' fill='#1f98d8'/></svg>
<div class=t style="left:-567.5px;width:3000px;text-align:center;top:2927.8px;font-size:18px;font-weight:400;color:#f4f4f4;"><span style="display:inline-block;transform:scaleX(1.12);transform-origin:center;">Öffentliche</span></div>
<div class=t style="left:-567.5px;width:3000px;text-align:center;top:2946.8px;font-size:18px;font-weight:400;color:#f4f4f4;"><span style="display:inline-block;transform:scaleX(1.1);transform-origin:center;">Verkehrsmittel</span></div>
<svg class=s style="left:834.3px;top:2987.0px;" width="16" height="16" viewBox="0 0 16 16"><rect x='1' y='0.5' width='14' height='2.2' fill='#4a4a4a'/><rect x='1' y='13.3' width='14' height='2.2' fill='#4a4a4a'/><path d='M2.5 2.7 H13.5 L9.2 8 L13.5 13.3 H2.5 L6.8 8 Z' fill='none' stroke='#4a4a4a' stroke-width='1.6'/><path d='M5 12.4 L8 9.6 L11 12.4 Z' fill='#4a4a4a'/></svg>
<svg class=s style="left:831.3px;top:3023.5px;" width="21" height="15" viewBox="0 0 21 15"><rect x='1' y='1' width='19' height='13' rx='1.6' fill='none' stroke='#4a4a4a' stroke-width='1.8'/><rect x='1' y='4' width='19' height='3' fill='#4a4a4a'/><rect x='3.5' y='10' width='3' height='1.4' fill='#4a4a4a'/><rect x='7.5' y='10' width='3' height='1.4' fill='#4a4a4a'/></svg>
<div class=t style="left:-569.0px;width:3000px;text-align:center;top:2977.9px;font-size:27px;font-weight:400;color:#111;-webkit-text-stroke:0.6px #111;"><span style="display:inline-block;transform:scaleX(1.1);transform-origin:center;">30 Min.</span></div>
<div class=t style="left:-569.0px;width:3000px;text-align:center;top:3017.1px;font-size:27px;font-weight:400;color:#111;-webkit-text-stroke:0.6px #111;"><span style="display:inline-block;transform:scaleX(1.034);transform-origin:center;">6,00 €</span></div>
<div class=r style="left:1006.5px;top:2917.0px;width:186.0px;height:57.0px;background:#9b9b9b;"></div>
<div class=r style="left:1006.5px;top:2974.0px;width:186.0px;height:37.5px;background:#e6e6e6;"></div>
<div class=r style="left:1006.5px;top:3011.5px;width:186.0px;height:38.5px;background:#cccccc;"></div>
<svg class=s style="left:1008.5px;top:2917.0px;" width="47" height="64" viewBox="0 0 47 64"><polygon points='0,0 47,0 47,57 23.5,63.6 0,57' fill='#1f98d8'/><rect x='16' y='9.5' width='15' height='6' rx='1' fill='#fff'/><text x='23.5' y='14.6' font-size='4.8' font-weight='700' text-anchor='middle' fill='#1f98d8' font-family="Liberation Sans">TAXI</text><path d='M11 16 H36 L40.5 27 H6.5 Z' fill='#fff'/><path d='M14 19 H33 L35.6 26 H11.4 Z' fill='#1f98d8'/><rect x='4.5' y='26' width='38' height='15' rx='4' fill='#fff'/><rect x='7.5' y='39' width='8' height='7' rx='2' fill='#fff'/><rect x='31.5' y='39' width='8' height='7' rx='2' fill='#fff'/><rect x='8.5' y='30' width='6.5' height='4' rx='2' fill='#1f98d8'/><rect x='32' y='30' width='6.5' height='4' rx='2' fill='#1f98d8'/><rect x='3' y='25' width='4' height='3' rx='1' fill='#fff'/><rect x='40' y='25' width='4' height='3' rx='1' fill='#fff'/></svg>
<div class=t style="left:-381.5px;width:3000px;text-align:center;top:2946.8px;font-size:18px;font-weight:400;color:#f4f4f4;"><span style="display:inline-block;transform:scaleX(1.15);transform-origin:center;">Taxi</span></div>
<svg class=s style="left:1024.0px;top:2987.0px;" width="16" height="16" viewBox="0 0 16 16"><rect x='1' y='0.5' width='14' height='2.2' fill='#4a4a4a'/><rect x='1' y='13.3' width='14' height='2.2' fill='#4a4a4a'/><path d='M2.5 2.7 H13.5 L9.2 8 L13.5 13.3 H2.5 L6.8 8 Z' fill='none' stroke='#4a4a4a' stroke-width='1.6'/><path d='M5 12.4 L8 9.6 L11 12.4 Z' fill='#4a4a4a'/></svg>
<svg class=s style="left:1021.0px;top:3023.5px;" width="21" height="15" viewBox="0 0 21 15"><rect x='1' y='1' width='19' height='13' rx='1.6' fill='none' stroke='#4a4a4a' stroke-width='1.8'/><rect x='1' y='4' width='19' height='3' fill='#4a4a4a'/><rect x='3.5' y='10' width='3' height='1.4' fill='#4a4a4a'/><rect x='7.5' y='10' width='3' height='1.4' fill='#4a4a4a'/></svg>
<div class=t style="left:-380.0px;width:3000px;text-align:center;top:2977.9px;font-size:27px;font-weight:400;color:#111;-webkit-text-stroke:0.6px #111;"><span style="display:inline-block;transform:scaleX(1.1);transform-origin:center;">25 Min.</span></div>
<div class=t style="left:-380.0px;width:3000px;text-align:center;top:3017.1px;font-size:27px;font-weight:400;color:#111;-webkit-text-stroke:0.6px #111;"><span style="display:inline-block;transform:scaleX(1.034);transform-origin:center;">€ 16,00</span></div>
<svg class=s style="left:0.0px;top:3050.0px;" width="1250" height="580" viewBox="0 0 1250 580"><path d='M118 190 C134.4 183 159.0 182 172.12 184 C180.32 171 216.39999999999998 170 219.68 181 C232.8 176 252.48 180 249.20000000000002 186 C265.6 185 282 188 282 190 Z' fill='#f0f7fc'/><path d='M91 278 C100.1 271 113.75 270 121.03 272 C125.58 259 145.6 258 147.42000000000002 269 C154.7 264 165.62 268 163.8 274 C172.9 273 182 276 182 278 Z' fill='#f0f7fc'/><path d='M697 179 C706.3 172 720.25 171 727.69 173 C732.34 160 752.8 159 754.66 170 C762.1 165 773.26 169 771.4 175 C780.7 174 790 177 790 179 Z' fill='#f0f7fc'/><path d='M993 258 C1000.2 251 1011.0 250 1016.76 252 C1020.36 239 1036.2 238 1037.64 249 C1043.4 244 1052.04 248 1050.6 254 C1057.8 253 1065 256 1065 258 Z' fill='#f0f7fc'/><path d='M1017 289 C1022.8 282 1031.5 281 1036.14 283 C1039.04 270 1051.8 269 1052.96 280 C1057.6 275 1064.56 279 1063.4 285 C1069.2 284 1075 287 1075 289 Z' fill='#f0f7fc'/><path d='M557 303 C568.3 296 585.25 295 594.29 297 C599.94 284 624.8 283 627.06 294 C636.1 289 649.66 293 647.4 299 C658.7 298 670 301 670 303 Z' fill='#f0f7fc'/><path d='M625 304 C633.0 297 645.0 296 651.4 298 C655.4 285 673.0 284 674.6 295 C681.0 290 690.6 294 689.0 300 C697.0 299 705 302 705 304 Z' fill='#f0f7fc'/><rect x='8.6' y='347.5' width='57.9' height='126.5' fill='#239dd9'/><rect x='0' y='451' width='80.0' height='23' fill='#239dd9'/><rect x='66.5' y='430' width='13.5' height='44' fill='#239dd9'/><rect x='182' y='369' width='84.0' height='105' fill='#239dd9'/><rect x='268' y='329' width='59.0' height='145' fill='#239dd9'/><rect x='281' y='310' width='35.0' height='20' fill='#239dd9'/><rect x='334' y='366' width='62.6' height='108' fill='#239dd9'/><rect x='491' y='374' width='84.5' height='100' fill='#239dd9'/><rect x='589.5' y='349.6' width='64.5' height='124.39999999999998' fill='#239dd9'/><rect x='654' y='433' width='46.0' height='41' fill='#239dd9'/><rect x='764' y='372.5' width='83.0' height='101.5' fill='#239dd9'/><rect x='850' y='332' width='62.0' height='142' fill='#239dd9'/><rect x='862' y='313' width='41.0' height='20' fill='#239dd9'/><rect x='918' y='371' width='59.0' height='103' fill='#239dd9'/><rect x='1022' y='438' width='53.0' height='36' fill='#239dd9'/><rect x='1073' y='377' width='31.0' height='97' fill='#239dd9'/><rect x='1165' y='461' width='35.0' height='13' fill='#239dd9'/><ellipse cx='365.3' cy='366' rx='31.3' ry='5' fill='#239dd9'/><ellipse cx='947.5' cy='371' rx='29.5' ry='5' fill='#239dd9'/><ellipse cx='1048.5' cy='438' rx='26.5' ry='5' fill='#239dd9'/><rect x='0' y='473.3' width='1250' height='1110' fill='#e6e6e6'/><rect x='1103.6' y='286' width='62.2' height='206' fill='#eeeff0'/><rect x='1134.7' y='286' width='31.1' height='206' fill='#d5d8da'/><rect x='1103.6' y='308' width='62.2' height='19.6' fill='#2a95d3'/><rect x='1134.7' y='308' width='31.1' height='19.6' fill='#1f7fb8'/><rect x='1089' y='280' width='83' height='4' fill='#555'/><circle cx='1091' cy='282' r='3.5' fill='#2a95d3'/><circle cx='1170' cy='282' r='3.5' fill='#2a95d3'/><rect x='1112' y='284' width='45' height='4' fill='#cfd2d4'/><polygon points='1085,239 1185,239 1178,266 1092,266' fill='#e9ebec'/><rect x='1085' y='248' width='100' height='8' fill='#d0d3d5'/><rect x='1079' y='211.5' width='112' height='27.5' fill='#e4e6e7'/><rect x='1083' y='216' width='102' height='21.7' fill='#5ab8e8'/><rect x='1079' y='200' width='112' height='7' fill='#9a9a9a'/><rect x='1079' y='207' width='112' height='4.5' fill='#5ab8e8'/><rect x='1079' y='191' width='112' height='9' fill='none' stroke='#444' stroke-width='1.5'/><rect x='1089' y='169.3' width='91.7' height='21.7' fill='#e4e6e7'/><rect x='1093.5' y='175' width='83' height='14.7' fill='#5ab8e8'/><rect x='1081.8' y='160.6' width='105.6' height='8.7' fill='#6b6b6b'/><rect x='1101.7' y='175' width='2' height='14.7' fill='#e4e6e7'/><rect x='1093.8' y='216' width='2' height='21.7' fill='#e4e6e7'/><rect x='1112.1' y='175' width='2' height='14.7' fill='#e4e6e7'/><rect x='1106.6' y='216' width='2' height='21.7' fill='#e4e6e7'/><rect x='1122.5' y='175' width='2' height='14.7' fill='#e4e6e7'/><rect x='1119.4' y='216' width='2' height='21.7' fill='#e4e6e7'/><rect x='1132.9' y='175' width='2' height='14.7' fill='#e4e6e7'/><rect x='1132.2' y='216' width='2' height='21.7' fill='#e4e6e7'/><rect x='1143.3' y='175' width='2' height='14.7' fill='#e4e6e7'/><rect x='1145.0' y='216' width='2' height='21.7' fill='#e4e6e7'/><rect x='1153.7' y='175' width='2' height='14.7' fill='#e4e6e7'/><rect x='1157.8' y='216' width='2' height='21.7' fill='#e4e6e7'/><rect x='1164.1' y='175' width='2' height='14.7' fill='#e4e6e7'/><rect x='1170.6' y='216' width='2' height='21.7' fill='#e4e6e7'/><rect x='1174.5' y='175' width='2' height='14.7' fill='#e4e6e7'/><rect x='1183.4' y='216' width='2' height='21.7' fill='#e4e6e7'/><rect x='1081.0' y='191' width='1.2' height='9' fill='#444'/><rect x='1086.0' y='191' width='1.2' height='9' fill='#444'/><rect x='1091.0' y='191' width='1.2' height='9' fill='#444'/><rect x='1096.0' y='191' width='1.2' height='9' fill='#444'/><rect x='1101.0' y='191' width='1.2' height='9' fill='#444'/><rect x='1106.0' y='191' width='1.2' height='9' fill='#444'/><rect x='1111.0' y='191' width='1.2' height='9' fill='#444'/><rect x='1116.0' y='191' width='1.2' height='9' fill='#444'/><rect x='1121.0' y='191' width='1.2' height='9' fill='#444'/><rect x='1126.0' y='191' width='1.2' height='9' fill='#444'/><rect x='1131.0' y='191' width='1.2' height='9' fill='#444'/><rect x='1136.0' y='191' width='1.2' height='9' fill='#444'/><rect x='1141.0' y='191' width='1.2' height='9' fill='#444'/><rect x='1146.0' y='191' width='1.2' height='9' fill='#444'/><rect x='1151.0' y='191' width='1.2' height='9' fill='#444'/><rect x='1156.0' y='191' width='1.2' height='9' fill='#444'/><rect x='1161.0' y='191' width='1.2' height='9' fill='#444'/><rect x='1166.0' y='191' width='1.2' height='9' fill='#444'/><rect x='1171.0' y='191' width='1.2' height='9' fill='#444'/><rect x='1176.0' y='191' width='1.2' height='9' fill='#444'/><rect x='1181.0' y='191' width='1.2' height='9' fill='#444'/><rect x='1186.0' y='191' width='1.2' height='9' fill='#444'/><circle cx='1105' cy='143' r='10' fill='#9a9a9a'/><circle cx='1105' cy='143' r='7' fill='#888'/><rect x='1095' y='152' width='20' height='9' fill='#c9c9c9'/><path d='M1122 160.6 L1126 110 L1142 110 L1146 160.6 M1124 135 L1144 135 M1123 148 L1145 148 M1126 110 L1145 160 M1142 110 L1123 160' fill='none' stroke='#333' stroke-width='2'/><rect x='1119.6' y='115' width='29' height='5' fill='none' stroke='#333' stroke-width='1.8'/><path d='M1134 62 L1134 112 M1126 110 L1134 98 L1142 110' fill='none' stroke='#333' stroke-width='2'/><rect x='1199' y='380' width='51' height='110' fill='#eef0f1'/><rect x='1199' y='380' width='51' height='7' fill='#555'/><rect x='1204' y='394.5' width='46' height='17.5' fill='#5ab8e8'/><rect x='1204' y='428' width='46' height='16' fill='#2a95d3'/><rect x='1204' y='452' width='46' height='9.6' fill='#2a95d3'/><rect x='1204' y='476' width='46' height='9.5' fill='#2a95d3'/><rect x='1180' y='466' width='70' height='4' fill='#cfd2d4'/><path d='M697.5 494 C760 470 860 453 940 453 C1040 453 1120 480 1250 507 L1250 580 L697.5 580 Z' fill='#f1f2f2'/><path d='M697.5 494 C760 470 860 453 940 453 C980 453 1000 455 1020 458 C950 462 820 478 697.5 500 Z' fill='#e4e6e6'/><defs><clipPath id='glass'><path d='M697.5 505 C780 515 838 545 846 580 L697.5 580 Z M876 580 C886 543 932 516 996 516 C1060 516 1106 543 1116.5 580 Z M1155.7 580 C1170 560 1205 545 1250 543 L1250 580 Z'/></clipPath></defs><path d='M697.5 494 C790 505 850 535 860 580 L697.5 580 Z' fill='#d7e3da'/><path d='M864 580 C874 535 925 505 996 505 C1067 505 1118 535 1128 580 Z' fill='#d7e3da'/><path d='M1143 580 C1160 552 1200 533 1250 530 L1250 580 Z' fill='#d7e3da'/><path d='M697.5 505 C780 515 838 545 846 580 L697.5 580 Z' fill='#2a95d3'/><path d='M876 580 C886 543 932 516 996 516 C1060 516 1106 543 1116.5 580 Z' fill='#2a95d3'/><path d='M1155.7 580 C1170 560 1205 545 1250 543 L1250 580 Z' fill='#2a95d3'/><g clip-path='url(#glass)'><path d='M697 548 C760 560 800 575 846 580 L697 580 Z M876 566 C950 580 1050 560 1117 575 L1117 580 L876 580 Z' fill='#1f80bc' opacity='0.6'/><g stroke='#16679a' stroke-width='1.1' opacity='0.7'><path d='M712 500 L704 580'/><path d='M727 500 L719 580'/><path d='M742 500 L734 580'/><path d='M757 500 L749 580'/><path d='M772 500 L764 580'/><path d='M787 500 L779 580'/><path d='M802 500 L794 580'/><path d='M817 500 L809 580'/><path d='M832 500 L824 580'/><path d='M847 500 L839 580'/><path d='M888 510 L885 580'/><path d='M904 510 L901 580'/><path d='M920 510 L917 580'/><path d='M936 510 L933 580'/><path d='M952 510 L949 580'/><path d='M968 510 L965 580'/><path d='M984 510 L981 580'/><path d='M1000 510 L997 580'/><path d='M1016 510 L1013 580'/><path d='M1032 510 L1029 580'/><path d='M1048 510 L1045 580'/><path d='M1064 510 L1061 580'/><path d='M1080 510 L1077 580'/><path d='M1096 510 L1093 580'/><path d='M1112 510 L1109 580'/><path d='M1168 540 L1166 580'/><path d='M1182 540 L1180 580'/><path d='M1196 540 L1194 580'/><path d='M1210 540 L1208 580'/><path d='M1224 540 L1222 580'/><path d='M1238 540 L1236 580'/><path d='M1252 540 L1250 580'/><path d='M697 514 L860 526'/><path d='M876 522 L1117 522'/><path d='M1150 524 L1250 518'/><path d='M697 530 L860 542'/><path d='M876 538 L1117 538'/><path d='M1150 540 L1250 534'/><path d='M697 546 L860 558'/><path d='M876 554 L1117 554'/><path d='M1150 556 L1250 550'/><path d='M697 562 L860 574'/><path d='M876 570 L1117 570'/><path d='M1150 572 L1250 566'/></g></g><rect x='697.5' y='578' width='552.5' height='3' fill='#dcdcdc'/><path d='M92.6 232 L92.6 235 C200 244 360 252 458 258 L458 243 C360 240 200 236 92.6 232 Z' fill='#e6e8e9'/><path d='M92.6 234.5 C200 244 360 252 458 258 L458 252 C360 248 200 241 92.6 234.5 Z' fill='#c9cdd0'/><path d='M884 232 L884 235 C776 244 616 252 521 258 L521 243 C616 240 776 236 884 232 Z' fill='#e6e8e9'/><path d='M884 234.5 C776 244 616 252 521 258 L521 252 C616 248 776 241 884 234.5 Z' fill='#c9cdd0'/><path d='M341 209 L341 211 C390 216 430 222 458 226 L458 218 C430 216 390 212 341 209 Z' fill='#d9dcde'/><path d='M639 209 L639 211 C590 216 550 222 521 226 L521 218 C550 216 590 212 639 209 Z' fill='#d9dcde'/><path d='M487 104 C488 102 490 102 491 104 L493 190 L485 190 Z' fill='#d2d5d7'/><rect x='439' y='268' width='2.2' height='22' fill='#8a8f93'/><rect x='469' y='268' width='2.2' height='22' fill='#8a8f93'/><rect x='488' y='268' width='2.2' height='22' fill='#8a8f93'/><rect x='507' y='268' width='2.2' height='22' fill='#8a8f93'/><rect x='535' y='268' width='2.2' height='22' fill='#8a8f93'/><path d='M440 272 L452 262 M536 272 L524 262' stroke='#8a8f93' stroke-width='2'/><rect x='432' y='287' width='7.5' height='12' rx='2' fill='#2e2e2e'/><rect x='441.5' y='287' width='7.5' height='12' rx='2' fill='#2e2e2e'/><rect x='462.5' y='287' width='6.6' height='12' rx='2' fill='#2e2e2e'/><rect x='471.1' y='287' width='6.6' height='12' rx='2' fill='#2e2e2e'/><rect x='482.8' y='287' width='5.6' height='12' rx='2' fill='#2e2e2e'/><rect x='490.4' y='287' width='5.6' height='12' rx='2' fill='#2e2e2e'/><rect x='499.6' y='287' width='7.4' height='12' rx='2' fill='#2e2e2e'/><rect x='509.1' y='287' width='7.4' height='12' rx='2' fill='#2e2e2e'/><rect x='528' y='287' width='7.5' height='12' rx='2' fill='#2e2e2e'/><rect x='537.5' y='287' width='7.5' height='12' rx='2' fill='#2e2e2e'/><path d='M489.5 187.7 C512 187.7 525 215 525 245 C525 262 515 273.6 489.5 273.6 C464 273.6 453.5 262 453.5 245 C453.5 215 467 187.7 489.5 187.7 Z' fill='#f1f2f3'/><path d='M455 240 C470 228 510 228 524 240 C525 262 515 273.6 489.5 273.6 C464 273.6 453.5 262 455 240 Z' fill='#e0e2e4'/><path d='M467.6 212 L480 211 L479 220 L468.6 220 Z M482 211 L497 211 L497 219.5 L482 219.5 Z M499 211 L511.4 212 L510.4 220 L500 220 Z' fill='#2e2e2e'/><rect x='250.4' y='247.60000000000002' width='6' height='8' fill='#c9cdd0'/><circle cx='253.4' cy='269.6' r='17' fill='#a5a9ac'/><circle cx='253.4' cy='269.6' r='14' fill='#6e7275'/><circle cx='253.4' cy='269.6' r='14' fill='none' stroke='#8a8e91' stroke-width='6' stroke-dasharray='1.5 1.5'/><circle cx='253.4' cy='269.6' r='4' fill='#3d4042'/><rect x='356' y='252.7' width='6' height='8' fill='#c9cdd0'/><circle cx='359' cy='274.7' r='17' fill='#a5a9ac'/><circle cx='359' cy='274.7' r='14' fill='#6e7275'/><circle cx='359' cy='274.7' r='14' fill='none' stroke='#8a8e91' stroke-width='6' stroke-dasharray='1.5 1.5'/><circle cx='359' cy='274.7' r='4' fill='#3d4042'/><rect x='614.7' y='252.7' width='6' height='8' fill='#c9cdd0'/><circle cx='617.7' cy='274.7' r='17' fill='#a5a9ac'/><circle cx='617.7' cy='274.7' r='14' fill='#6e7275'/><circle cx='617.7' cy='274.7' r='14' fill='none' stroke='#8a8e91' stroke-width='6' stroke-dasharray='1.5 1.5'/><circle cx='617.7' cy='274.7' r='4' fill='#3d4042'/><rect x='720' y='247.60000000000002' width='6' height='8' fill='#c9cdd0'/><circle cx='723' cy='269.6' r='17' fill='#a5a9ac'/><circle cx='723' cy='269.6' r='14' fill='#6e7275'/><circle cx='723' cy='269.6' r='14' fill='none' stroke='#8a8e91' stroke-width='6' stroke-dasharray='1.5 1.5'/><circle cx='723' cy='269.6' r='4' fill='#3d4042'/><rect x='186' y='486' width='32' height='61.7' fill='#333'/><rect x='526' y='486' width='32' height='61.7' fill='#333'/><rect x='186' y='486' width='3' height='61.7' fill='#555'/><rect x='526' y='486' width='3' height='61.7' fill='#555'/><rect x='78' y='403.8' width='588' height='82.7' fill='#555'/><rect x='81' y='403.8' width='585' height='79.7' fill='#333'/></svg>
<div class=t style="left:-1126.8px;width:3000px;text-align:center;top:3474.4px;font-size:44px;font-weight:700;color:#fff;-webkit-text-stroke:1px #fff;"><span style="display:inline-block;transform:scaleX(0.805);transform-origin:center;">Flughäfen in Österreich</span></div>
<div class=r style="left:34.0px;top:3675.5px;width:377.0px;height:415.0px;background:#c4c4c4;border-radius:0 0 22px 22px;box-shadow:0 3px 4px rgba(0,0,0,0.12);"></div>
<div class=r style="left:35.0px;top:3675.5px;width:375.0px;height:86.5px;background:#333333;"></div>
<svg class=s style="left:45.0px;top:3687.5px;" width="60" height="60" viewBox="0 0 60 60"><g transform='translate(29.5 29.5) rotate(45) scale(0.95)'><path d='M0,-23 C3,-23 4.5,-20 4.5,-17 L4.5,-8.5 L24,6.4 L4.5,2 L4.5,14 L10.5,20.5 L10.5,23 L0,20 L-10.5,23 L-10.5,20.5 L-4.5,14 L-4.5,2 L-24,6.4 L-4.5,-8.5 L-4.5,-17 C-4.5,-20 -3,-23 0,-23 Z' fill='#fff'/></g></svg>
<div class=t style="left:117.0px;top:3712.7px;font-size:39px;font-weight:700;color:#fff;-webkit-text-stroke:0.8px #fff;"><span style="display:inline-block;transform:scaleX(0.85);transform-origin:left;">Wien</span></div>
<div class=r style="left:35.0px;top:3762.0px;width:375.0px;height:189.0px;background:#ffffff;"></div>
<svg class=s style="left:60.0px;top:3780.0px;" width="84" height="130" viewBox="0 0 84 130"><rect x='49' y='14' width='7' height='4' rx='2' fill='#d0d0d0'/><rect x='38.5' y='18' width='28' height='2.6' fill='#1e1e1e'/><polygon points='41,20.6 64,20.6 62.5,31 42.5,31' fill='#dcdcdc'/><rect x='35' y='31' width='35' height='3' fill='#1e1e1e'/><polygon points='39,34 67,34 65,46 41,46' fill='#dcdcdc'/><rect x='43.5' y='37' width='3.2' height='3.5' fill='#b0b0b0'/><rect x='49.5' y='37' width='3.2' height='3.5' fill='#b0b0b0'/><rect x='55.5' y='37' width='3.2' height='3.5' fill='#b0b0b0'/><rect x='61' y='37' width='3.2' height='3.5' fill='#b0b0b0'/><rect x='45.6' y='46' width='7.2' height='53' fill='#d9d9d9'/><rect x='52.8' y='46' width='7.2' height='53' fill='#bdbdbd'/><rect x='0' y='99' width='83.5' height='3.4' fill='#1e1e1e'/><rect x='2.6' y='102.4' width='77.4' height='22' fill='#e2e2e2'/><rect x='21' y='104' width='43' height='20' fill='#cfcfcf'/><rect x='24' y='111.5' width='36' height='1.6' fill='#333'/><rect x='67' y='106' width='8' height='18' fill='#444'/><rect x='69' y='109' width='4' height='5' fill='#eee'/><rect x='0' y='124' width='18.5' height='5' fill='#4a4a4a'/><rect x='18.5' y='124' width='17' height='5' fill='#cfcfcf'/><rect x='35.5' y='124' width='16' height='5' fill='#4a4a4a'/><rect x='51.5' y='124' width='17' height='5' fill='#cfcfcf'/><rect x='68.5' y='124' width='15' height='5' fill='#4a4a4a'/></svg>
<svg class=s style="left:309.0px;top:3794.0px;" width="80" height="116" viewBox="0 0 80 116"><rect x='53.4' y='6' width='14.4' height='34' rx='1.5' fill='#cacaca'/><rect x='55' y='38' width='18' height='72' fill='#cdcdcd'/><polygon points='27,36.5 55,32 55,110 27,110' fill='#e9e9e9'/><rect x='27' y='40.0' width='28' height='1.4' fill='#c4c4c4'/><rect x='27' y='45.3' width='28' height='1.4' fill='#c4c4c4'/><rect x='27' y='50.6' width='28' height='1.4' fill='#c4c4c4'/><rect x='27' y='55.9' width='28' height='1.4' fill='#c4c4c4'/><rect x='27' y='61.2' width='28' height='1.4' fill='#c4c4c4'/><rect x='27' y='66.5' width='28' height='1.4' fill='#c4c4c4'/><rect x='27' y='71.8' width='28' height='1.4' fill='#c4c4c4'/><rect x='27' y='77.1' width='28' height='1.4' fill='#c4c4c4'/><rect x='27' y='82.4' width='28' height='1.4' fill='#c4c4c4'/><rect x='27' y='87.7' width='28' height='1.4' fill='#c4c4c4'/><rect x='27' y='93.0' width='28' height='1.4' fill='#c4c4c4'/><rect x='27' y='98.3' width='28' height='1.4' fill='#c4c4c4'/><rect x='27' y='103.6' width='28' height='1.4' fill='#c4c4c4'/><rect x='40.5' y='37' width='1' height='73' fill='#d0d0d0'/><rect x='8' y='0' width='15' height='36' rx='2' fill='#808080'/><rect x='2.5' y='35' width='24.5' height='75' rx='2' fill='#808080'/><circle cx='12.5' cy='6.0' r='1.6' fill='#f2f2f2'/><circle cx='18.0' cy='6.0' r='1.6' fill='#f2f2f2'/><circle cx='12.5' cy='12.3' r='1.6' fill='#f2f2f2'/><circle cx='18.0' cy='12.3' r='1.6' fill='#f2f2f2'/><circle cx='12.5' cy='18.6' r='1.6' fill='#f2f2f2'/><circle cx='18.0' cy='18.6' r='1.6' fill='#f2f2f2'/><circle cx='12.5' cy='24.9' r='1.6' fill='#f2f2f2'/><circle cx='18.0' cy='24.9' r='1.6' fill='#f2f2f2'/><circle cx='12.5' cy='31.2' r='1.6' fill='#f2f2f2'/><circle cx='18.0' cy='31.2' r='1.6' fill='#f2f2f2'/><circle cx='7.0' cy='41.0' r='1.6' fill='#f2f2f2'/><circle cx='12.6' cy='41.0' r='1.6' fill='#f2f2f2'/><circle cx='18.2' cy='41.0' r='1.6' fill='#f2f2f2'/><circle cx='23.8' cy='41.0' r='1.6' fill='#f2f2f2'/><circle cx='7.0' cy='46.6' r='1.6' fill='#f2f2f2'/><circle cx='12.6' cy='46.6' r='1.6' fill='#f2f2f2'/><circle cx='18.2' cy='46.6' r='1.6' fill='#f2f2f2'/><circle cx='23.8' cy='46.6' r='1.6' fill='#f2f2f2'/><circle cx='7.0' cy='52.2' r='1.6' fill='#f2f2f2'/><circle cx='12.6' cy='52.2' r='1.6' fill='#f2f2f2'/><circle cx='18.2' cy='52.2' r='1.6' fill='#f2f2f2'/><circle cx='23.8' cy='52.2' r='1.6' fill='#f2f2f2'/><circle cx='7.0' cy='57.8' r='1.6' fill='#f2f2f2'/><circle cx='12.6' cy='57.8' r='1.6' fill='#f2f2f2'/><circle cx='18.2' cy='57.8' r='1.6' fill='#f2f2f2'/><circle cx='23.8' cy='57.8' r='1.6' fill='#f2f2f2'/><circle cx='7.0' cy='63.4' r='1.6' fill='#f2f2f2'/><circle cx='12.6' cy='63.4' r='1.6' fill='#f2f2f2'/><circle cx='18.2' cy='63.4' r='1.6' fill='#f2f2f2'/><circle cx='23.8' cy='63.4' r='1.6' fill='#f2f2f2'/><circle cx='7.0' cy='69.0' r='1.6' fill='#f2f2f2'/><circle cx='12.6' cy='69.0' r='1.6' fill='#f2f2f2'/><circle cx='18.2' cy='69.0' r='1.6' fill='#f2f2f2'/><circle cx='23.8' cy='69.0' r='1.6' fill='#f2f2f2'/><circle cx='7.0' cy='74.6' r='1.6' fill='#f2f2f2'/><circle cx='12.6' cy='74.6' r='1.6' fill='#f2f2f2'/><circle cx='18.2' cy='74.6' r='1.6' fill='#f2f2f2'/><circle cx='23.8' cy='74.6' r='1.6' fill='#f2f2f2'/><circle cx='7.0' cy='80.2' r='1.6' fill='#f2f2f2'/><circle cx='12.6' cy='80.2' r='1.6' fill='#f2f2f2'/><circle cx='18.2' cy='80.2' r='1.6' fill='#f2f2f2'/><circle cx='23.8' cy='80.2' r='1.6' fill='#f2f2f2'/><circle cx='7.0' cy='85.8' r='1.6' fill='#f2f2f2'/><circle cx='12.6' cy='85.8' r='1.6' fill='#f2f2f2'/><circle cx='18.2' cy='85.8' r='1.6' fill='#f2f2f2'/><circle cx='23.8' cy='85.8' r='1.6' fill='#f2f2f2'/><circle cx='7.0' cy='91.4' r='1.6' fill='#f2f2f2'/><circle cx='12.6' cy='91.4' r='1.6' fill='#f2f2f2'/><circle cx='18.2' cy='91.4' r='1.6' fill='#f2f2f2'/><circle cx='23.8' cy='91.4' r='1.6' fill='#f2f2f2'/><circle cx='7.0' cy='97.0' r='1.6' fill='#f2f2f2'/><circle cx='12.6' cy='97.0' r='1.6' fill='#f2f2f2'/><circle cx='18.2' cy='97.0' r='1.6' fill='#f2f2f2'/><circle cx='23.8' cy='97.0' r='1.6' fill='#f2f2f2'/><circle cx='7.0' cy='102.6' r='1.6' fill='#f2f2f2'/><circle cx='12.6' cy='102.6' r='1.6' fill='#f2f2f2'/><circle cx='18.2' cy='102.6' r='1.6' fill='#f2f2f2'/><circle cx='23.8' cy='102.6' r='1.6' fill='#f2f2f2'/><circle cx='58.5' cy='44.0' r='1.4' fill='#eaeaea'/><circle cx='63.5' cy='44.0' r='1.4' fill='#eaeaea'/><circle cx='68.5' cy='44.0' r='1.4' fill='#eaeaea'/><circle cx='58.5' cy='49.6' r='1.4' fill='#eaeaea'/><circle cx='63.5' cy='49.6' r='1.4' fill='#eaeaea'/><circle cx='68.5' cy='49.6' r='1.4' fill='#eaeaea'/><circle cx='58.5' cy='55.2' r='1.4' fill='#eaeaea'/><circle cx='63.5' cy='55.2' r='1.4' fill='#eaeaea'/><circle cx='68.5' cy='55.2' r='1.4' fill='#eaeaea'/><circle cx='58.5' cy='60.8' r='1.4' fill='#eaeaea'/><circle cx='63.5' cy='60.8' r='1.4' fill='#eaeaea'/><circle cx='68.5' cy='60.8' r='1.4' fill='#eaeaea'/><circle cx='58.5' cy='66.4' r='1.4' fill='#eaeaea'/><circle cx='63.5' cy='66.4' r='1.4' fill='#eaeaea'/><circle cx='68.5' cy='66.4' r='1.4' fill='#eaeaea'/><circle cx='58.5' cy='72.0' r='1.4' fill='#eaeaea'/><circle cx='63.5' cy='72.0' r='1.4' fill='#eaeaea'/><circle cx='68.5' cy='72.0' r='1.4' fill='#eaeaea'/><circle cx='58.5' cy='77.6' r='1.4' fill='#eaeaea'/><circle cx='63.5' cy='77.6' r='1.4' fill='#eaeaea'/><circle cx='68.5' cy='77.6' r='1.4' fill='#eaeaea'/><circle cx='58.5' cy='83.2' r='1.4' fill='#eaeaea'/><circle cx='63.5' cy='83.2' r='1.4' fill='#eaeaea'/><circle cx='68.5' cy='83.2' r='1.4' fill='#eaeaea'/><circle cx='58.5' cy='88.8' r='1.4' fill='#eaeaea'/><circle cx='63.5' cy='88.8' r='1.4' fill='#eaeaea'/><circle cx='68.5' cy='88.8' r='1.4' fill='#eaeaea'/><circle cx='58.5' cy='94.4' r='1.4' fill='#eaeaea'/><circle cx='63.5' cy='94.4' r='1.4' fill='#eaeaea'/><circle cx='68.5' cy='94.4' r='1.4' fill='#eaeaea'/><circle cx='58.5' cy='100.0' r='1.4' fill='#eaeaea'/><circle cx='63.5' cy='100.0' r='1.4' fill='#eaeaea'/><circle cx='68.5' cy='100.0' r='1.4' fill='#eaeaea'/><circle cx='58.5' cy='105.6' r='1.4' fill='#eaeaea'/><circle cx='63.5' cy='105.6' r='1.4' fill='#eaeaea'/><circle cx='68.5' cy='105.6' r='1.4' fill='#eaeaea'/><circle cx='57.5' cy='11.0' r='1.4' fill='#eaeaea'/><circle cx='62.5' cy='11.0' r='1.4' fill='#eaeaea'/><circle cx='57.5' cy='16.6' r='1.4' fill='#eaeaea'/><circle cx='62.5' cy='16.6' r='1.4' fill='#eaeaea'/><circle cx='57.5' cy='22.2' r='1.4' fill='#eaeaea'/><circle cx='62.5' cy='22.2' r='1.4' fill='#eaeaea'/><circle cx='57.5' cy='27.8' r='1.4' fill='#eaeaea'/><circle cx='62.5' cy='27.8' r='1.4' fill='#eaeaea'/><circle cx='57.5' cy='33.4' r='1.4' fill='#eaeaea'/><circle cx='62.5' cy='33.4' r='1.4' fill='#eaeaea'/><rect x='75' y='99' width='2' height='11' fill='#777'/><rect x='0' y='110' width='18' height='5' fill='#4a4a4a'/><rect x='18' y='110' width='16' height='5' fill='#cfcfcf'/><rect x='34' y='110' width='16' height='5' fill='#4a4a4a'/><rect x='50' y='110' width='16' height='5' fill='#cfcfcf'/><rect x='66' y='110' width='13' height='5' fill='#4a4a4a'/></svg>
<div class=t style="left:-1277.5px;width:3000px;text-align:center;top:3829.2px;font-size:17.2px;font-weight:400;color:#111;"><span style="display:inline-block;transform:scaleX(1.19);transform-origin:center;">Entfernung zum</span></div>
<div class=t style="left:-1277.5px;width:3000px;text-align:center;top:3849.4px;font-size:17.2px;font-weight:400;color:#111;"><span style="display:inline-block;transform:scaleX(1.187);transform-origin:center;">Stadtzentrum</span></div>
<div class=t style="left:-1277.5px;width:3000px;text-align:center;top:3889.6px;font-size:27px;font-weight:400;color:#111;-webkit-text-stroke:0.6px #111;"><span style="display:inline-block;transform:scaleX(1.02);transform-origin:center;">20 km</span></div>
<svg class=s style="left:151.0px;top:3897.5px;" width="26" height="12" viewBox="0 0 26 12"><path d='M1 6 H25' stroke='#111' stroke-width='2'/><path d='M0 6 L8 1.5 L8 10.5 Z' fill='#111'/></svg>
<svg class=s style="left:267.0px;top:3897.5px;" width="26" height="12" viewBox="0 0 26 12"><path d='M0 6 H24' stroke='#111' stroke-width='2'/><path d='M26 6 L18 1.5 L18 10.5 Z' fill='#111'/></svg>
<div class=r style="left:35.0px;top:3951.0px;width:375.0px;height:2.5px;background:#222;"></div>
<div class=r style="left:35.0px;top:3953.5px;width:185.0px;height:56.5px;background:#77c2ea;"></div>
<div class=r style="left:35.0px;top:4010.0px;width:185.0px;height:37.0px;background:#e9e9e9;"></div>
<div class=r style="left:35.0px;top:4047.0px;width:185.0px;height:38.5px;background:#d0d0d0;"></div>
<svg class=s style="left:36.5px;top:3953.5px;" width="47" height="64" viewBox="0 0 47 64"><polygon points='0,0 47,0 47,57 23.5,63.5 0,57' fill='#2499d9'/><rect x='9.6' y='11.2' width='29.9' height='33' rx='5.5' fill='#fff'/><rect x='19.5' y='13.6' width='10' height='2.2' rx='1' fill='#2499d9'/><rect x='12' y='18.5' width='24.7' height='14.8' rx='1' fill='#2499d9'/><circle cx='14.6' cy='38.6' r='2.1' fill='#2499d9'/><circle cx='34.5' cy='38.6' r='2.1' fill='#2499d9'/><rect x='9.6' y='42' width='9' height='6.5' rx='2.2' fill='#fff'/><rect x='30.5' y='42' width='9' height='6.5' rx='2.2' fill='#fff'/><rect x='4.1' y='20.5' width='3.2' height='8' rx='1.4' fill='#fff'/><rect x='41.8' y='20.5' width='3.2' height='8' rx='1.4' fill='#fff'/></svg>
<div class=t style="left:-1350.0px;width:3000px;text-align:center;top:3962.8px;font-size:18px;font-weight:400;color:#fff;"><span style="display:inline-block;transform:scaleX(1.16);transform-origin:center;">Öffentliche</span></div>
<div class=t style="left:-1350.0px;width:3000px;text-align:center;top:3982.8px;font-size:18px;font-weight:400;color:#fff;"><span style="display:inline-block;transform:scaleX(1.125);transform-origin:center;">Verkehrsmittel</span></div>
<svg class=s style="left:52.5px;top:4021.5px;" width="16" height="16" viewBox="0 0 16 16"><rect x='1' y='0.5' width='14' height='2.2' fill='#4a4a4a'/><rect x='1' y='13.3' width='14' height='2.2' fill='#4a4a4a'/><path d='M2.5 2.7 H13.5 L9.2 8 L13.5 13.3 H2.5 L6.8 8 Z' fill='none' stroke='#4a4a4a' stroke-width='1.6'/><path d='M5 12.4 L8 9.6 L11 12.4 Z' fill='#4a4a4a'/></svg>
<svg class=s style="left:49.5px;top:4059.0px;" width="21" height="15" viewBox="0 0 21 15"><rect x='1' y='1' width='19' height='13' rx='1.6' fill='none' stroke='#4a4a4a' stroke-width='1.8'/><rect x='1' y='4' width='19' height='3' fill='#4a4a4a'/><rect x='3.5' y='10' width='3' height='1.4' fill='#4a4a4a'/><rect x='7.5' y='10' width='3' height='1.4' fill='#4a4a4a'/></svg>
<div class=t style="left:-1352.0px;width:3000px;text-align:center;top:4013.8px;font-size:28px;font-weight:400;color:#111;-webkit-text-stroke:0.6px #111;"><span style="display:inline-block;transform:scaleX(1.074);transform-origin:center;">16 Min.</span></div>
<div class=t style="left:-1352.0px;width:3000px;text-align:center;top:4048.8px;font-size:28px;font-weight:400;color:#111;-webkit-text-stroke:0.6px #111;"><span style="display:inline-block;transform:scaleX(1.031);transform-origin:center;">€ 11,00</span></div>
<div class=r style="left:224.5px;top:3953.5px;width:185.5px;height:56.5px;background:#77c2ea;"></div>
<div class=r style="left:224.5px;top:4010.0px;width:185.5px;height:37.0px;background:#e9e9e9;"></div>
<div class=r style="left:224.5px;top:4047.0px;width:185.5px;height:38.5px;background:#d0d0d0;"></div>
<svg class=s style="left:226.0px;top:3953.5px;" width="47" height="64" viewBox="0 0 47 64"><polygon points='0,0 47,0 47,57 23.5,63.5 0,57' fill='#2499d9'/><g transform='translate(0 3.5)'><rect x='16' y='9.5' width='15' height='6' rx='1' fill='#fff'/><text x='23.5' y='14.6' font-size='4.8' font-weight='700' text-anchor='middle' fill='#2499d9' font-family="Liberation Sans">TAXI</text><path d='M11 16 H36 L40.5 27 H6.5 Z' fill='#fff'/><path d='M14 19 H33 L35.6 26 H11.4 Z' fill='#2499d9'/><rect x='4.5' y='26' width='38' height='15' rx='4' fill='#fff'/><rect x='7.5' y='39' width='8' height='7' rx='2' fill='#fff'/><rect x='31.5' y='39' width='8' height='7' rx='2' fill='#fff'/><rect x='8.5' y='30' width='6.5' height='4' rx='2' fill='#2499d9'/><rect x='32' y='30' width='6.5' height='4' rx='2' fill='#2499d9'/><rect x='3' y='25' width='4' height='3' rx='1' fill='#fff'/><rect x='40' y='25' width='4' height='3' rx='1' fill='#fff'/></g></svg>
<div class=t style="left:-1155.0px;width:3000px;text-align:center;top:3982.8px;font-size:18px;font-weight:400;color:#fff;"><span style="display:inline-block;transform:scaleX(1.125);transform-origin:center;">Taxi</span></div>
<svg class=s style="left:242.0px;top:4021.5px;" width="16" height="16" viewBox="0 0 16 16"><rect x='1' y='0.5' width='14' height='2.2' fill='#4a4a4a'/><rect x='1' y='13.3' width='14' height='2.2' fill='#4a4a4a'/><path d='M2.5 2.7 H13.5 L9.2 8 L13.5 13.3 H2.5 L6.8 8 Z' fill='none' stroke='#4a4a4a' stroke-width='1.6'/><path d='M5 12.4 L8 9.6 L11 12.4 Z' fill='#4a4a4a'/></svg>
<svg class=s style="left:239.0px;top:4059.0px;" width="21" height="15" viewBox="0 0 21 15"><rect x='1' y='1' width='19' height='13' rx='1.6' fill='none' stroke='#4a4a4a' stroke-width='1.8'/><rect x='1' y='4' width='19' height='3' fill='#4a4a4a'/><rect x='3.5' y='10' width='3' height='1.4' fill='#4a4a4a'/><rect x='7.5' y='10' width='3' height='1.4' fill='#4a4a4a'/></svg>
<div class=t style="left:-1157.0px;width:3000px;text-align:center;top:4013.8px;font-size:28px;font-weight:400;color:#111;-webkit-text-stroke:0.6px #111;"><span style="display:inline-block;transform:scaleX(1.074);transform-origin:center;">20 Min.</span></div>
<div class=t style="left:-1157.0px;width:3000px;text-align:center;top:4048.8px;font-size:28px;font-weight:400;color:#111;-webkit-text-stroke:0.6px #111;"><span style="display:inline-block;transform:scaleX(1.031);transform-origin:center;">€ 36,00</span></div>
<div class=r style="left:220.0px;top:3953.5px;width:4.5px;height:132.0px;background:#ffffff;"></div>
<div class=r style="left:436.5px;top:3675.5px;width:377.0px;height:415.0px;background:#c4c4c4;border-radius:0 0 22px 22px;box-shadow:0 3px 4px rgba(0,0,0,0.12);"></div>
<div class=r style="left:437.5px;top:3675.5px;width:375.0px;height:86.5px;background:#333333;"></div>
<svg class=s style="left:447.5px;top:3687.5px;" width="60" height="60" viewBox="0 0 60 60"><g transform='translate(29.5 29.5) rotate(45) scale(0.95)'><path d='M0,-23 C3,-23 4.5,-20 4.5,-17 L4.5,-8.5 L24,6.4 L4.5,2 L4.5,14 L10.5,20.5 L10.5,23 L0,20 L-10.5,23 L-10.5,20.5 L-4.5,14 L-4.5,2 L-24,6.4 L-4.5,-8.5 L-4.5,-17 C-4.5,-20 -3,-23 0,-23 Z' fill='#fff'/></g></svg>
<div class=t style="left:519.5px;top:3712.7px;font-size:39px;font-weight:700;color:#fff;-webkit-text-stroke:0.8px #fff;"><span style="display:inline-block;transform:scaleX(0.85);transform-origin:left;">Salzburg</span></div>
<div class=r style="left:437.5px;top:3762.0px;width:375.0px;height:189.0px;background:#ffffff;"></div>
<svg class=s style="left:462.5px;top:3780.0px;" width="84" height="130" viewBox="0 0 84 130"><rect x='49' y='14' width='7' height='4' rx='2' fill='#d0d0d0'/><rect x='38.5' y='18' width='28' height='2.6' fill='#1e1e1e'/><polygon points='41,20.6 64,20.6 62.5,31 42.5,31' fill='#dcdcdc'/><rect x='35' y='31' width='35' height='3' fill='#1e1e1e'/><polygon points='39,34 67,34 65,46 41,46' fill='#dcdcdc'/><rect x='43.5' y='37' width='3.2' height='3.5' fill='#b0b0b0'/><rect x='49.5' y='37' width='3.2' height='3.5' fill='#b0b0b0'/><rect x='55.5' y='37' width='3.2' height='3.5' fill='#b0b0b0'/><rect x='61' y='37' width='3.2' height='3.5' fill='#b0b0b0'/><rect x='45.6' y='46' width='7.2' height='53' fill='#d9d9d9'/><rect x='52.8' y='46' width='7.2' height='53' fill='#bdbdbd'/><rect x='0' y='99' width='83.5' height='3.4' fill='#1e1e1e'/><rect x='2.6' y='102.4' width='77.4' height='22' fill='#e2e2e2'/><rect x='21' y='104' width='43' height='20' fill='#cfcfcf'/><rect x='24' y='111.5' width='36' height='1.6' fill='#333'/><rect x='67' y='106' width='8' height='18' fill='#444'/><rect x='69' y='109' width='4' height='5' fill='#eee'/><rect x='0' y='124' width='18.5' height='5' fill='#4a4a4a'/><rect x='18.5' y='124' width='17' height='5' fill='#cfcfcf'/><rect x='35.5' y='124' width='16' height='5' fill='#4a4a4a'/><rect x='51.5' y='124' width='17' height='5' fill='#cfcfcf'/><rect x='68.5' y='124' width='15' height='5' fill='#4a4a4a'/></svg>
<svg class=s style="left:711.5px;top:3794.0px;" width="80" height="116" viewBox="0 0 80 116"><rect x='53.4' y='6' width='14.4' height='34' rx='1.5' fill='#cacaca'/><rect x='55' y='38' width='18' height='72' fill='#cdcdcd'/><polygon points='27,36.5 55,32 55,110 27,110' fill='#e9e9e9'/><rect x='27' y='40.0' width='28' height='1.4' fill='#c4c4c4'/><rect x='27' y='45.3' width='28' height='1.4' fill='#c4c4c4'/><rect x='27' y='50.6' width='28' height='1.4' fill='#c4c4c4'/><rect x='27' y='55.9' width='28' height='1.4' fill='#c4c4c4'/><rect x='27' y='61.2' width='28' height='1.4' fill='#c4c4c4'/><rect x='27' y='66.5' width='28' height='1.4' fill='#c4c4c4'/><rect x='27' y='71.8' width='28' height='1.4' fill='#c4c4c4'/><rect x='27' y='77.1' width='28' height='1.4' fill='#c4c4c4'/><rect x='27' y='82.4' width='28' height='1.4' fill='#c4c4c4'/><rect x='27' y='87.7' width='28' height='1.4' fill='#c4c4c4'/><rect x='27' y='93.0' width='28' height='1.4' fill='#c4c4c4'/><rect x='27' y='98.3' width='28' height='1.4' fill='#c4c4c4'/><rect x='27' y='103.6' width='28' height='1.4' fill='#c4c4c4'/><rect x='40.5' y='37' width='1' height='73' fill='#d0d0d0'/><rect x='8' y='0' width='15' height='36' rx='2' fill='#808080'/><rect x='2.5' y='35' width='24.5' height='75' rx='2' fill='#808080'/><circle cx='12.5' cy='6.0' r='1.6' fill='#f2f2f2'/><circle cx='18.0' cy='6.0' r='1.6' fill='#f2f2f2'/><circle cx='12.5' cy='12.3' r='1.6' fill='#f2f2f2'/><circle cx='18.0' cy='12.3' r='1.6' fill='#f2f2f2'/><circle cx='12.5' cy='18.6' r='1.6' fill='#f2f2f2'/><circle cx='18.0' cy='18.6' r='1.6' fill='#f2f2f2'/><circle cx='12.5' cy='24.9' r='1.6' fill='#f2f2f2'/><circle cx='18.0' cy='24.9' r='1.6' fill='#f2f2f2'/><circle cx='12.5' cy='31.2' r='1.6' fill='#f2f2f2'/><circle cx='18.0' cy='31.2' r='1.6' fill='#f2f2f2'/><circle cx='7.0' cy='41.0' r='1.6' fill='#f2f2f2'/><circle cx='12.6' cy='41.0' r='1.6' fill='#f2f2f2'/><circle cx='18.2' cy='41.0' r='1.6' fill='#f2f2f2'/><circle cx='23.8' cy='41.0' r='1.6' fill='#f2f2f2'/><circle cx='7.0' cy='46.6' r='1.6' fill='#f2f2f2'/><circle cx='12.6' cy='46.6' r='1.6' fill='#f2f2f2'/><circle cx='18.2' cy='46.6' r='1.6' fill='#f2f2f2'/><circle cx='23.8' cy='46.6' r='1.6' fill='#f2f2f2'/><circle cx='7.0' cy='52.2' r='1.6' fill='#f2f2f2'/><circle cx='12.6' cy='52.2' r='1.6' fill='#f2f2f2'/><circle cx='18.2' cy='52.2' r='1.6' fill='#f2f2f2'/><circle cx='23.8' cy='52.2' r='1.6' fill='#f2f2f2'/><circle cx='7.0' cy='57.8' r='1.6' fill='#f2f2f2'/><circle cx='12.6' cy='57.8' r='1.6' fill='#f2f2f2'/><circle cx='18.2' cy='57.8' r='1.6' fill='#f2f2f2'/><circle cx='23.8' cy='57.8' r='1.6' fill='#f2f2f2'/><circle cx='7.0' cy='63.4' r='1.6' fill='#f2f2f2'/><circle cx='12.6' cy='63.4' r='1.6' fill='#f2f2f2'/><circle cx='18.2' cy='63.4' r='1.6' fill='#f2f2f2'/><circle cx='23.8' cy='63.4' r='1.6' fill='#f2f2f2'/><circle cx='7.0' cy='69.0' r='1.6' fill='#f2f2f2'/><circle cx='12.6' cy='69.0' r='1.6' fill='#f2f2f2'/><circle cx='18.2' cy='69.0' r='1.6' fill='#f2f2f2'/><circle cx='23.8' cy='69.0' r='1.6' fill='#f2f2f2'/><circle cx='7.0' cy='74.6' r='1.6' fill='#f2f2f2'/><circle cx='12.6' cy='74.6' r='1.6' fill='#f2f2f2'/><circle cx='18.2' cy='74.6' r='1.6' fill='#f2f2f2'/><circle cx='23.8' cy='74.6' r='1.6' fill='#f2f2f2'/><circle cx='7.0' cy='80.2' r='1.6' fill='#f2f2f2'/><circle cx='12.6' cy='80.2' r='1.6' fill='#f2f2f2'/><circle cx='18.2' cy='80.2' r='1.6' fill='#f2f2f2'/><circle cx='23.8' cy='80.2' r='1.6' fill='#f2f2f2'/><circle cx='7.0' cy='85.8' r='1.6' fill='#f2f2f2'/><circle cx='12.6' cy='85.8' r='1.6' fill='#f2f2f2'/><circle cx='18.2' cy='85.8' r='1.6' fill='#f2f2f2'/><circle cx='23.8' cy='85.8' r='1.6' fill='#f2f2f2'/><circle cx='7.0' cy='91.4' r='1.6' fill='#f2f2f2'/><circle cx='12.6' cy='91.4' r='1.6' fill='#f2f2f2'/><circle cx='18.2' cy='91.4' r='1.6' fill='#f2f2f2'/><circle cx='23.8' cy='91.4' r='1.6' fill='#f2f2f2'/><circle cx='7.0' cy='97.0' r='1.6' fill='#f2f2f2'/><circle cx='12.6' cy='97.0' r='1.6' fill='#f2f2f2'/><circle cx='18.2' cy='97.0' r='1.6' fill='#f2f2f2'/><circle cx='23.8' cy='97.0' r='1.6' fill='#f2f2f2'/><circle cx='7.0' cy='102.6' r='1.6' fill='#f2f2f2'/><circle cx='12.6' cy='102.6' r='1.6' fill='#f2f2f2'/><circle cx='18.2' cy='102.6' r='1.6' fill='#f2f2f2'/><circle cx='23.8' cy='102.6' r='1.6' fill='#f2f2f2'/><circle cx='58.5' cy='44.0' r='1.4' fill='#eaeaea'/><circle cx='63.5' cy='44.0' r='1.4' fill='#eaeaea'/><circle cx='68.5' cy='44.0' r='1.4' fill='#eaeaea'/><circle cx='58.5' cy='49.6' r='1.4' fill='#eaeaea'/><circle cx='63.5' cy='49.6' r='1.4' fill='#eaeaea'/><circle cx='68.5' cy='49.6' r='1.4' fill='#eaeaea'/><circle cx='58.5' cy='55.2' r='1.4' fill='#eaeaea'/><circle cx='63.5' cy='55.2' r='1.4' fill='#eaeaea'/><circle cx='68.5' cy='55.2' r='1.4' fill='#eaeaea'/><circle cx='58.5' cy='60.8' r='1.4' fill='#eaeaea'/><circle cx='63.5' cy='60.8' r='1.4' fill='#eaeaea'/><circle cx='68.5' cy='60.8' r='1.4' fill='#eaeaea'/><circle cx='58.5' cy='66.4' r='1.4' fill='#eaeaea'/><circle cx='63.5' cy='66.4' r='1.4' fill='#eaeaea'/><circle cx='68.5' cy='66.4' r='1.4' fill='#eaeaea'/><circle cx='58.5' cy='72.0' r='1.4' fill='#eaeaea'/><circle cx='63.5' cy='72.0' r='1.4' fill='#eaeaea'/><circle cx='68.5' cy='72.0' r='1.4' fill='#eaeaea'/><circle cx='58.5' cy='77.6' r='1.4' fill='#eaeaea'/><circle cx='63.5' cy='77.6' r='1.4' fill='#eaeaea'/><circle cx='68.5' cy='77.6' r='1.4' fill='#eaeaea'/><circle cx='58.5' cy='83.2' r='1.4' fill='#eaeaea'/><circle cx='63.5' cy='83.2' r='1.4' fill='#eaeaea'/><circle cx='68.5' cy='83.2' r='1.4' fill='#eaeaea'/><circle cx='58.5' cy='88.8' r='1.4' fill='#eaeaea'/><circle cx='63.5' cy='88.8' r='1.4' fill='#eaeaea'/><circle cx='68.5' cy='88.8' r='1.4' fill='#eaeaea'/><circle cx='58.5' cy='94.4' r='1.4' fill='#eaeaea'/><circle cx='63.5' cy='94.4' r='1.4' fill='#eaeaea'/><circle cx='68.5' cy='94.4' r='1.4' fill='#eaeaea'/><circle cx='58.5' cy='100.0' r='1.4' fill='#eaeaea'/><circle cx='63.5' cy='100.0' r='1.4' fill='#eaeaea'/><circle cx='68.5' cy='100.0' r='1.4' fill='#eaeaea'/><circle cx='58.5' cy='105.6' r='1.4' fill='#eaeaea'/><circle cx='63.5' cy='105.6' r='1.4' fill='#eaeaea'/><circle cx='68.5' cy='105.6' r='1.4' fill='#eaeaea'/><circle cx='57.5' cy='11.0' r='1.4' fill='#eaeaea'/><circle cx='62.5' cy='11.0' r='1.4' fill='#eaeaea'/><circle cx='57.5' cy='16.6' r='1.4' fill='#eaeaea'/><circle cx='62.5' cy='16.6' r='1.4' fill='#eaeaea'/><circle cx='57.5' cy='22.2' r='1.4' fill='#eaeaea'/><circle cx='62.5' cy='22.2' r='1.4' fill='#eaeaea'/><circle cx='57.5' cy='27.8' r='1.4' fill='#eaeaea'/><circle cx='62.5' cy='27.8' r='1.4' fill='#eaeaea'/><circle cx='57.5' cy='33.4' r='1.4' fill='#eaeaea'/><circle cx='62.5' cy='33.4' r='1.4' fill='#eaeaea'/><rect x='75' y='99' width='2' height='11' fill='#777'/><rect x='0' y='110' width='18' height='5' fill='#4a4a4a'/><rect x='18' y='110' width='16' height='5' fill='#cfcfcf'/><rect x='34' y='110' width='16' height='5' fill='#4a4a4a'/><rect x='50' y='110' width='16' height='5' fill='#cfcfcf'/><rect x='66' y='110' width='13' height='5' fill='#4a4a4a'/></svg>
<div class=t style="left:-875.0px;width:3000px;text-align:center;top:3829.2px;font-size:17.2px;font-weight:400;color:#111;"><span style="display:inline-block;transform:scaleX(1.19);transform-origin:center;">Entfernung zum</span></div>
<div class=t style="left:-875.0px;width:3000px;text-align:center;top:3849.4px;font-size:17.2px;font-weight:400;color:#111;"><span style="display:inline-block;transform:scaleX(1.187);transform-origin:center;">Stadtzentrum</span></div>
<div class=t style="left:-875.0px;width:3000px;text-align:center;top:3889.6px;font-size:27px;font-weight:400;color:#111;-webkit-text-stroke:0.6px #111;"><span style="display:inline-block;transform:scaleX(1.02);transform-origin:center;">6 km</span></div>
<svg class=s style="left:553.5px;top:3897.5px;" width="26" height="12" viewBox="0 0 26 12"><path d='M1 6 H25' stroke='#111' stroke-width='2'/><path d='M0 6 L8 1.5 L8 10.5 Z' fill='#111'/></svg>
<svg class=s style="left:669.5px;top:3897.5px;" width="26" height="12" viewBox="0 0 26 12"><path d='M0 6 H24' stroke='#111' stroke-width='2'/><path d='M26 6 L18 1.5 L18 10.5 Z' fill='#111'/></svg>
<div class=r style="left:437.5px;top:3951.0px;width:375.0px;height:2.5px;background:#222;"></div>
<div class=r style="left:437.5px;top:3953.5px;width:185.0px;height:56.5px;background:#77c2ea;"></div>
<div class=r style="left:437.5px;top:4010.0px;width:185.0px;height:37.0px;background:#e9e9e9;"></div>
<div class=r style="left:437.5px;top:4047.0px;width:185.0px;height:38.5px;background:#d0d0d0;"></div>
<svg class=s style="left:439.0px;top:3953.5px;" width="47" height="64" viewBox="0 0 47 64"><polygon points='0,0 47,0 47,57 23.5,63.5 0,57' fill='#2499d9'/><rect x='9.6' y='11.2' width='29.9' height='33' rx='5.5' fill='#fff'/><rect x='19.5' y='13.6' width='10' height='2.2' rx='1' fill='#2499d9'/><rect x='12' y='18.5' width='24.7' height='14.8' rx='1' fill='#2499d9'/><circle cx='14.6' cy='38.6' r='2.1' fill='#2499d9'/><circle cx='34.5' cy='38.6' r='2.1' fill='#2499d9'/><rect x='9.6' y='42' width='9' height='6.5' rx='2.2' fill='#fff'/><rect x='30.5' y='42' width='9' height='6.5' rx='2.2' fill='#fff'/><rect x='4.1' y='20.5' width='3.2' height='8' rx='1.4' fill='#fff'/><rect x='41.8' y='20.5' width='3.2' height='8' rx='1.4' fill='#fff'/></svg>
<div class=t style="left:-947.5px;width:3000px;text-align:center;top:3962.8px;font-size:18px;font-weight:400;color:#fff;"><span style="display:inline-block;transform:scaleX(1.16);transform-origin:center;">Öffentliche</span></div>
<div class=t style="left:-947.5px;width:3000px;text-align:center;top:3982.8px;font-size:18px;font-weight:400;color:#fff;"><span style="display:inline-block;transform:scaleX(1.125);transform-origin:center;">Verkehrsmittel</span></div>
<svg class=s style="left:455.0px;top:4021.5px;" width="16" height="16" viewBox="0 0 16 16"><rect x='1' y='0.5' width='14' height='2.2' fill='#4a4a4a'/><rect x='1' y='13.3' width='14' height='2.2' fill='#4a4a4a'/><path d='M2.5 2.7 H13.5 L9.2 8 L13.5 13.3 H2.5 L6.8 8 Z' fill='none' stroke='#4a4a4a' stroke-width='1.6'/><path d='M5 12.4 L8 9.6 L11 12.4 Z' fill='#4a4a4a'/></svg>
<svg class=s style="left:452.0px;top:4059.0px;" width="21" height="15" viewBox="0 0 21 15"><rect x='1' y='1' width='19' height='13' rx='1.6' fill='none' stroke='#4a4a4a' stroke-width='1.8'/><rect x='1' y='4' width='19' height='3' fill='#4a4a4a'/><rect x='3.5' y='10' width='3' height='1.4' fill='#4a4a4a'/><rect x='7.5' y='10' width='3' height='1.4' fill='#4a4a4a'/></svg>
<div class=t style="left:-949.5px;width:3000px;text-align:center;top:4013.8px;font-size:28px;font-weight:400;color:#111;-webkit-text-stroke:0.6px #111;"><span style="display:inline-block;transform:scaleX(1.074);transform-origin:center;">15 Min.</span></div>
<div class=t style="left:-949.5px;width:3000px;text-align:center;top:4048.8px;font-size:28px;font-weight:400;color:#111;-webkit-text-stroke:0.6px #111;"><span style="display:inline-block;transform:scaleX(1.031);transform-origin:center;">€ 2,10</span></div>
<div class=r style="left:627.0px;top:3953.5px;width:185.5px;height:56.5px;background:#77c2ea;"></div>
<div class=r style="left:627.0px;top:4010.0px;width:185.5px;height:37.0px;background:#e9e9e9;"></div>
<div class=r style="left:627.0px;top:4047.0px;width:185.5px;height:38.5px;background:#d0d0d0;"></div>
<svg class=s style="left:628.5px;top:3953.5px;" width="47" height="64" viewBox="0 0 47 64"><polygon points='0,0 47,0 47,57 23.5,63.5 0,57' fill='#2499d9'/><g transform='translate(0 3.5)'><rect x='16' y='9.5' width='15' height='6' rx='1' fill='#fff'/><text x='23.5' y='14.6' font-size='4.8' font-weight='700' text-anchor='middle' fill='#2499d9' font-family="Liberation Sans">TAXI</text><path d='M11 16 H36 L40.5 27 H6.5 Z' fill='#fff'/><path d='M14 19 H33 L35.6 26 H11.4 Z' fill='#2499d9'/><rect x='4.5' y='26' width='38' height='15' rx='4' fill='#fff'/><rect x='7.5' y='39' width='8' height='7' rx='2' fill='#fff'/><rect x='31.5' y='39' width='8' height='7' rx='2' fill='#fff'/><rect x='8.5' y='30' width='6.5' height='4' rx='2' fill='#2499d9'/><rect x='32' y='30' width='6.5' height='4' rx='2' fill='#2499d9'/><rect x='3' y='25' width='4' height='3' rx='1' fill='#fff'/><rect x='40' y='25' width='4' height='3' rx='1' fill='#fff'/></g></svg>
<div class=t style="left:-752.5px;width:3000px;text-align:center;top:3982.8px;font-size:18px;font-weight:400;color:#fff;"><span style="display:inline-block;transform:scaleX(1.125);transform-origin:center;">Taxi</span></div>
<svg class=s style="left:644.5px;top:4021.5px;" width="16" height="16" viewBox="0 0 16 16"><rect x='1' y='0.5' width='14' height='2.2' fill='#4a4a4a'/><rect x='1' y='13.3' width='14' height='2.2' fill='#4a4a4a'/><path d='M2.5 2.7 H13.5 L9.2 8 L13.5 13.3 H2.5 L6.8 8 Z' fill='none' stroke='#4a4a4a' stroke-width='1.6'/><path d='M5 12.4 L8 9.6 L11 12.4 Z' fill='#4a4a4a'/></svg>
<svg class=s style="left:641.5px;top:4059.0px;" width="21" height="15" viewBox="0 0 21 15"><rect x='1' y='1' width='19' height='13' rx='1.6' fill='none' stroke='#4a4a4a' stroke-width='1.8'/><rect x='1' y='4' width='19' height='3' fill='#4a4a4a'/><rect x='3.5' y='10' width='3' height='1.4' fill='#4a4a4a'/><rect x='7.5' y='10' width='3' height='1.4' fill='#4a4a4a'/></svg>
<div class=t style="left:-754.5px;width:3000px;text-align:center;top:4013.8px;font-size:28px;font-weight:400;color:#111;-webkit-text-stroke:0.6px #111;"><span style="display:inline-block;transform:scaleX(1.074);transform-origin:center;">10 Min.</span></div>
<div class=t style="left:-754.5px;width:3000px;text-align:center;top:4048.8px;font-size:28px;font-weight:400;color:#111;-webkit-text-stroke:0.6px #111;"><span style="display:inline-block;transform:scaleX(1.031);transform-origin:center;">€ 15,00</span></div>
<div class=r style="left:622.5px;top:3953.5px;width:4.5px;height:132.0px;background:#ffffff;"></div>
<div class=r style="left:839.0px;top:3675.5px;width:377.0px;height:415.0px;background:#c4c4c4;border-radius:0 0 22px 22px;box-shadow:0 3px 4px rgba(0,0,0,0.12);"></div>
<div class=r style="left:840.0px;top:3675.5px;width:375.0px;height:86.5px;background:#333333;"></div>
<svg class=s style="left:850.0px;top:3687.5px;" width="60" height="60" viewBox="0 0 60 60"><g transform='translate(29.5 29.5) rotate(45) scale(0.95)'><path d='M0,-23 C3,-23 4.5,-20 4.5,-17 L4.5,-8.5 L24,6.4 L4.5,2 L4.5,14 L10.5,20.5 L10.5,23 L0,20 L-10.5,23 L-10.5,20.5 L-4.5,14 L-4.5,2 L-24,6.4 L-4.5,-8.5 L-4.5,-17 C-4.5,-20 -3,-23 0,-23 Z' fill='#fff'/></g></svg>
<div class=t style="left:922.0px;top:3712.7px;font-size:39px;font-weight:700;color:#fff;-webkit-text-stroke:0.8px #fff;"><span style="display:inline-block;transform:scaleX(0.85);transform-origin:left;">Graz</span></div>
<div class=r style="left:840.0px;top:3762.0px;width:375.0px;height:189.0px;background:#ffffff;"></div>
<svg class=s style="left:865.0px;top:3780.0px;" width="84" height="130" viewBox="0 0 84 130"><rect x='49' y='14' width='7' height='4' rx='2' fill='#d0d0d0'/><rect x='38.5' y='18' width='28' height='2.6' fill='#1e1e1e'/><polygon points='41,20.6 64,20.6 62.5,31 42.5,31' fill='#dcdcdc'/><rect x='35' y='31' width='35' height='3' fill='#1e1e1e'/><polygon points='39,34 67,34 65,46 41,46' fill='#dcdcdc'/><rect x='43.5' y='37' width='3.2' height='3.5' fill='#b0b0b0'/><rect x='49.5' y='37' width='3.2' height='3.5' fill='#b0b0b0'/><rect x='55.5' y='37' width='3.2' height='3.5' fill='#b0b0b0'/><rect x='61' y='37' width='3.2' height='3.5' fill='#b0b0b0'/><rect x='45.6' y='46' width='7.2' height='53' fill='#d9d9d9'/><rect x='52.8' y='46' width='7.2' height='53' fill='#bdbdbd'/><rect x='0' y='99' width='83.5' height='3.4' fill='#1e1e1e'/><rect x='2.6' y='102.4' width='77.4' height='22' fill='#e2e2e2'/><rect x='21' y='104' width='43' height='20' fill='#cfcfcf'/><rect x='24' y='111.5' width='36' height='1.6' fill='#333'/><rect x='67' y='106' width='8' height='18' fill='#444'/><rect x='69' y='109' width='4' height='5' fill='#eee'/><rect x='0' y='124' width='18.5' height='5' fill='#4a4a4a'/><rect x='18.5' y='124' width='17' height='5' fill='#cfcfcf'/><rect x='35.5' y='124' width='16' height='5' fill='#4a4a4a'/><rect x='51.5' y='124' width='17' height='5' fill='#cfcfcf'/><rect x='68.5' y='124' width='15' height='5' fill='#4a4a4a'/></svg>
<svg class=s style="left:1114.0px;top:3794.0px;" width="80" height="116" viewBox="0 0 80 116"><rect x='53.4' y='6' width='14.4' height='34' rx='1.5' fill='#cacaca'/><rect x='55' y='38' width='18' height='72' fill='#cdcdcd'/><polygon points='27,36.5 55,32 55,110 27,110' fill='#e9e9e9'/><rect x='27' y='40.0' width='28' height='1.4' fill='#c4c4c4'/><rect x='27' y='45.3' width='28' height='1.4' fill='#c4c4c4'/><rect x='27' y='50.6' width='28' height='1.4' fill='#c4c4c4'/><rect x='27' y='55.9' width='28' height='1.4' fill='#c4c4c4'/><rect x='27' y='61.2' width='28' height='1.4' fill='#c4c4c4'/><rect x='27' y='66.5' width='28' height='1.4' fill='#c4c4c4'/><rect x='27' y='71.8' width='28' height='1.4' fill='#c4c4c4'/><rect x='27' y='77.1' width='28' height='1.4' fill='#c4c4c4'/><rect x='27' y='82.4' width='28' height='1.4' fill='#c4c4c4'/><rect x='27' y='87.7' width='28' height='1.4' fill='#c4c4c4'/><rect x='27' y='93.0' width='28' height='1.4' fill='#c4c4c4'/><rect x='27' y='98.3' width='28' height='1.4' fill='#c4c4c4'/><rect x='27' y='103.6' width='28' height='1.4' fill='#c4c4c4'/><rect x='40.5' y='37' width='1' height='73' fill='#d0d0d0'/><rect x='8' y='0' width='15' height='36' rx='2' fill='#808080'/><rect x='2.5' y='35' width='24.5' height='75' rx='2' fill='#808080'/><circle cx='12.5' cy='6.0' r='1.6' fill='#f2f2f2'/><circle cx='18.0' cy='6.0' r='1.6' fill='#f2f2f2'/><circle cx='12.5' cy='12.3' r='1.6' fill='#f2f2f2'/><circle cx='18.0' cy='12.3' r='1.6' fill='#f2f2f2'/><circle cx='12.5' cy='18.6' r='1.6' fill='#f2f2f2'/><circle cx='18.0' cy='18.6' r='1.6' fill='#f2f2f2'/><circle cx='12.5' cy='24.9' r='1.6' fill='#f2f2f2'/><circle cx='18.0' cy='24.9' r='1.6' fill='#f2f2f2'/><circle cx='12.5' cy='31.2' r='1.6' fill='#f2f2f2'/><circle cx='18.0' cy='31.2' r='1.6' fill='#f2f2f2'/><circle cx='7.0' cy='41.0' r='1.6' fill='#f2f2f2'/><circle cx='12.6' cy='41.0' r='1.6' fill='#f2f2f2'/><circle cx='18.2' cy='41.0' r='1.6' fill='#f2f2f2'/><circle cx='23.8' cy='41.0' r='1.6' fill='#f2f2f2'/><circle cx='7.0' cy='46.6' r='1.6' fill='#f2f2f2'/><circle cx='12.6' cy='46.6' r='1.6' fill='#f2f2f2'/><circle cx='18.2' cy='46.6' r='1.6' fill='#f2f2f2'/><circle cx='23.8' cy='46.6' r='1.6' fill='#f2f2f2'/><circle cx='7.0' cy='52.2' r='1.6' fill='#f2f2f2'/><circle cx='12.6' cy='52.2' r='1.6' fill='#f2f2f2'/><circle cx='18.2' cy='52.2' r='1.6' fill='#f2f2f2'/><circle cx='23.8' cy='52.2' r='1.6' fill='#f2f2f2'/><circle cx='7.0' cy='57.8' r='1.6' fill='#f2f2f2'/><circle cx='12.6' cy='57.8' r='1.6' fill='#f2f2f2'/><circle cx='18.2' cy='57.8' r='1.6' fill='#f2f2f2'/><circle cx='23.8' cy='57.8' r='1.6' fill='#f2f2f2'/><circle cx='7.0' cy='63.4' r='1.6' fill='#f2f2f2'/><circle cx='12.6' cy='63.4' r='1.6' fill='#f2f2f2'/><circle cx='18.2' cy='63.4' r='1.6' fill='#f2f2f2'/><circle cx='23.8' cy='63.4' r='1.6' fill='#f2f2f2'/><circle cx='7.0' cy='69.0' r='1.6' fill='#f2f2f2'/><circle cx='12.6' cy='69.0' r='1.6' fill='#f2f2f2'/><circle cx='18.2' cy='69.0' r='1.6' fill='#f2f2f2'/><circle cx='23.8' cy='69.0' r='1.6' fill='#f2f2f2'/><circle cx='7.0' cy='74.6' r='1.6' fill='#f2f2f2'/><circle cx='12.6' cy='74.6' r='1.6' fill='#f2f2f2'/><circle cx='18.2' cy='74.6' r='1.6' fill='#f2f2f2'/><circle cx='23.8' cy='74.6' r='1.6' fill='#f2f2f2'/><circle cx='7.0' cy='80.2' r='1.6' fill='#f2f2f2'/><circle cx='12.6' cy='80.2' r='1.6' fill='#f2f2f2'/><circle cx='18.2' cy='80.2' r='1.6' fill='#f2f2f2'/><circle cx='23.8' cy='80.2' r='1.6' fill='#f2f2f2'/><circle cx='7.0' cy='85.8' r='1.6' fill='#f2f2f2'/><circle cx='12.6' cy='85.8' r='1.6' fill='#f2f2f2'/><circle cx='18.2' cy='85.8' r='1.6' fill='#f2f2f2'/><circle cx='23.8' cy='85.8' r='1.6' fill='#f2f2f2'/><circle cx='7.0' cy='91.4' r='1.6' fill='#f2f2f2'/><circle cx='12.6' cy='91.4' r='1.6' fill='#f2f2f2'/><circle cx='18.2' cy='91.4' r='1.6' fill='#f2f2f2'/><circle cx='23.8' cy='91.4' r='1.6' fill='#f2f2f2'/><circle cx='7.0' cy='97.0' r='1.6' fill='#f2f2f2'/><circle cx='12.6' cy='97.0' r='1.6' fill='#f2f2f2'/><circle cx='18.2' cy='97.0' r='1.6' fill='#f2f2f2'/><circle cx='23.8' cy='97.0' r='1.6' fill='#f2f2f2'/><circle cx='7.0' cy='102.6' r='1.6' fill='#f2f2f2'/><circle cx='12.6' cy='102.6' r='1.6' fill='#f2f2f2'/><circle cx='18.2' cy='102.6' r='1.6' fill='#f2f2f2'/><circle cx='23.8' cy='102.6' r='1.6' fill='#f2f2f2'/><circle cx='58.5' cy='44.0' r='1.4' fill='#eaeaea'/><circle cx='63.5' cy='44.0' r='1.4' fill='#eaeaea'/><circle cx='68.5' cy='44.0' r='1.4' fill='#eaeaea'/><circle cx='58.5' cy='49.6' r='1.4' fill='#eaeaea'/><circle cx='63.5' cy='49.6' r='1.4' fill='#eaeaea'/><circle cx='68.5' cy='49.6' r='1.4' fill='#eaeaea'/><circle cx='58.5' cy='55.2' r='1.4' fill='#eaeaea'/><circle cx='63.5' cy='55.2' r='1.4' fill='#eaeaea'/><circle cx='68.5' cy='55.2' r='1.4' fill='#eaeaea'/><circle cx='58.5' cy='60.8' r='1.4' fill='#eaeaea'/><circle cx='63.5' cy='60.8' r='1.4' fill='#eaeaea'/><circle cx='68.5' cy='60.8' r='1.4' fill='#eaeaea'/><circle cx='58.5' cy='66.4' r='1.4' fill='#eaeaea'/><circle cx='63.5' cy='66.4' r='1.4' fill='#eaeaea'/><circle cx='68.5' cy='66.4' r='1.4' fill='#eaeaea'/><circle cx='58.5' cy='72.0' r='1.4' fill='#eaeaea'/><circle cx='63.5' cy='72.0' r='1.4' fill='#eaeaea'/><circle cx='68.5' cy='72.0' r='1.4' fill='#eaeaea'/><circle cx='58.5' cy='77.6' r='1.4' fill='#eaeaea'/><circle cx='63.5' cy='77.6' r='1.4' fill='#eaeaea'/><circle cx='68.5' cy='77.6' r='1.4' fill='#eaeaea'/><circle cx='58.5' cy='83.2' r='1.4' fill='#eaeaea'/><circle cx='63.5' cy='83.2' r='1.4' fill='#eaeaea'/><circle cx='68.5' cy='83.2' r='1.4' fill='#eaeaea'/><circle cx='58.5' cy='88.8' r='1.4' fill='#eaeaea'/><circle cx='63.5' cy='88.8' r='1.4' fill='#eaeaea'/><circle cx='68.5' cy='88.8' r='1.4' fill='#eaeaea'/><circle cx='58.5' cy='94.4' r='1.4' fill='#eaeaea'/><circle cx='63.5' cy='94.4' r='1.4' fill='#eaeaea'/><circle cx='68.5' cy='94.4' r='1.4' fill='#eaeaea'/><circle cx='58.5' cy='100.0' r='1.4' fill='#eaeaea'/><circle cx='63.5' cy='100.0' r='1.4' fill='#eaeaea'/><circle cx='68.5' cy='100.0' r='1.4' fill='#eaeaea'/><circle cx='58.5' cy='105.6' r='1.4' fill='#eaeaea'/><circle cx='63.5' cy='105.6' r='1.4' fill='#eaeaea'/><circle cx='68.5' cy='105.6' r='1.4' fill='#eaeaea'/><circle cx='57.5' cy='11.0' r='1.4' fill='#eaeaea'/><circle cx='62.5' cy='11.0' r='1.4' fill='#eaeaea'/><circle cx='57.5' cy='16.6' r='1.4' fill='#eaeaea'/><circle cx='62.5' cy='16.6' r='1.4' fill='#eaeaea'/><circle cx='57.5' cy='22.2' r='1.4' fill='#eaeaea'/><circle cx='62.5' cy='22.2' r='1.4' fill='#eaeaea'/><circle cx='57.5' cy='27.8' r='1.4' fill='#eaeaea'/><circle cx='62.5' cy='27.8' r='1.4' fill='#eaeaea'/><circle cx='57.5' cy='33.4' r='1.4' fill='#eaeaea'/><circle cx='62.5' cy='33.4' r='1.4' fill='#eaeaea'/><rect x='75' y='99' width='2' height='11' fill='#777'/><rect x='0' y='110' width='18' height='5' fill='#4a4a4a'/><rect x='18' y='110' width='16' height='5' fill='#cfcfcf'/><rect x='34' y='110' width='16' height='5' fill='#4a4a4a'/><rect x='50' y='110' width='16' height='5' fill='#cfcfcf'/><rect x='66' y='110' width='13' height='5' fill='#4a4a4a'/></svg>
<div class=t style="left:-472.5px;width:3000px;text-align:center;top:3829.2px;font-size:17.2px;font-weight:400;color:#111;"><span style="display:inline-block;transform:scaleX(1.19);transform-origin:center;">Entfernung zum</span></div>
<div class=t style="left:-472.5px;width:3000px;text-align:center;top:3849.4px;font-size:17.2px;font-weight:400;color:#111;"><span style="display:inline-block;transform:scaleX(1.187);transform-origin:center;">Stadtzentrum</span></div>
<div class=t style="left:-472.5px;width:3000px;text-align:center;top:3889.6px;font-size:27px;font-weight:400;color:#111;-webkit-text-stroke:0.6px #111;"><span style="display:inline-block;transform:scaleX(1.02);transform-origin:center;">10 km</span></div>
<svg class=s style="left:956.0px;top:3897.5px;" width="26" height="12" viewBox="0 0 26 12"><path d='M1 6 H25' stroke='#111' stroke-width='2'/><path d='M0 6 L8 1.5 L8 10.5 Z' fill='#111'/></svg>
<svg class=s style="left:1072.0px;top:3897.5px;" width="26" height="12" viewBox="0 0 26 12"><path d='M0 6 H24' stroke='#111' stroke-width='2'/><path d='M26 6 L18 1.5 L18 10.5 Z' fill='#111'/></svg>
<div class=r style="left:840.0px;top:3951.0px;width:375.0px;height:2.5px;background:#222;"></div>
<div class=r style="left:840.0px;top:3953.5px;width:185.0px;height:56.5px;background:#77c2ea;"></div>
<div class=r style="left:840.0px;top:4010.0px;width:185.0px;height:37.0px;background:#e9e9e9;"></div>
<div class=r style="left:840.0px;top:4047.0px;width:185.0px;height:38.5px;background:#d0d0d0;"></div>
<svg class=s style="left:841.5px;top:3953.5px;" width="47" height="64" viewBox="0 0 47 64"><polygon points='0,0 47,0 47,57 23.5,63.5 0,57' fill='#2499d9'/><rect x='9.6' y='11.2' width='29.9' height='33' rx='5.5' fill='#fff'/><rect x='19.5' y='13.6' width='10' height='2.2' rx='1' fill='#2499d9'/><rect x='12' y='18.5' width='24.7' height='14.8' rx='1' fill='#2499d9'/><circle cx='14.6' cy='38.6' r='2.1' fill='#2499d9'/><circle cx='34.5' cy='38.6' r='2.1' fill='#2499d9'/><rect x='9.6' y='42' width='9' height='6.5' rx='2.2' fill='#fff'/><rect x='30.5' y='42' width='9' height='6.5' rx='2.2' fill='#fff'/><rect x='4.1' y='20.5' width='3.2' height='8' rx='1.4' fill='#fff'/><rect x='41.8' y='20.5' width='3.2' height='8' rx='1.4' fill='#fff'/></svg>
<div class=t style="left:-545.0px;width:3000px;text-align:center;top:3962.8px;font-size:18px;font-weight:400;color:#fff;"><span style="display:inline-block;transform:scaleX(1.16);transform-origin:center;">Öffentliche</span></div>
<div class=t style="left:-545.0px;width:3000px;text-align:center;top:3982.8px;font-size:18px;font-weight:400;color:#fff;"><span style="display:inline-block;transform:scaleX(1.125);transform-origin:center;">Verkehrsmittel</span></div>
<svg class=s style="left:857.5px;top:4021.5px;" width="16" height="16" viewBox="0 0 16 16"><rect x='1' y='0.5' width='14' height='2.2' fill='#4a4a4a'/><rect x='1' y='13.3' width='14' height='2.2' fill='#4a4a4a'/><path d='M2.5 2.7 H13.5 L9.2 8 L13.5 13.3 H2.5 L6.8 8 Z' fill='none' stroke='#4a4a4a' stroke-width='1.6'/><path d='M5 12.4 L8 9.6 L11 12.4 Z' fill='#4a4a4a'/></svg>
<svg class=s style="left:854.5px;top:4059.0px;" width="21" height="15" viewBox="0 0 21 15"><rect x='1' y='1' width='19' height='13' rx='1.6' fill='none' stroke='#4a4a4a' stroke-width='1.8'/><rect x='1' y='4' width='19' height='3' fill='#4a4a4a'/><rect x='3.5' y='10' width='3' height='1.4' fill='#4a4a4a'/><rect x='7.5' y='10' width='3' height='1.4' fill='#4a4a4a'/></svg>
<div class=t style="left:-547.0px;width:3000px;text-align:center;top:4013.8px;font-size:28px;font-weight:400;color:#111;-webkit-text-stroke:0.6px #111;"><span style="display:inline-block;transform:scaleX(1.074);transform-origin:center;">20 Min.</span></div>
<div class=t style="left:-547.0px;width:3000px;text-align:center;top:4048.8px;font-size:28px;font-weight:400;color:#111;-webkit-text-stroke:0.6px #111;"><span style="display:inline-block;transform:scaleX(1.031);transform-origin:center;">€ 2,30</span></div>
<div class=r style="left:1029.5px;top:3953.5px;width:185.5px;height:56.5px;background:#77c2ea;"></div>
<div class=r style="left:1029.5px;top:4010.0px;width:185.5px;height:37.0px;background:#e9e9e9;"></div>
<div class=r style="left:1029.5px;top:4047.0px;width:185.5px;height:38.5px;background:#d0d0d0;"></div>
<svg class=s style="left:1031.0px;top:3953.5px;" width="47" height="64" viewBox="0 0 47 64"><polygon points='0,0 47,0 47,57 23.5,63.5 0,57' fill='#2499d9'/><g transform='translate(0 3.5)'><rect x='16' y='9.5' width='15' height='6' rx='1' fill='#fff'/><text x='23.5' y='14.6' font-size='4.8' font-weight='700' text-anchor='middle' fill='#2499d9' font-family="Liberation Sans">TAXI</text><path d='M11 16 H36 L40.5 27 H6.5 Z' fill='#fff'/><path d='M14 19 H33 L35.6 26 H11.4 Z' fill='#2499d9'/><rect x='4.5' y='26' width='38' height='15' rx='4' fill='#fff'/><rect x='7.5' y='39' width='8' height='7' rx='2' fill='#fff'/><rect x='31.5' y='39' width='8' height='7' rx='2' fill='#fff'/><rect x='8.5' y='30' width='6.5' height='4' rx='2' fill='#2499d9'/><rect x='32' y='30' width='6.5' height='4' rx='2' fill='#2499d9'/><rect x='3' y='25' width='4' height='3' rx='1' fill='#fff'/><rect x='40' y='25' width='4' height='3' rx='1' fill='#fff'/></g></svg>
<div class=t style="left:-350.0px;width:3000px;text-align:center;top:3982.8px;font-size:18px;font-weight:400;color:#fff;"><span style="display:inline-block;transform:scaleX(1.125);transform-origin:center;">Taxi</span></div>
<svg class=s style="left:1047.0px;top:4021.5px;" width="16" height="16" viewBox="0 0 16 16"><rect x='1' y='0.5' width='14' height='2.2' fill='#4a4a4a'/><rect x='1' y='13.3' width='14' height='2.2' fill='#4a4a4a'/><path d='M2.5 2.7 H13.5 L9.2 8 L13.5 13.3 H2.5 L6.8 8 Z' fill='none' stroke='#4a4a4a' stroke-width='1.6'/><path d='M5 12.4 L8 9.6 L11 12.4 Z' fill='#4a4a4a'/></svg>
<svg class=s style="left:1044.0px;top:4059.0px;" width="21" height="15" viewBox="0 0 21 15"><rect x='1' y='1' width='19' height='13' rx='1.6' fill='none' stroke='#4a4a4a' stroke-width='1.8'/><rect x='1' y='4' width='19' height='3' fill='#4a4a4a'/><rect x='3.5' y='10' width='3' height='1.4' fill='#4a4a4a'/><rect x='7.5' y='10' width='3' height='1.4' fill='#4a4a4a'/></svg>
<div class=t style="left:-352.0px;width:3000px;text-align:center;top:4013.8px;font-size:28px;font-weight:400;color:#111;-webkit-text-stroke:0.6px #111;"><span style="display:inline-block;transform:scaleX(1.074);transform-origin:center;">16 Min.</span></div>
<div class=t style="left:-352.0px;width:3000px;text-align:center;top:4048.8px;font-size:28px;font-weight:400;color:#111;-webkit-text-stroke:0.6px #111;"><span style="display:inline-block;transform:scaleX(1.031);transform-origin:center;">€ 20,00</span></div>
<div class=r style="left:1025.0px;top:3953.5px;width:4.5px;height:132.0px;background:#ffffff;"></div>
<div class=r style="left:34.0px;top:4152.5px;width:377.0px;height:415.0px;background:#c4c4c4;border-radius:0 0 22px 22px;box-shadow:0 3px 4px rgba(0,0,0,0.12);"></div>
<div class=r style="left:35.0px;top:4152.5px;width:375.0px;height:86.5px;background:#333333;"></div>
<svg class=s style="left:45.0px;top:4164.5px;" width="60" height="60" viewBox="0 0 60 60"><g transform='translate(29.5 29.5) rotate(45) scale(0.95)'><path d='M0,-23 C3,-23 4.5,-20 4.5,-17 L4.5,-8.5 L24,6.4 L4.5,2 L4.5,14 L10.5,20.5 L10.5,23 L0,20 L-10.5,23 L-10.5,20.5 L-4.5,14 L-4.5,2 L-24,6.4 L-4.5,-8.5 L-4.5,-17 C-4.5,-20 -3,-23 0,-23 Z' fill='#fff'/></g></svg>
<div class=t style="left:117.0px;top:4189.7px;font-size:39px;font-weight:700;color:#fff;-webkit-text-stroke:0.8px #fff;"><span style="display:inline-block;transform:scaleX(0.85);transform-origin:left;">Linz</span></div>
<div class=r style="left:35.0px;top:4239.0px;width:375.0px;height:189.0px;background:#ffffff;"></div>
<svg class=s style="left:60.0px;top:4257.0px;" width="84" height="130" viewBox="0 0 84 130"><rect x='49' y='14' width='7' height='4' rx='2' fill='#d0d0d0'/><rect x='38.5' y='18' width='28' height='2.6' fill='#1e1e1e'/><polygon points='41,20.6 64,20.6 62.5,31 42.5,31' fill='#dcdcdc'/><rect x='35' y='31' width='35' height='3' fill='#1e1e1e'/><polygon points='39,34 67,34 65,46 41,46' fill='#dcdcdc'/><rect x='43.5' y='37' width='3.2' height='3.5' fill='#b0b0b0'/><rect x='49.5' y='37' width='3.2' height='3.5' fill='#b0b0b0'/><rect x='55.5' y='37' width='3.2' height='3.5' fill='#b0b0b0'/><rect x='61' y='37' width='3.2' height='3.5' fill='#b0b0b0'/><rect x='45.6' y='46' width='7.2' height='53' fill='#d9d9d9'/><rect x='52.8' y='46' width='7.2' height='53' fill='#bdbdbd'/><rect x='0' y='99' width='83.5' height='3.4' fill='#1e1e1e'/><rect x='2.6' y='102.4' width='77.4' height='22' fill='#e2e2e2'/><rect x='21' y='104' width='43' height='20' fill='#cfcfcf'/><rect x='24' y='111.5' width='36' height='1.6' fill='#333'/><rect x='67' y='106' width='8' height='18' fill='#444'/><rect x='69' y='109' width='4' height='5' fill='#eee'/><rect x='0' y='124' width='18.5' height='5' fill='#4a4a4a'/><rect x='18.5' y='124' width='17' height='5' fill='#cfcfcf'/><rect x='35.5' y='124' width='16' height='5' fill='#4a4a4a'/><rect x='51.5' y='124' width='17' height='5' fill='#cfcfcf'/><rect x='68.5' y='124' width='15' height='5' fill='#4a4a4a'/></svg>
<svg class=s style="left:309.0px;top:4271.0px;" width="80" height="116" viewBox="0 0 80 116"><rect x='53.4' y='6' width='14.4' height='34' rx='1.5' fill='#cacaca'/><rect x='55' y='38' width='18' height='72' fill='#cdcdcd'/><polygon points='27,36.5 55,32 55,110 27,110' fill='#e9e9e9'/><rect x='27' y='40.0' width='28' height='1.4' fill='#c4c4c4'/><rect x='27' y='45.3' width='28' height='1.4' fill='#c4c4c4'/><rect x='27' y='50.6' width='28' height='1.4' fill='#c4c4c4'/><rect x='27' y='55.9' width='28' height='1.4' fill='#c4c4c4'/><rect x='27' y='61.2' width='28' height='1.4' fill='#c4c4c4'/><rect x='27' y='66.5' width='28' height='1.4' fill='#c4c4c4'/><rect x='27' y='71.8' width='28' height='1.4' fill='#c4c4c4'/><rect x='27' y='77.1' width='28' height='1.4' fill='#c4c4c4'/><rect x='27' y='82.4' width='28' height='1.4' fill='#c4c4c4'/><rect x='27' y='87.7' width='28' height='1.4' fill='#c4c4c4'/><rect x='27' y='93.0' width='28' height='1.4' fill='#c4c4c4'/><rect x='27' y='98.3' width='28' height='1.4' fill='#c4c4c4'/><rect x='27' y='103.6' width='28' height='1.4' fill='#c4c4c4'/><rect x='40.5' y='37' width='1' height='73' fill='#d0d0d0'/><rect x='8' y='0' width='15' height='36' rx='2' fill='#808080'/><rect x='2.5' y='35' width='24.5' height='75' rx='2' fill='#808080'/><circle cx='12.5' cy='6.0' r='1.6' fill='#f2f2f2'/><circle cx='18.0' cy='6.0' r='1.6' fill='#f2f2f2'/><circle cx='12.5' cy='12.3' r='1.6' fill='#f2f2f2'/><circle cx='18.0' cy='12.3' r='1.6' fill='#f2f2f2'/><circle cx='12.5' cy='18.6' r='1.6' fill='#f2f2f2'/><circle cx='18.0' cy='18.6' r='1.6' fill='#f2f2f2'/><circle cx='12.5' cy='24.9' r='1.6' fill='#f2f2f2'/><circle cx='18.0' cy='24.9' r='1.6' fill='#f2f2f2'/><circle cx='12.5' cy='31.2' r='1.6' fill='#f2f2f2'/><circle cx='18.0' cy='31.2' r='1.6' fill='#f2f2f2'/><circle cx='7.0' cy='41.0' r='1.6' fill='#f2f2f2'/><circle cx='12.6' cy='41.0' r='1.6' fill='#f2f2f2'/><circle cx='18.2' cy='41.0' r='1.6' fill='#f2f2f2'/><circle cx='23.8' cy='41.0' r='1.6' fill='#f2f2f2'/><circle cx='7.0' cy='46.6' r='1.6' fill='#f2f2f2'/><circle cx='12.6' cy='46.6' r='1.6' fill='#f2f2f2'/><circle cx='18.2' cy='46.6' r='1.6' fill='#f2f2f2'/><circle cx='23.8' cy='46.6' r='1.6' fill='#f2f2f2'/><circle cx='7.0' cy='52.2' r='1.6' fill='#f2f2f2'/><circle cx='12.6' cy='52.2' r='1.6' fill='#f2f2f2'/><circle cx='18.2' cy='52.2' r='1.6' fill='#f2f2f2'/><circle cx='23.8' cy='52.2' r='1.6' fill='#f2f2f2'/><circle cx='7.0' cy='57.8' r='1.6' fill='#f2f2f2'/><circle cx='12.6' cy='57.8' r='1.6' fill='#f2f2f2'/><circle cx='18.2' cy='57.8' r='1.6' fill='#f2f2f2'/><circle cx='23.8' cy='57.8' r='1.6' fill='#f2f2f2'/><circle cx='7.0' cy='63.4' r='1.6' fill='#f2f2f2'/><circle cx='12.6' cy='63.4' r='1.6' fill='#f2f2f2'/><circle cx='18.2' cy='63.4' r='1.6' fill='#f2f2f2'/><circle cx='23.8' cy='63.4' r='1.6' fill='#f2f2f2'/><circle cx='7.0' cy='69.0' r='1.6' fill='#f2f2f2'/><circle cx='12.6' cy='69.0' r='1.6' fill='#f2f2f2'/><circle cx='18.2' cy='69.0' r='1.6' fill='#f2f2f2'/><circle cx='23.8' cy='69.0' r='1.6' fill='#f2f2f2'/><circle cx='7.0' cy='74.6' r='1.6' fill='#f2f2f2'/><circle cx='12.6' cy='74.6' r='1.6' fill='#f2f2f2'/><circle cx='18.2' cy='74.6' r='1.6' fill='#f2f2f2'/><circle cx='23.8' cy='74.6' r='1.6' fill='#f2f2f2'/><circle cx='7.0' cy='80.2' r='1.6' fill='#f2f2f2'/><circle cx='12.6' cy='80.2' r='1.6' fill='#f2f2f2'/><circle cx='18.2' cy='80.2' r='1.6' fill='#f2f2f2'/><circle cx='23.8' cy='80.2' r='1.6' fill='#f2f2f2'/><circle cx='7.0' cy='85.8' r='1.6' fill='#f2f2f2'/><circle cx='12.6' cy='85.8' r='1.6' fill='#f2f2f2'/><circle cx='18.2' cy='85.8' r='1.6' fill='#f2f2f2'/><circle cx='23.8' cy='85.8' r='1.6' fill='#f2f2f2'/><circle cx='7.0' cy='91.4' r='1.6' fill='#f2f2f2'/><circle cx='12.6' cy='91.4' r='1.6' fill='#f2f2f2'/><circle cx='18.2' cy='91.4' r='1.6' fill='#f2f2f2'/><circle cx='23.8' cy='91.4' r='1.6' fill='#f2f2f2'/><circle cx='7.0' cy='97.0' r='1.6' fill='#f2f2f2'/><circle cx='12.6' cy='97.0' r='1.6' fill='#f2f2f2'/><circle cx='18.2' cy='97.0' r='1.6' fill='#f2f2f2'/><circle cx='23.8' cy='97.0' r='1.6' fill='#f2f2f2'/><circle cx='7.0' cy='102.6' r='1.6' fill='#f2f2f2'/><circle cx='12.6' cy='102.6' r='1.6' fill='#f2f2f2'/><circle cx='18.2' cy='102.6' r='1.6' fill='#f2f2f2'/><circle cx='23.8' cy='102.6' r='1.6' fill='#f2f2f2'/><circle cx='58.5' cy='44.0' r='1.4' fill='#eaeaea'/><circle cx='63.5' cy='44.0' r='1.4' fill='#eaeaea'/><circle cx='68.5' cy='44.0' r='1.4' fill='#eaeaea'/><circle cx='58.5' cy='49.6' r='1.4' fill='#eaeaea'/><circle cx='63.5' cy='49.6' r='1.4' fill='#eaeaea'/><circle cx='68.5' cy='49.6' r='1.4' fill='#eaeaea'/><circle cx='58.5' cy='55.2' r='1.4' fill='#eaeaea'/><circle cx='63.5' cy='55.2' r='1.4' fill='#eaeaea'/><circle cx='68.5' cy='55.2' r='1.4' fill='#eaeaea'/><circle cx='58.5' cy='60.8' r='1.4' fill='#eaeaea'/><circle cx='63.5' cy='60.8' r='1.4' fill='#eaeaea'/><circle cx='68.5' cy='60.8' r='1.4' fill='#eaeaea'/><circle cx='58.5' cy='66.4' r='1.4' fill='#eaeaea'/><circle cx='63.5' cy='66.4' r='1.4' fill='#eaeaea'/><circle cx='68.5' cy='66.4' r='1.4' fill='#eaeaea'/><circle cx='58.5' cy='72.0' r='1.4' fill='#eaeaea'/><circle cx='63.5' cy='72.0' r='1.4' fill='#eaeaea'/><circle cx='68.5' cy='72.0' r='1.4' fill='#eaeaea'/><circle cx='58.5' cy='77.6' r='1.4' fill='#eaeaea'/><circle cx='63.5' cy='77.6' r='1.4' fill='#eaeaea'/><circle cx='68.5' cy='77.6' r='1.4' fill='#eaeaea'/><circle cx='58.5' cy='83.2' r='1.4' fill='#eaeaea'/><circle cx='63.5' cy='83.2' r='1.4' fill='#eaeaea'/><circle cx='68.5' cy='83.2' r='1.4' fill='#eaeaea'/><circle cx='58.5' cy='88.8' r='1.4' fill='#eaeaea'/><circle cx='63.5' cy='88.8' r='1.4' fill='#eaeaea'/><circle cx='68.5' cy='88.8' r='1.4' fill='#eaeaea'/><circle cx='58.5' cy='94.4' r='1.4' fill='#eaeaea'/><circle cx='63.5' cy='94.4' r='1.4' fill='#eaeaea'/><circle cx='68.5' cy='94.4' r='1.4' fill='#eaeaea'/><circle cx='58.5' cy='100.0' r='1.4' fill='#eaeaea'/><circle cx='63.5' cy='100.0' r='1.4' fill='#eaeaea'/><circle cx='68.5' cy='100.0' r='1.4' fill='#eaeaea'/><circle cx='58.5' cy='105.6' r='1.4' fill='#eaeaea'/><circle cx='63.5' cy='105.6' r='1.4' fill='#eaeaea'/><circle cx='68.5' cy='105.6' r='1.4' fill='#eaeaea'/><circle cx='57.5' cy='11.0' r='1.4' fill='#eaeaea'/><circle cx='62.5' cy='11.0' r='1.4' fill='#eaeaea'/><circle cx='57.5' cy='16.6' r='1.4' fill='#eaeaea'/><circle cx='62.5' cy='16.6' r='1.4' fill='#eaeaea'/><circle cx='57.5' cy='22.2' r='1.4' fill='#eaeaea'/><circle cx='62.5' cy='22.2' r='1.4' fill='#eaeaea'/><circle cx='57.5' cy='27.8' r='1.4' fill='#eaeaea'/><circle cx='62.5' cy='27.8' r='1.4' fill='#eaeaea'/><circle cx='57.5' cy='33.4' r='1.4' fill='#eaeaea'/><circle cx='62.5' cy='33.4' r='1.4' fill='#eaeaea'/><rect x='75' y='99' width='2' height='11' fill='#777'/><rect x='0' y='110' width='18' height='5' fill='#4a4a4a'/><rect x='18' y='110' width='16' height='5' fill='#cfcfcf'/><rect x='34' y='110' width='16' height='5' fill='#4a4a4a'/><rect x='50' y='110' width='16' height='5' fill='#cfcfcf'/><rect x='66' y='110' width='13' height='5' fill='#4a4a4a'/></svg>
<div class=t style="left:-1277.5px;width:3000px;text-align:center;top:4306.2px;font-size:17.2px;font-weight:400;color:#111;"><span style="display:inline-block;transform:scaleX(1.19);transform-origin:center;">Entfernung zum</span></div>
<div class=t style="left:-1277.5px;width:3000px;text-align:center;top:4326.4px;font-size:17.2px;font-weight:400;color:#111;"><span style="display:inline-block;transform:scaleX(1.187);transform-origin:center;">Stadtzentrum</span></div>
<div class=t style="left:-1277.5px;width:3000px;text-align:center;top:4366.6px;font-size:27px;font-weight:400;color:#111;-webkit-text-stroke:0.6px #111;"><span style="display:inline-block;transform:scaleX(1.02);transform-origin:center;">13 km</span></div>
<svg class=s style="left:151.0px;top:4374.5px;" width="26" height="12" viewBox="0 0 26 12"><path d='M1 6 H25' stroke='#111' stroke-width='2'/><path d='M0 6 L8 1.5 L8 10.5 Z' fill='#111'/></svg>
<svg class=s style="left:267.0px;top:4374.5px;" width="26" height="12" viewBox="0 0 26 12"><path d='M0 6 H24' stroke='#111' stroke-width='2'/><path d='M26 6 L18 1.5 L18 10.5 Z' fill='#111'/></svg>
<div class=r style="left:35.0px;top:4428.0px;width:375.0px;height:2.5px;background:#222;"></div>
<div class=r style="left:35.0px;top:4430.5px;width:185.0px;height:56.5px;background:#77c2ea;"></div>
<div class=r style="left:35.0px;top:4487.0px;width:185.0px;height:37.0px;background:#e9e9e9;"></div>
<div class=r style="left:35.0px;top:4524.0px;width:185.0px;height:38.5px;background:#d0d0d0;"></div>
<svg class=s style="left:36.5px;top:4430.5px;" width="47" height="64" viewBox="0 0 47 64"><polygon points='0,0 47,0 47,57 23.5,63.5 0,57' fill='#2499d9'/><rect x='9.6' y='11.2' width='29.9' height='33' rx='5.5' fill='#fff'/><rect x='19.5' y='13.6' width='10' height='2.2' rx='1' fill='#2499d9'/><rect x='12' y='18.5' width='24.7' height='14.8' rx='1' fill='#2499d9'/><circle cx='14.6' cy='38.6' r='2.1' fill='#2499d9'/><circle cx='34.5' cy='38.6' r='2.1' fill='#2499d9'/><rect x='9.6' y='42' width='9' height='6.5' rx='2.2' fill='#fff'/><rect x='30.5' y='42' width='9' height='6.5' rx='2.2' fill='#fff'/><rect x='4.1' y='20.5' width='3.2' height='8' rx='1.4' fill='#fff'/><rect x='41.8' y='20.5' width='3.2' height='8' rx='1.4' fill='#fff'/></svg>
<div class=t style="left:-1350.0px;width:3000px;text-align:center;top:4439.8px;font-size:18px;font-weight:400;color:#fff;"><span style="display:inline-block;transform:scaleX(1.16);transform-origin:center;">Öffentliche</span></div>
<div class=t style="left:-1350.0px;width:3000px;text-align:center;top:4459.8px;font-size:18px;font-weight:400;color:#fff;"><span style="display:inline-block;transform:scaleX(1.125);transform-origin:center;">Verkehrsmittel</span></div>
<svg class=s style="left:52.5px;top:4498.5px;" width="16" height="16" viewBox="0 0 16 16"><rect x='1' y='0.5' width='14' height='2.2' fill='#4a4a4a'/><rect x='1' y='13.3' width='14' height='2.2' fill='#4a4a4a'/><path d='M2.5 2.7 H13.5 L9.2 8 L13.5 13.3 H2.5 L6.8 8 Z' fill='none' stroke='#4a4a4a' stroke-width='1.6'/><path d='M5 12.4 L8 9.6 L11 12.4 Z' fill='#4a4a4a'/></svg>
<svg class=s style="left:49.5px;top:4536.0px;" width="21" height="15" viewBox="0 0 21 15"><rect x='1' y='1' width='19' height='13' rx='1.6' fill='none' stroke='#4a4a4a' stroke-width='1.8'/><rect x='1' y='4' width='19' height='3' fill='#4a4a4a'/><rect x='3.5' y='10' width='3' height='1.4' fill='#4a4a4a'/><rect x='7.5' y='10' width='3' height='1.4' fill='#4a4a4a'/></svg>
<div class=t style="left:-1352.0px;width:3000px;text-align:center;top:4490.8px;font-size:28px;font-weight:400;color:#111;-webkit-text-stroke:0.6px #111;"><span style="display:inline-block;transform:scaleX(1.074);transform-origin:center;">22 Min.</span></div>
<div class=t style="left:-1352.0px;width:3000px;text-align:center;top:4525.8px;font-size:28px;font-weight:400;color:#111;-webkit-text-stroke:0.6px #111;"><span style="display:inline-block;transform:scaleX(1.031);transform-origin:center;">€ 3,20</span></div>
<div class=r style="left:224.5px;top:4430.5px;width:185.5px;height:56.5px;background:#77c2ea;"></div>
<div class=r style="left:224.5px;top:4487.0px;width:185.5px;height:37.0px;background:#e9e9e9;"></div>
<div class=r style="left:224.5px;top:4524.0px;width:185.5px;height:38.5px;background:#d0d0d0;"></div>
<svg class=s style="left:226.0px;top:4430.5px;" width="47" height="64" viewBox="0 0 47 64"><polygon points='0,0 47,0 47,57 23.5,63.5 0,57' fill='#2499d9'/><g transform='translate(0 3.5)'><rect x='16' y='9.5' width='15' height='6' rx='1' fill='#fff'/><text x='23.5' y='14.6' font-size='4.8' font-weight='700' text-anchor='middle' fill='#2499d9' font-family="Liberation Sans">TAXI</text><path d='M11 16 H36 L40.5 27 H6.5 Z' fill='#fff'/><path d='M14 19 H33 L35.6 26 H11.4 Z' fill='#2499d9'/><rect x='4.5' y='26' width='38' height='15' rx='4' fill='#fff'/><rect x='7.5' y='39' width='8' height='7' rx='2' fill='#fff'/><rect x='31.5' y='39' width='8' height='7' rx='2' fill='#fff'/><rect x='8.5' y='30' width='6.5' height='4' rx='2' fill='#2499d9'/><rect x='32' y='30' width='6.5' height='4' rx='2' fill='#2499d9'/><rect x='3' y='25' width='4' height='3' rx='1' fill='#fff'/><rect x='40' y='25' width='4' height='3' rx='1' fill='#fff'/></g></svg>
<div class=t style="left:-1155.0px;width:3000px;text-align:center;top:4459.8px;font-size:18px;font-weight:400;color:#fff;"><span style="display:inline-block;transform:scaleX(1.125);transform-origin:center;">Taxi</span></div>
<svg class=s style="left:242.0px;top:4498.5px;" width="16" height="16" viewBox="0 0 16 16"><rect x='1' y='0.5' width='14' height='2.2' fill='#4a4a4a'/><rect x='1' y='13.3' width='14' height='2.2' fill='#4a4a4a'/><path d='M2.5 2.7 H13.5 L9.2 8 L13.5 13.3 H2.5 L6.8 8 Z' fill='none' stroke='#4a4a4a' stroke-width='1.6'/><path d='M5 12.4 L8 9.6 L11 12.4 Z' fill='#4a4a4a'/></svg>
<svg class=s style="left:239.0px;top:4536.0px;" width="21" height="15" viewBox="0 0 21 15"><rect x='1' y='1' width='19' height='13' rx='1.6' fill='none' stroke='#4a4a4a' stroke-width='1.8'/><rect x='1' y='4' width='19' height='3' fill='#4a4a4a'/><rect x='3.5' y='10' width='3' height='1.4' fill='#4a4a4a'/><rect x='7.5' y='10' width='3' height='1.4' fill='#4a4a4a'/></svg>
<div class=t style="left:-1157.0px;width:3000px;text-align:center;top:4490.8px;font-size:28px;font-weight:400;color:#111;-webkit-text-stroke:0.6px #111;"><span style="display:inline-block;transform:scaleX(1.074);transform-origin:center;">19 Min.</span></div>
<div class=t style="left:-1157.0px;width:3000px;text-align:center;top:4525.8px;font-size:28px;font-weight:400;color:#111;-webkit-text-stroke:0.6px #111;"><span style="display:inline-block;transform:scaleX(1.031);transform-origin:center;">€ 15,00</span></div>
<div class=r style="left:220.0px;top:4430.5px;width:4.5px;height:132.0px;background:#ffffff;"></div>
<div class=r style="left:436.5px;top:4152.5px;width:377.0px;height:415.0px;background:#c4c4c4;border-radius:0 0 22px 22px;box-shadow:0 3px 4px rgba(0,0,0,0.12);"></div>
<div class=r style="left:437.5px;top:4152.5px;width:375.0px;height:86.5px;background:#333333;"></div>
<svg class=s style="left:447.5px;top:4164.5px;" width="60" height="60" viewBox="0 0 60 60"><g transform='translate(29.5 29.5) rotate(45) scale(0.95)'><path d='M0,-23 C3,-23 4.5,-20 4.5,-17 L4.5,-8.5 L24,6.4 L4.5,2 L4.5,14 L10.5,20.5 L10.5,23 L0,20 L-10.5,23 L-10.5,20.5 L-4.5,14 L-4.5,2 L-24,6.4 L-4.5,-8.5 L-4.5,-17 C-4.5,-20 -3,-23 0,-23 Z' fill='#fff'/></g></svg>
<div class=t style="left:519.5px;top:4189.7px;font-size:39px;font-weight:700;color:#fff;-webkit-text-stroke:0.8px #fff;"><span style="display:inline-block;transform:scaleX(0.85);transform-origin:left;">Innsbruck</span></div>
<div class=r style="left:437.5px;top:4239.0px;width:375.0px;height:189.0px;background:#ffffff;"></div>
<svg class=s style="left:462.5px;top:4257.0px;" width="84" height="130" viewBox="0 0 84 130"><rect x='49' y='14' width='7' height='4' rx='2' fill='#d0d0d0'/><rect x='38.5' y='18' width='28' height='2.6' fill='#1e1e1e'/><polygon points='41,20.6 64,20.6 62.5,31 42.5,31' fill='#dcdcdc'/><rect x='35' y='31' width='35' height='3' fill='#1e1e1e'/><polygon points='39,34 67,34 65,46 41,46' fill='#dcdcdc'/><rect x='43.5' y='37' width='3.2' height='3.5' fill='#b0b0b0'/><rect x='49.5' y='37' width='3.2' height='3.5' fill='#b0b0b0'/><rect x='55.5' y='37' width='3.2' height='3.5' fill='#b0b0b0'/><rect x='61' y='37' width='3.2' height='3.5' fill='#b0b0b0'/><rect x='45.6' y='46' width='7.2' height='53' fill='#d9d9d9'/><rect x='52.8' y='46' width='7.2' height='53' fill='#bdbdbd'/><rect x='0' y='99' width='83.5' height='3.4' fill='#1e1e1e'/><rect x='2.6' y='102.4' width='77.4' height='22' fill='#e2e2e2'/><rect x='21' y='104' width='43' height='20' fill='#cfcfcf'/><rect x='24' y='111.5' width='36' height='1.6' fill='#333'/><rect x='67' y='106' width='8' height='18' fill='#444'/><rect x='69' y='109' width='4' height='5' fill='#eee'/><rect x='0' y='124' width='18.5' height='5' fill='#4a4a4a'/><rect x='18.5' y='124' width='17' height='5' fill='#cfcfcf'/><rect x='35.5' y='124' width='16' height='5' fill='#4a4a4a'/><rect x='51.5' y='124' width='17' height='5' fill='#cfcfcf'/><rect x='68.5' y='124' width='15' height='5' fill='#4a4a4a'/></svg>
<svg class=s style="left:711.5px;top:4271.0px;" width="80" height="116" viewBox="0 0 80 116"><rect x='53.4' y='6' width='14.4' height='34' rx='1.5' fill='#cacaca'/><rect x='55' y='38' width='18' height='72' fill='#cdcdcd'/><polygon points='27,36.5 55,32 55,110 27,110' fill='#e9e9e9'/><rect x='27' y='40.0' width='28' height='1.4' fill='#c4c4c4'/><rect x='27' y='45.3' width='28' height='1.4' fill='#c4c4c4'/><rect x='27' y='50.6' width='28' height='1.4' fill='#c4c4c4'/><rect x='27' y='55.9' width='28' height='1.4' fill='#c4c4c4'/><rect x='27' y='61.2' width='28' height='1.4' fill='#c4c4c4'/><rect x='27' y='66.5' width='28' height='1.4' fill='#c4c4c4'/><rect x='27' y='71.8' width='28' height='1.4' fill='#c4c4c4'/><rect x='27' y='77.1' width='28' height='1.4' fill='#c4c4c4'/><rect x='27' y='82.4' width='28' height='1.4' fill='#c4c4c4'/><rect x='27' y='87.7' width='28' height='1.4' fill='#c4c4c4'/><rect x='27' y='93.0' width='28' height='1.4' fill='#c4c4c4'/><rect x='27' y='98.3' width='28' height='1.4' fill='#c4c4c4'/><rect x='27' y='103.6' width='28' height='1.4' fill='#c4c4c4'/><rect x='40.5' y='37' width='1' height='73' fill='#d0d0d0'/><rect x='8' y='0' width='15' height='36' rx='2' fill='#808080'/><rect x='2.5' y='35' width='24.5' height='75' rx='2' fill='#808080'/><circle cx='12.5' cy='6.0' r='1.6' fill='#f2f2f2'/><circle cx='18.0' cy='6.0' r='1.6' fill='#f2f2f2'/><circle cx='12.5' cy='12.3' r='1.6' fill='#f2f2f2'/><circle cx='18.0' cy='12.3' r='1.6' fill='#f2f2f2'/><circle cx='12.5' cy='18.6' r='1.6' fill='#f2f2f2'/><circle cx='18.0' cy='18.6' r='1.6' fill='#f2f2f2'/><circle cx='12.5' cy='24.9' r='1.6' fill='#f2f2f2'/><circle cx='18.0' cy='24.9' r='1.6' fill='#f2f2f2'/><circle cx='12.5' cy='31.2' r='1.6' fill='#f2f2f2'/><circle cx='18.0' cy='31.2' r='1.6' fill='#f2f2f2'/><circle cx='7.0' cy='41.0' r='1.6' fill='#f2f2f2'/><circle cx='12.6' cy='41.0' r='1.6' fill='#f2f2f2'/><circle cx='18.2' cy='41.0' r='1.6' fill='#f2f2f2'/><circle cx='23.8' cy='41.0' r='1.6' fill='#f2f2f2'/><circle cx='7.0' cy='46.6' r='1.6' fill='#f2f2f2'/><circle cx='12.6' cy='46.6' r='1.6' fill='#f2f2f2'/><circle cx='18.2' cy='46.6' r='1.6' fill='#f2f2f2'/><circle cx='23.8' cy='46.6' r='1.6' fill='#f2f2f2'/><circle cx='7.0' cy='52.2' r='1.6' fill='#f2f2f2'/><circle cx='12.6' cy='52.2' r='1.6' fill='#f2f2f2'/><circle cx='18.2' cy='52.2' r='1.6' fill='#f2f2f2'/><circle cx='23.8' cy='52.2' r='1.6' fill='#f2f2f2'/><circle cx='7.0' cy='57.8' r='1.6' fill='#f2f2f2'/><circle cx='12.6' cy='57.8' r='1.6' fill='#f2f2f2'/><circle cx='18.2' cy='57.8' r='1.6' fill='#f2f2f2'/><circle cx='23.8' cy='57.8' r='1.6' fill='#f2f2f2'/><circle cx='7.0' cy='63.4' r='1.6' fill='#f2f2f2'/><circle cx='12.6' cy='63.4' r='1.6' fill='#f2f2f2'/><circle cx='18.2' cy='63.4' r='1.6' fill='#f2f2f2'/><circle cx='23.8' cy='63.4' r='1.6' fill='#f2f2f2'/><circle cx='7.0' cy='69.0' r='1.6' fill='#f2f2f2'/><circle cx='12.6' cy='69.0' r='1.6' fill='#f2f2f2'/><circle cx='18.2' cy='69.0' r='1.6' fill='#f2f2f2'/><circle cx='23.8' cy='69.0' r='1.6' fill='#f2f2f2'/><circle cx='7.0' cy='74.6' r='1.6' fill='#f2f2f2'/><circle cx='12.6' cy='74.6' r='1.6' fill='#f2f2f2'/><circle cx='18.2' cy='74.6' r='1.6' fill='#f2f2f2'/><circle cx='23.8' cy='74.6' r='1.6' fill='#f2f2f2'/><circle cx='7.0' cy='80.2' r='1.6' fill='#f2f2f2'/><circle cx='12.6' cy='80.2' r='1.6' fill='#f2f2f2'/><circle cx='18.2' cy='80.2' r='1.6' fill='#f2f2f2'/><circle cx='23.8' cy='80.2' r='1.6' fill='#f2f2f2'/><circle cx='7.0' cy='85.8' r='1.6' fill='#f2f2f2'/><circle cx='12.6' cy='85.8' r='1.6' fill='#f2f2f2'/><circle cx='18.2' cy='85.8' r='1.6' fill='#f2f2f2'/><circle cx='23.8' cy='85.8' r='1.6' fill='#f2f2f2'/><circle cx='7.0' cy='91.4' r='1.6' fill='#f2f2f2'/><circle cx='12.6' cy='91.4' r='1.6' fill='#f2f2f2'/><circle cx='18.2' cy='91.4' r='1.6' fill='#f2f2f2'/><circle cx='23.8' cy='91.4' r='1.6' fill='#f2f2f2'/><circle cx='7.0' cy='97.0' r='1.6' fill='#f2f2f2'/><circle cx='12.6' cy='97.0' r='1.6' fill='#f2f2f2'/><circle cx='18.2' cy='97.0' r='1.6' fill='#f2f2f2'/><circle cx='23.8' cy='97.0' r='1.6' fill='#f2f2f2'/><circle cx='7.0' cy='102.6' r='1.6' fill='#f2f2f2'/><circle cx='12.6' cy='102.6' r='1.6' fill='#f2f2f2'/><circle cx='18.2' cy='102.6' r='1.6' fill='#f2f2f2'/><circle cx='23.8' cy='102.6' r='1.6' fill='#f2f2f2'/><circle cx='58.5' cy='44.0' r='1.4' fill='#eaeaea'/><circle cx='63.5' cy='44.0' r='1.4' fill='#eaeaea'/><circle cx='68.5' cy='44.0' r='1.4' fill='#eaeaea'/><circle cx='58.5' cy='49.6' r='1.4' fill='#eaeaea'/><circle cx='63.5' cy='49.6' r='1.4' fill='#eaeaea'/><circle cx='68.5' cy='49.6' r='1.4' fill='#eaeaea'/><circle cx='58.5' cy='55.2' r='1.4' fill='#eaeaea'/><circle cx='63.5' cy='55.2' r='1.4' fill='#eaeaea'/><circle cx='68.5' cy='55.2' r='1.4' fill='#eaeaea'/><circle cx='58.5' cy='60.8' r='1.4' fill='#eaeaea'/><circle cx='63.5' cy='60.8' r='1.4' fill='#eaeaea'/><circle cx='68.5' cy='60.8' r='1.4' fill='#eaeaea'/><circle cx='58.5' cy='66.4' r='1.4' fill='#eaeaea'/><circle cx='63.5' cy='66.4' r='1.4' fill='#eaeaea'/><circle cx='68.5' cy='66.4' r='1.4' fill='#eaeaea'/><circle cx='58.5' cy='72.0' r='1.4' fill='#eaeaea'/><circle cx='63.5' cy='72.0' r='1.4' fill='#eaeaea'/><circle cx='68.5' cy='72.0' r='1.4' fill='#eaeaea'/><circle cx='58.5' cy='77.6' r='1.4' fill='#eaeaea'/><circle cx='63.5' cy='77.6' r='1.4' fill='#eaeaea'/><circle cx='68.5' cy='77.6' r='1.4' fill='#eaeaea'/><circle cx='58.5' cy='83.2' r='1.4' fill='#eaeaea'/><circle cx='63.5' cy='83.2' r='1.4' fill='#eaeaea'/><circle cx='68.5' cy='83.2' r='1.4' fill='#eaeaea'/><circle cx='58.5' cy='88.8' r='1.4' fill='#eaeaea'/><circle cx='63.5' cy='88.8' r='1.4' fill='#eaeaea'/><circle cx='68.5' cy='88.8' r='1.4' fill='#eaeaea'/><circle cx='58.5' cy='94.4' r='1.4' fill='#eaeaea'/><circle cx='63.5' cy='94.4' r='1.4' fill='#eaeaea'/><circle cx='68.5' cy='94.4' r='1.4' fill='#eaeaea'/><circle cx='58.5' cy='100.0' r='1.4' fill='#eaeaea'/><circle cx='63.5' cy='100.0' r='1.4' fill='#eaeaea'/><circle cx='68.5' cy='100.0' r='1.4' fill='#eaeaea'/><circle cx='58.5' cy='105.6' r='1.4' fill='#eaeaea'/><circle cx='63.5' cy='105.6' r='1.4' fill='#eaeaea'/><circle cx='68.5' cy='105.6' r='1.4' fill='#eaeaea'/><circle cx='57.5' cy='11.0' r='1.4' fill='#eaeaea'/><circle cx='62.5' cy='11.0' r='1.4' fill='#eaeaea'/><circle cx='57.5' cy='16.6' r='1.4' fill='#eaeaea'/><circle cx='62.5' cy='16.6' r='1.4' fill='#eaeaea'/><circle cx='57.5' cy='22.2' r='1.4' fill='#eaeaea'/><circle cx='62.5' cy='22.2' r='1.4' fill='#eaeaea'/><circle cx='57.5' cy='27.8' r='1.4' fill='#eaeaea'/><circle cx='62.5' cy='27.8' r='1.4' fill='#eaeaea'/><circle cx='57.5' cy='33.4' r='1.4' fill='#eaeaea'/><circle cx='62.5' cy='33.4' r='1.4' fill='#eaeaea'/><rect x='75' y='99' width='2' height='11' fill='#777'/><rect x='0' y='110' width='18' height='5' fill='#4a4a4a'/><rect x='18' y='110' width='16' height='5' fill='#cfcfcf'/><rect x='34' y='110' width='16' height='5' fill='#4a4a4a'/><rect x='50' y='110' width='16' height='5' fill='#cfcfcf'/><rect x='66' y='110' width='13' height='5' fill='#4a4a4a'/></svg>
<div class=t style="left:-875.0px;width:3000px;text-align:center;top:4306.2px;font-size:17.2px;font-weight:400;color:#111;"><span style="display:inline-block;transform:scaleX(1.19);transform-origin:center;">Entfernung zum</span></div>
<div class=t style="left:-875.0px;width:3000px;text-align:center;top:4326.4px;font-size:17.2px;font-weight:400;color:#111;"><span style="display:inline-block;transform:scaleX(1.187);transform-origin:center;">Stadtzentrum</span></div>
<div class=t style="left:-875.0px;width:3000px;text-align:center;top:4366.6px;font-size:27px;font-weight:400;color:#111;-webkit-text-stroke:0.6px #111;"><span style="display:inline-block;transform:scaleX(1.02);transform-origin:center;">4 km</span></div>
<svg class=s style="left:553.5px;top:4374.5px;" width="26" height="12" viewBox="0 0 26 12"><path d='M1 6 H25' stroke='#111' stroke-width='2'/><path d='M0 6 L8 1.5 L8 10.5 Z' fill='#111'/></svg>
<svg class=s style="left:669.5px;top:4374.5px;" width="26" height="12" viewBox="0 0 26 12"><path d='M0 6 H24' stroke='#111' stroke-width='2'/><path d='M26 6 L18 1.5 L18 10.5 Z' fill='#111'/></svg>
<div class=r style="left:437.5px;top:4428.0px;width:375.0px;height:2.5px;background:#222;"></div>
<div class=r style="left:437.5px;top:4430.5px;width:185.0px;height:56.5px;background:#77c2ea;"></div>
<div class=r style="left:437.5px;top:4487.0px;width:185.0px;height:37.0px;background:#e9e9e9;"></div>
<div class=r style="left:437.5px;top:4524.0px;width:185.0px;height:38.5px;background:#d0d0d0;"></div>
<svg class=s style="left:439.0px;top:4430.5px;" width="47" height="64" viewBox="0 0 47 64"><polygon points='0,0 47,0 47,57 23.5,63.5 0,57' fill='#2499d9'/><rect x='9.6' y='11.2' width='29.9' height='33' rx='5.5' fill='#fff'/><rect x='19.5' y='13.6' width='10' height='2.2' rx='1' fill='#2499d9'/><rect x='12' y='18.5' width='24.7' height='14.8' rx='1' fill='#2499d9'/><circle cx='14.6' cy='38.6' r='2.1' fill='#2499d9'/><circle cx='34.5' cy='38.6' r='2.1' fill='#2499d9'/><rect x='9.6' y='42' width='9' height='6.5' rx='2.2' fill='#fff'/><rect x='30.5' y='42' width='9' height='6.5' rx='2.2' fill='#fff'/><rect x='4.1' y='20.5' width='3.2' height='8' rx='1.4' fill='#fff'/><rect x='41.8' y='20.5' width='3.2' height='8' rx='1.4' fill='#fff'/></svg>
<div class=t style="left:-947.5px;width:3000px;text-align:center;top:4439.8px;font-size:18px;font-weight:400;color:#fff;"><span style="display:inline-block;transform:scaleX(1.16);transform-origin:center;">Öffentliche</span></div>
<div class=t style="left:-947.5px;width:3000px;text-align:center;top:4459.8px;font-size:18px;font-weight:400;color:#fff;"><span style="display:inline-block;transform:scaleX(1.125);transform-origin:center;">Verkehrsmittel</span></div>
<svg class=s style="left:455.0px;top:4498.5px;" width="16" height="16" viewBox="0 0 16 16"><rect x='1' y='0.5' width='14' height='2.2' fill='#4a4a4a'/><rect x='1' y='13.3' width='14' height='2.2' fill='#4a4a4a'/><path d='M2.5 2.7 H13.5 L9.2 8 L13.5 13.3 H2.5 L6.8 8 Z' fill='none' stroke='#4a4a4a' stroke-width='1.6'/><path d='M5 12.4 L8 9.6 L11 12.4 Z' fill='#4a4a4a'/></svg>
<svg class=s style="left:452.0px;top:4536.0px;" width="21" height="15" viewBox="0 0 21 15"><rect x='1' y='1' width='19' height='13' rx='1.6' fill='none' stroke='#4a4a4a' stroke-width='1.8'/><rect x='1' y='4' width='19' height='3' fill='#4a4a4a'/><rect x='3.5' y='10' width='3' height='1.4' fill='#4a4a4a'/><rect x='7.5' y='10' width='3' height='1.4' fill='#4a4a4a'/></svg>
<div class=t style="left:-949.5px;width:3000px;text-align:center;top:4490.8px;font-size:28px;font-weight:400;color:#111;-webkit-text-stroke:0.6px #111;"><span style="display:inline-block;transform:scaleX(1.074);transform-origin:center;">16 Min.</span></div>
<div class=t style="left:-949.5px;width:3000px;text-align:center;top:4525.8px;font-size:28px;font-weight:400;color:#111;-webkit-text-stroke:0.6px #111;"><span style="display:inline-block;transform:scaleX(1.031);transform-origin:center;">€ 1,80</span></div>
<div class=r style="left:627.0px;top:4430.5px;width:185.5px;height:56.5px;background:#77c2ea;"></div>
<div class=r style="left:627.0px;top:4487.0px;width:185.5px;height:37.0px;background:#e9e9e9;"></div>
<div class=r style="left:627.0px;top:4524.0px;width:185.5px;height:38.5px;background:#d0d0d0;"></div>
<svg class=s style="left:628.5px;top:4430.5px;" width="47" height="64" viewBox="0 0 47 64"><polygon points='0,0 47,0 47,57 23.5,63.5 0,57' fill='#2499d9'/><g transform='translate(0 3.5)'><rect x='16' y='9.5' width='15' height='6' rx='1' fill='#fff'/><text x='23.5' y='14.6' font-size='4.8' font-weight='700' text-anchor='middle' fill='#2499d9' font-family="Liberation Sans">TAXI</text><path d='M11 16 H36 L40.5 27 H6.5 Z' fill='#fff'/><path d='M14 19 H33 L35.6 26 H11.4 Z' fill='#2499d9'/><rect x='4.5' y='26' width='38' height='15' rx='4' fill='#fff'/><rect x='7.5' y='39' width='8' height='7' rx='2' fill='#fff'/><rect x='31.5' y='39' width='8' height='7' rx='2' fill='#fff'/><rect x='8.5' y='30' width='6.5' height='4' rx='2' fill='#2499d9'/><rect x='32' y='30' width='6.5' height='4' rx='2' fill='#2499d9'/><rect x='3' y='25' width='4' height='3' rx='1' fill='#fff'/><rect x='40' y='25' width='4' height='3' rx='1' fill='#fff'/></g></svg>
<div class=t style="left:-752.5px;width:3000px;text-align:center;top:4459.8px;font-size:18px;font-weight:400;color:#fff;"><span style="display:inline-block;transform:scaleX(1.125);transform-origin:center;">Taxi</span></div>
<svg class=s style="left:644.5px;top:4498.5px;" width="16" height="16" viewBox="0 0 16 16"><rect x='1' y='0.5' width='14' height='2.2' fill='#4a4a4a'/><rect x='1' y='13.3' width='14' height='2.2' fill='#4a4a4a'/><path d='M2.5 2.7 H13.5 L9.2 8 L13.5 13.3 H2.5 L6.8 8 Z' fill='none' stroke='#4a4a4a' stroke-width='1.6'/><path d='M5 12.4 L8 9.6 L11 12.4 Z' fill='#4a4a4a'/></svg>
<svg class=s style="left:641.5px;top:4536.0px;" width="21" height="15" viewBox="0 0 21 15"><rect x='1' y='1' width='19' height='13' rx='1.6' fill='none' stroke='#4a4a4a' stroke-width='1.8'/><rect x='1' y='4' width='19' height='3' fill='#4a4a4a'/><rect x='3.5' y='10' width='3' height='1.4' fill='#4a4a4a'/><rect x='7.5' y='10' width='3' height='1.4' fill='#4a4a4a'/></svg>
<div class=t style="left:-754.5px;width:3000px;text-align:center;top:4490.8px;font-size:28px;font-weight:400;color:#111;-webkit-text-stroke:0.6px #111;"><span style="display:inline-block;transform:scaleX(1.074);transform-origin:center;">15 Min.</span></div>
<div class=t style="left:-754.5px;width:3000px;text-align:center;top:4525.8px;font-size:28px;font-weight:400;color:#111;-webkit-text-stroke:0.6px #111;"><span style="display:inline-block;transform:scaleX(1.031);transform-origin:center;">€ 10,00</span></div>
<div class=r style="left:622.5px;top:4430.5px;width:4.5px;height:132.0px;background:#ffffff;"></div>
<div class=r style="left:839.0px;top:4152.5px;width:377.0px;height:415.0px;background:#c4c4c4;border-radius:0 0 22px 22px;box-shadow:0 3px 4px rgba(0,0,0,0.12);"></div>
<div class=r style="left:840.0px;top:4152.5px;width:375.0px;height:86.5px;background:#333333;"></div>
<svg class=s style="left:850.0px;top:4164.5px;" width="60" height="60" viewBox="0 0 60 60"><g transform='translate(29.5 29.5) rotate(45) scale(0.95)'><path d='M0,-23 C3,-23 4.5,-20 4.5,-17 L4.5,-8.5 L24,6.4 L4.5,2 L4.5,14 L10.5,20.5 L10.5,23 L0,20 L-10.5,23 L-10.5,20.5 L-4.5,14 L-4.5,2 L-24,6.4 L-4.5,-8.5 L-4.5,-17 C-4.5,-20 -3,-23 0,-23 Z' fill='#fff'/></g></svg>
<div class=t style="left:922.0px;top:4189.7px;font-size:39px;font-weight:700;color:#fff;-webkit-text-stroke:0.8px #fff;"><span style="display:inline-block;transform:scaleX(0.85);transform-origin:left;">Klagenfurt</span></div>
<div class=r style="left:840.0px;top:4239.0px;width:375.0px;height:189.0px;background:#ffffff;"></div>
<svg class=s style="left:865.0px;top:4257.0px;" width="84" height="130" viewBox="0 0 84 130"><rect x='49' y='14' width='7' height='4' rx='2' fill='#d0d0d0'/><rect x='38.5' y='18' width='28' height='2.6' fill='#1e1e1e'/><polygon points='41,20.6 64,20.6 62.5,31 42.5,31' fill='#dcdcdc'/><rect x='35' y='31' width='35' height='3' fill='#1e1e1e'/><polygon points='39,34 67,34 65,46 41,46' fill='#dcdcdc'/><rect x='43.5' y='37' width='3.2' height='3.5' fill='#b0b0b0'/><rect x='49.5' y='37' width='3.2' height='3.5' fill='#b0b0b0'/><rect x='55.5' y='37' width='3.2' height='3.5' fill='#b0b0b0'/><rect x='61' y='37' width='3.2' height='3.5' fill='#b0b0b0'/><rect x='45.6' y='46' width='7.2' height='53' fill='#d9d9d9'/><rect x='52.8' y='46' width='7.2' height='53' fill='#bdbdbd'/><rect x='0' y='99' width='83.5' height='3.4' fill='#1e1e1e'/><rect x='2.6' y='102.4' width='77.4' height='22' fill='#e2e2e2'/><rect x='21' y='104' width='43' height='20' fill='#cfcfcf'/><rect x='24' y='111.5' width='36' height='1.6' fill='#333'/><rect x='67' y='106' width='8' height='18' fill='#444'/><rect x='69' y='109' width='4' height='5' fill='#eee'/><rect x='0' y='124' width='18.5' height='5' fill='#4a4a4a'/><rect x='18.5' y='124' width='17' height='5' fill='#cfcfcf'/><rect x='35.5' y='124' width='16' height='5' fill='#4a4a4a'/><rect x='51.5' y='124' width='17' height='5' fill='#cfcfcf'/><rect x='68.5' y='124' width='15' height='5' fill='#4a4a4a'/></svg>
<svg class=s style="left:1114.0px;top:4271.0px;" width="80" height="116" viewBox="0 0 80 116"><rect x='53.4' y='6' width='14.4' height='34' rx='1.5' fill='#cacaca'/><rect x='55' y='38' width='18' height='72' fill='#cdcdcd'/><polygon points='27,36.5 55,32 55,110 27,110' fill='#e9e9e9'/><rect x='27' y='40.0' width='28' height='1.4' fill='#c4c4c4'/><rect x='27' y='45.3' width='28' height='1.4' fill='#c4c4c4'/><rect x='27' y='50.6' width='28' height='1.4' fill='#c4c4c4'/><rect x='27' y='55.9' width='28' height='1.4' fill='#c4c4c4'/><rect x='27' y='61.2' width='28' height='1.4' fill='#c4c4c4'/><rect x='27' y='66.5' width='28' height='1.4' fill='#c4c4c4'/><rect x='27' y='71.8' width='28' height='1.4' fill='#c4c4c4'/><rect x='27' y='77.1' width='28' height='1.4' fill='#c4c4c4'/><rect x='27' y='82.4' width='28' height='1.4' fill='#c4c4c4'/><rect x='27' y='87.7' width='28' height='1.4' fill='#c4c4c4'/><rect x='27' y='93.0' width='28' height='1.4' fill='#c4c4c4'/><rect x='27' y='98.3' width='28' height='1.4' fill='#c4c4c4'/><rect x='27' y='103.6' width='28' height='1.4' fill='#c4c4c4'/><rect x='40.5' y='37' width='1' height='73' fill='#d0d0d0'/><rect x='8' y='0' width='15' height='36' rx='2' fill='#808080'/><rect x='2.5' y='35' width='24.5' height='75' rx='2' fill='#808080'/><circle cx='12.5' cy='6.0' r='1.6' fill='#f2f2f2'/><circle cx='18.0' cy='6.0' r='1.6' fill='#f2f2f2'/><circle cx='12.5' cy='12.3' r='1.6' fill='#f2f2f2'/><circle cx='18.0' cy='12.3' r='1.6' fill='#f2f2f2'/><circle cx='12.5' cy='18.6' r='1.6' fill='#f2f2f2'/><circle cx='18.0' cy='18.6' r='1.6' fill='#f2f2f2'/><circle cx='12.5' cy='24.9' r='1.6' fill='#f2f2f2'/><circle cx='18.0' cy='24.9' r='1.6' fill='#f2f2f2'/><circle cx='12.5' cy='31.2' r='1.6' fill='#f2f2f2'/><circle cx='18.0' cy='31.2' r='1.6' fill='#f2f2f2'/><circle cx='7.0' cy='41.0' r='1.6' fill='#f2f2f2'/><circle cx='12.6' cy='41.0' r='1.6' fill='#f2f2f2'/><circle cx='18.2' cy='41.0' r='1.6' fill='#f2f2f2'/><circle cx='23.8' cy='41.0' r='1.6' fill='#f2f2f2'/><circle cx='7.0' cy='46.6' r='1.6' fill='#f2f2f2'/><circle cx='12.6' cy='46.6' r='1.6' fill='#f2f2f2'/><circle cx='18.2' cy='46.6' r='1.6' fill='#f2f2f2'/><circle cx='23.8' cy='46.6' r='1.6' fill='#f2f2f2'/><circle cx='7.0' cy='52.2' r='1.6' fill='#f2f2f2'/><circle cx='12.6' cy='52.2' r='1.6' fill='#f2f2f2'/><circle cx='18.2' cy='52.2' r='1.6' fill='#f2f2f2'/><circle cx='23.8' cy='52.2' r='1.6' fill='#f2f2f2'/><circle cx='7.0' cy='57.8' r='1.6' fill='#f2f2f2'/><circle cx='12.6' cy='57.8' r='1.6' fill='#f2f2f2'/><circle cx='18.2' cy='57.8' r='1.6' fill='#f2f2f2'/><circle cx='23.8' cy='57.8' r='1.6' fill='#f2f2f2'/><circle cx='7.0' cy='63.4' r='1.6' fill='#f2f2f2'/><circle cx='12.6' cy='63.4' r='1.6' fill='#f2f2f2'/><circle cx='18.2' cy='63.4' r='1.6' fill='#f2f2f2'/><circle cx='23.8' cy='63.4' r='1.6' fill='#f2f2f2'/><circle cx='7.0' cy='69.0' r='1.6' fill='#f2f2f2'/><circle cx='12.6' cy='69.0' r='1.6' fill='#f2f2f2'/><circle cx='18.2' cy='69.0' r='1.6' fill='#f2f2f2'/><circle cx='23.8' cy='69.0' r='1.6' fill='#f2f2f2'/><circle cx='7.0' cy='74.6' r='1.6' fill='#f2f2f2'/><circle cx='12.6' cy='74.6' r='1.6' fill='#f2f2f2'/><circle cx='18.2' cy='74.6' r='1.6' fill='#f2f2f2'/><circle cx='23.8' cy='74.6' r='1.6' fill='#f2f2f2'/><circle cx='7.0' cy='80.2' r='1.6' fill='#f2f2f2'/><circle cx='12.6' cy='80.2' r='1.6' fill='#f2f2f2'/><circle cx='18.2' cy='80.2' r='1.6' fill='#f2f2f2'/><circle cx='23.8' cy='80.2' r='1.6' fill='#f2f2f2'/><circle cx='7.0' cy='85.8' r='1.6' fill='#f2f2f2'/><circle cx='12.6' cy='85.8' r='1.6' fill='#f2f2f2'/><circle cx='18.2' cy='85.8' r='1.6' fill='#f2f2f2'/><circle cx='23.8' cy='85.8' r='1.6' fill='#f2f2f2'/><circle cx='7.0' cy='91.4' r='1.6' fill='#f2f2f2'/><circle cx='12.6' cy='91.4' r='1.6' fill='#f2f2f2'/><circle cx='18.2' cy='91.4' r='1.6' fill='#f2f2f2'/><circle cx='23.8' cy='91.4' r='1.6' fill='#f2f2f2'/><circle cx='7.0' cy='97.0' r='1.6' fill='#f2f2f2'/><circle cx='12.6' cy='97.0' r='1.6' fill='#f2f2f2'/><circle cx='18.2' cy='97.0' r='1.6' fill='#f2f2f2'/><circle cx='23.8' cy='97.0' r='1.6' fill='#f2f2f2'/><circle cx='7.0' cy='102.6' r='1.6' fill='#f2f2f2'/><circle cx='12.6' cy='102.6' r='1.6' fill='#f2f2f2'/><circle cx='18.2' cy='102.6' r='1.6' fill='#f2f2f2'/><circle cx='23.8' cy='102.6' r='1.6' fill='#f2f2f2'/><circle cx='58.5' cy='44.0' r='1.4' fill='#eaeaea'/><circle cx='63.5' cy='44.0' r='1.4' fill='#eaeaea'/><circle cx='68.5' cy='44.0' r='1.4' fill='#eaeaea'/><circle cx='58.5' cy='49.6' r='1.4' fill='#eaeaea'/><circle cx='63.5' cy='49.6' r='1.4' fill='#eaeaea'/><circle cx='68.5' cy='49.6' r='1.4' fill='#eaeaea'/><circle cx='58.5' cy='55.2' r='1.4' fill='#eaeaea'/><circle cx='63.5' cy='55.2' r='1.4' fill='#eaeaea'/><circle cx='68.5' cy='55.2' r='1.4' fill='#eaeaea'/><circle cx='58.5' cy='60.8' r='1.4' fill='#eaeaea'/><circle cx='63.5' cy='60.8' r='1.4' fill='#eaeaea'/><circle cx='68.5' cy='60.8' r='1.4' fill='#eaeaea'/><circle cx='58.5' cy='66.4' r='1.4' fill='#eaeaea'/><circle cx='63.5' cy='66.4' r='1.4' fill='#eaeaea'/><circle cx='68.5' cy='66.4' r='1.4' fill='#eaeaea'/><circle cx='58.5' cy='72.0' r='1.4' fill='#eaeaea'/><circle cx='63.5' cy='72.0' r='1.4' fill='#eaeaea'/><circle cx='68.5' cy='72.0' r='1.4' fill='#eaeaea'/><circle cx='58.5' cy='77.6' r='1.4' fill='#eaeaea'/><circle cx='63.5' cy='77.6' r='1.4' fill='#eaeaea'/><circle cx='68.5' cy='77.6' r='1.4' fill='#eaeaea'/><circle cx='58.5' cy='83.2' r='1.4' fill='#eaeaea'/><circle cx='63.5' cy='83.2' r='1.4' fill='#eaeaea'/><circle cx='68.5' cy='83.2' r='1.4' fill='#eaeaea'/><circle cx='58.5' cy='88.8' r='1.4' fill='#eaeaea'/><circle cx='63.5' cy='88.8' r='1.4' fill='#eaeaea'/><circle cx='68.5' cy='88.8' r='1.4' fill='#eaeaea'/><circle cx='58.5' cy='94.4' r='1.4' fill='#eaeaea'/><circle cx='63.5' cy='94.4' r='1.4' fill='#eaeaea'/><circle cx='68.5' cy='94.4' r='1.4' fill='#eaeaea'/><circle cx='58.5' cy='100.0' r='1.4' fill='#eaeaea'/><circle cx='63.5' cy='100.0' r='1.4' fill='#eaeaea'/><circle cx='68.5' cy='100.0' r='1.4' fill='#eaeaea'/><circle cx='58.5' cy='105.6' r='1.4' fill='#eaeaea'/><circle cx='63.5' cy='105.6' r='1.4' fill='#eaeaea'/><circle cx='68.5' cy='105.6' r='1.4' fill='#eaeaea'/><circle cx='57.5' cy='11.0' r='1.4' fill='#eaeaea'/><circle cx='62.5' cy='11.0' r='1.4' fill='#eaeaea'/><circle cx='57.5' cy='16.6' r='1.4' fill='#eaeaea'/><circle cx='62.5' cy='16.6' r='1.4' fill='#eaeaea'/><circle cx='57.5' cy='22.2' r='1.4' fill='#eaeaea'/><circle cx='62.5' cy='22.2' r='1.4' fill='#eaeaea'/><circle cx='57.5' cy='27.8' r='1.4' fill='#eaeaea'/><circle cx='62.5' cy='27.8' r='1.4' fill='#eaeaea'/><circle cx='57.5' cy='33.4' r='1.4' fill='#eaeaea'/><circle cx='62.5' cy='33.4' r='1.4' fill='#eaeaea'/><rect x='75' y='99' width='2' height='11' fill='#777'/><rect x='0' y='110' width='18' height='5' fill='#4a4a4a'/><rect x='18' y='110' width='16' height='5' fill='#cfcfcf'/><rect x='34' y='110' width='16' height='5' fill='#4a4a4a'/><rect x='50' y='110' width='16' height='5' fill='#cfcfcf'/><rect x='66' y='110' width='13' height='5' fill='#4a4a4a'/></svg>
<div class=t style="left:-472.5px;width:3000px;text-align:center;top:4306.2px;font-size:17.2px;font-weight:400;color:#111;"><span style="display:inline-block;transform:scaleX(1.19);transform-origin:center;">Entfernung zum</span></div>
<div class=t style="left:-472.5px;width:3000px;text-align:center;top:4326.4px;font-size:17.2px;font-weight:400;color:#111;"><span style="display:inline-block;transform:scaleX(1.187);transform-origin:center;">Stadtzentrum</span></div>
<div class=t style="left:-472.5px;width:3000px;text-align:center;top:4366.6px;font-size:27px;font-weight:400;color:#111;-webkit-text-stroke:0.6px #111;"><span style="display:inline-block;transform:scaleX(1.02);transform-origin:center;">4 km</span></div>
<svg class=s style="left:956.0px;top:4374.5px;" width="26" height="12" viewBox="0 0 26 12"><path d='M1 6 H25' stroke='#111' stroke-width='2'/><path d='M0 6 L8 1.5 L8 10.5 Z' fill='#111'/></svg>
<svg class=s style="left:1072.0px;top:4374.5px;" width="26" height="12" viewBox="0 0 26 12"><path d='M0 6 H24' stroke='#111' stroke-width='2'/><path d='M26 6 L18 1.5 L18 10.5 Z' fill='#111'/></svg>
<div class=r style="left:840.0px;top:4428.0px;width:375.0px;height:2.5px;background:#222;"></div>
<div class=r style="left:840.0px;top:4430.5px;width:185.0px;height:56.5px;background:#77c2ea;"></div>
<div class=r style="left:840.0px;top:4487.0px;width:185.0px;height:37.0px;background:#e9e9e9;"></div>
<div class=r style="left:840.0px;top:4524.0px;width:185.0px;height:38.5px;background:#d0d0d0;"></div>
<svg class=s style="left:841.5px;top:4430.5px;" width="47" height="64" viewBox="0 0 47 64"><polygon points='0,0 47,0 47,57 23.5,63.5 0,57' fill='#2499d9'/><rect x='9.6' y='11.2' width='29.9' height='33' rx='5.5' fill='#fff'/><rect x='19.5' y='13.6' width='10' height='2.2' rx='1' fill='#2499d9'/><rect x='12' y='18.5' width='24.7' height='14.8' rx='1' fill='#2499d9'/><circle cx='14.6' cy='38.6' r='2.1' fill='#2499d9'/><circle cx='34.5' cy='38.6' r='2.1' fill='#2499d9'/><rect x='9.6' y='42' width='9' height='6.5' rx='2.2' fill='#fff'/><rect x='30.5' y='42' width='9' height='6.5' rx='2.2' fill='#fff'/><rect x='4.1' y='20.5' width='3.2' height='8' rx='1.4' fill='#fff'/><rect x='41.8' y='20.5' width='3.2' height='8' rx='1.4' fill='#fff'/></svg>
<div class=t style="left:-545.0px;width:3000px;text-align:center;top:4439.8px;font-size:18px;font-weight:400;color:#fff;"><span style="display:inline-block;transform:scaleX(1.16);transform-origin:center;">Öffentliche</span></div>
<div class=t style="left:-545.0px;width:3000px;text-align:center;top:4459.8px;font-size:18px;font-weight:400;color:#fff;"><span style="display:inline-block;transform:scaleX(1.125);transform-origin:center;">Verkehrsmittel</span></div>
<svg class=s style="left:857.5px;top:4498.5px;" width="16" height="16" viewBox="0 0 16 16"><rect x='1' y='0.5' width='14' height='2.2' fill='#4a4a4a'/><rect x='1' y='13.3' width='14' height='2.2' fill='#4a4a4a'/><path d='M2.5 2.7 H13.5 L9.2 8 L13.5 13.3 H2.5 L6.8 8 Z' fill='none' stroke='#4a4a4a' stroke-width='1.6'/><path d='M5 12.4 L8 9.6 L11 12.4 Z' fill='#4a4a4a'/></svg>
<svg class=s style="left:854.5px;top:4536.0px;" width="21" height="15" viewBox="0 0 21 15"><rect x='1' y='1' width='19' height='13' rx='1.6' fill='none' stroke='#4a4a4a' stroke-width='1.8'/><rect x='1' y='4' width='19' height='3' fill='#4a4a4a'/><rect x='3.5' y='10' width='3' height='1.4' fill='#4a4a4a'/><rect x='7.5' y='10' width='3' height='1.4' fill='#4a4a4a'/></svg>
<div class=t style="left:-547.0px;width:3000px;text-align:center;top:4490.8px;font-size:28px;font-weight:400;color:#111;-webkit-text-stroke:0.6px #111;"><span style="display:inline-block;transform:scaleX(1.074);transform-origin:center;">15 Min.</span></div>
<div class=t style="left:-547.0px;width:3000px;text-align:center;top:4525.8px;font-size:28px;font-weight:400;color:#111;-webkit-text-stroke:0.6px #111;"><span style="display:inline-block;transform:scaleX(1.031);transform-origin:center;">€ 2,20</span></div>
<div class=r style="left:1029.5px;top:4430.5px;width:185.5px;height:56.5px;background:#77c2ea;"></div>
<div class=r style="left:1029.5px;top:4487.0px;width:185.5px;height:37.0px;background:#e9e9e9;"></div>
<div class=r style="left:1029.5px;top:4524.0px;width:185.5px;height:38.5px;background:#d0d0d0;"></div>
<svg class=s style="left:1031.0px;top:4430.5px;" width="47" height="64" viewBox="0 0 47 64"><polygon points='0,0 47,0 47,57 23.5,63.5 0,57' fill='#2499d9'/><g transform='translate(0 3.5)'><rect x='16' y='9.5' width='15' height='6' rx='1' fill='#fff'/><text x='23.5' y='14.6' font-size='4.8' font-weight='700' text-anchor='middle' fill='#2499d9' font-family="Liberation Sans">TAXI</text><path d='M11 16 H36 L40.5 27 H6.5 Z' fill='#fff'/><path d='M14 19 H33 L35.6 26 H11.4 Z' fill='#2499d9'/><rect x='4.5' y='26' width='38' height='15' rx='4' fill='#fff'/><rect x='7.5' y='39' width='8' height='7' rx='2' fill='#fff'/><rect x='31.5' y='39' width='8' height='7' rx='2' fill='#fff'/><rect x='8.5' y='30' width='6.5' height='4' rx='2' fill='#2499d9'/><rect x='32' y='30' width='6.5' height='4' rx='2' fill='#2499d9'/><rect x='3' y='25' width='4' height='3' rx='1' fill='#fff'/><rect x='40' y='25' width='4' height='3' rx='1' fill='#fff'/></g></svg>
<div class=t style="left:-350.0px;width:3000px;text-align:center;top:4459.8px;font-size:18px;font-weight:400;color:#fff;"><span style="display:inline-block;transform:scaleX(1.125);transform-origin:center;">Taxi</span></div>
<svg class=s style="left:1047.0px;top:4498.5px;" width="16" height="16" viewBox="0 0 16 16"><rect x='1' y='0.5' width='14' height='2.2' fill='#4a4a4a'/><rect x='1' y='13.3' width='14' height='2.2' fill='#4a4a4a'/><path d='M2.5 2.7 H13.5 L9.2 8 L13.5 13.3 H2.5 L6.8 8 Z' fill='none' stroke='#4a4a4a' stroke-width='1.6'/><path d='M5 12.4 L8 9.6 L11 12.4 Z' fill='#4a4a4a'/></svg>
<svg class=s style="left:1044.0px;top:4536.0px;" width="21" height="15" viewBox="0 0 21 15"><rect x='1' y='1' width='19' height='13' rx='1.6' fill='none' stroke='#4a4a4a' stroke-width='1.8'/><rect x='1' y='4' width='19' height='3' fill='#4a4a4a'/><rect x='3.5' y='10' width='3' height='1.4' fill='#4a4a4a'/><rect x='7.5' y='10' width='3' height='1.4' fill='#4a4a4a'/></svg>
<div class=t style="left:-352.0px;width:3000px;text-align:center;top:4490.8px;font-size:28px;font-weight:400;color:#111;-webkit-text-stroke:0.6px #111;"><span style="display:inline-block;transform:scaleX(1.074);transform-origin:center;">9 Min.</span></div>
<div class=t style="left:-352.0px;width:3000px;text-align:center;top:4525.8px;font-size:28px;font-weight:400;color:#111;-webkit-text-stroke:0.6px #111;"><span style="display:inline-block;transform:scaleX(1.031);transform-origin:center;">€ 10,00</span></div>
<div class=r style="left:1025.0px;top:4430.5px;width:4.5px;height:132.0px;background:#ffffff;"></div>
<div class=t style="left:-869.5px;width:3000px;text-align:center;top:4649.1px;font-size:13.5px;font-weight:400;color:#222;"><span style="display:inline-block;transform:scaleX(1.0167);transform-origin:center;">Die Ergebnisse basieren auf den meist-gesuchten europäischen Destinationen für Hin- und Rückflüge ab Österreich, die auf checkfelix zwischen 01.10.2016 und 22.08.2017 für</span></div>
<div class=t style="left:-882.0px;width:3000px;text-align:center;top:4665.1px;font-size:13.5px;font-weight:400;color:#222;"><span style="display:inline-block;transform:scaleX(0.991);transform-origin:center;">den Reisezeitraum 2017 getätigt wurden. Die Reisedauer sowie Kosten für Taxi und öffentliche Verkehrsmittel wurden im September 2017 recherchiert. Informationen und Preise</span></div>
<div class=t style="left:-882.0px;width:3000px;text-align:center;top:4681.1px;font-size:13.5px;font-weight:400;color:#222;"><span style="display:inline-block;">können sich seitdem verändert haben oder gar nicht mehr verfügbar sein.</span></div>
<div class=r style="left:80.0px;top:4717.0px;width:1090.0px;height:1.5px;background:#555;"></div>
<div class=t style="left:-877.0px;width:3000px;text-align:center;top:4737.7px;font-size:104px;font-weight:700;color:#1f97d8;-webkit-text-stroke:2.5px #1f97d8;"><span style="display:inline-block;transform:scaleX(0.835);transform-origin:center;">checkfelix</span></div>
<div class=t style="left:-874.2px;width:3000px;text-align:center;top:4829.0px;font-size:52px;font-weight:700;color:#1f97d8;-webkit-text-stroke:1.5px #1f97d8;"><span style="display:inline-block;transform:scaleX(0.876);transform-origin:center;">oder check gar nix!</span></div>
</div></body></html>
